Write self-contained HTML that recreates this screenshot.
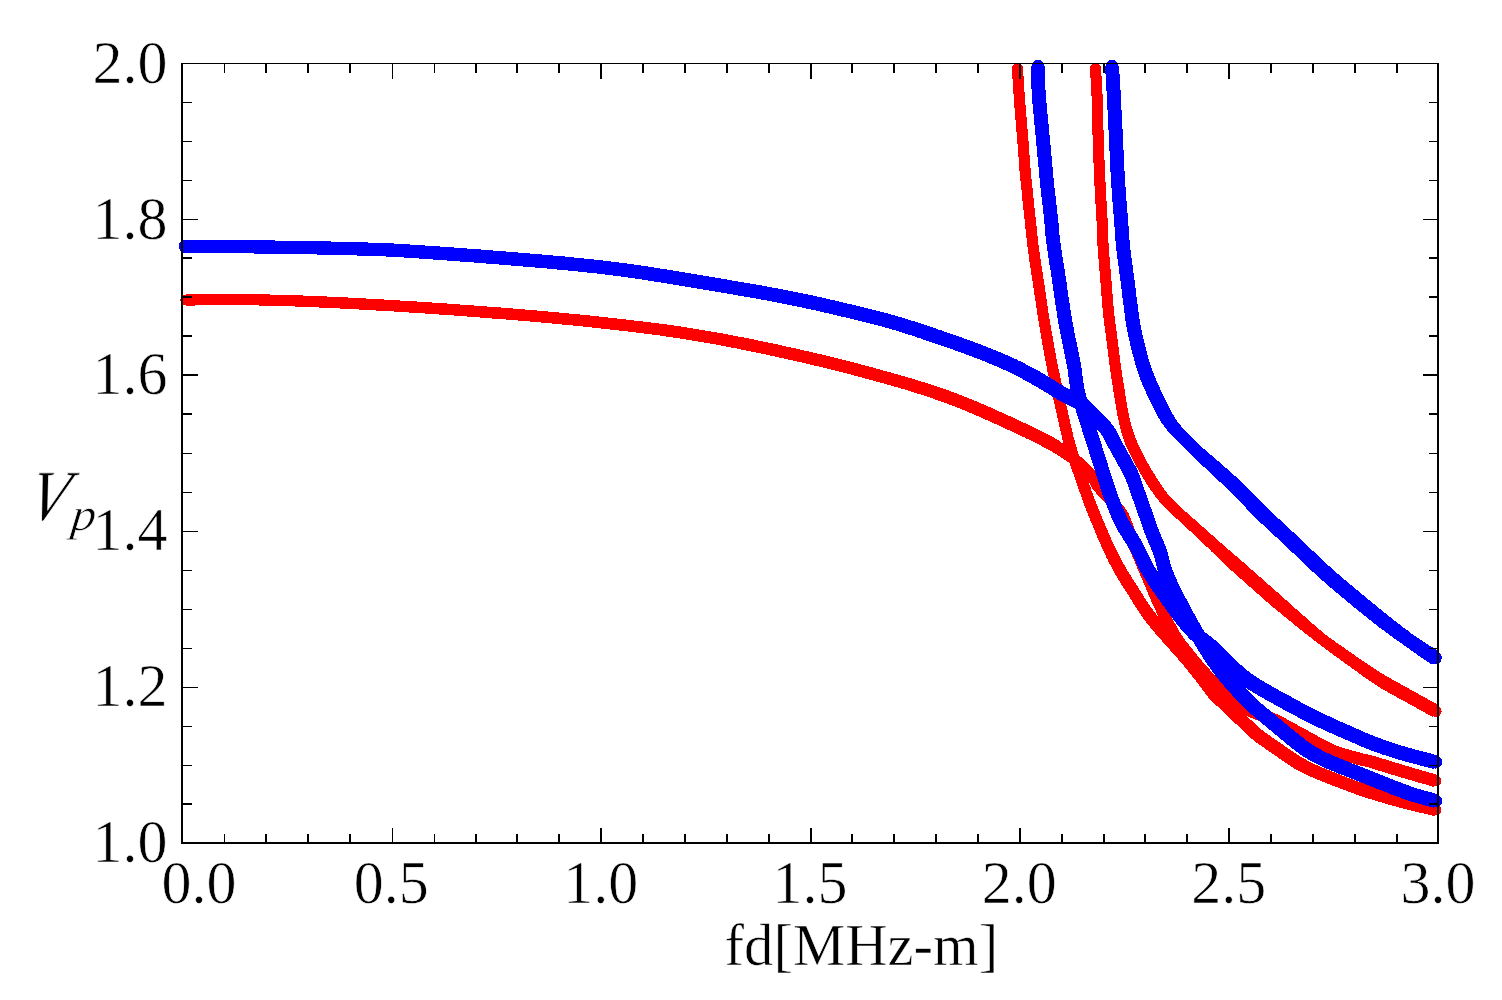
<!DOCTYPE html>
<html lang="en"><head><meta charset="utf-8"><title>Vp vs fd</title>
<style>html,body{margin:0;padding:0;background:#fff;}body{width:1502px;height:1000px;overflow:hidden;position:relative;}</style>
</head><body>
<svg width="1502" height="1000" viewBox="0 0 1502 1000" style="position:absolute;left:0;top:0">
<rect x="0" y="0" width="1502" height="1000" fill="#ffffff"/>
<g fill="#ff0000" stroke="none" fill-rule="nonzero" shape-rendering="crispEdges">
<path d="M186.1 305.6 L187.6 305.6 L189.1 305.5 L190.6 305.5 L192.1 305.5 L193.6 305.5 L195.1 305.5 L196.6 305.4 L198.1 305.4 L199.6 305.4 L201.1 305.4 L202.6 305.4 L204.0 305.4 L205.5 305.3 L207.0 305.3 L208.5 305.3 L210.0 305.3 L211.5 305.3 L213.0 305.3 L214.5 305.3 L216.0 305.3 L217.5 305.2 L219.0 305.2 L220.5 305.2 L222.0 305.2 L223.5 305.2 L225.0 305.2 L226.5 305.2 L228.0 305.2 L229.5 305.2 L231.0 305.2 L232.5 305.2 L234.0 305.2 L235.5 305.2 L236.9 305.2 L238.4 305.2 L239.9 305.2 L241.4 305.3 L242.9 305.3 L244.4 305.3 L245.9 305.3 L247.4 305.3 L248.9 305.3 L250.4 305.3 L251.9 305.4 L253.4 305.4 L254.9 305.4 L256.4 305.4 L257.9 305.4 L259.4 305.5 L260.9 305.5 L262.3 305.5 L263.8 305.6 L265.3 305.6 L266.8 305.6 L268.3 305.6 L269.8 305.7 L271.3 305.7 L272.8 305.8 L274.3 305.8 L275.8 305.8 L277.3 305.9 L278.8 305.9 L280.3 306.0 L281.8 306.0 L283.2 306.0 L284.7 306.1 L286.2 306.1 L287.7 306.2 L289.2 306.2 L290.7 306.3 L292.2 306.4 L293.7 306.4 L295.2 306.5 L296.7 306.5 L298.2 306.6 L299.7 306.7 L301.2 306.7 L302.6 306.8 L304.1 306.8 L305.6 306.9 L307.1 307.0 L308.6 307.0 L310.1 307.1 L311.6 307.2 L313.1 307.2 L314.6 307.3 L316.1 307.4 L317.6 307.4 L319.1 307.5 L320.6 307.6 L322.1 307.6 L323.6 307.7 L325.1 307.8 L326.6 307.9 L328.1 307.9 L329.6 308.0 L331.1 308.1 L332.5 308.1 L334.0 308.2 L335.5 308.3 L337.0 308.4 L338.5 308.4 L340.0 308.5 L341.5 308.6 L343.0 308.7 L344.5 308.7 L346.0 308.8 L347.5 308.9 L349.0 309.0 L350.5 309.1 L352.0 309.1 L353.5 309.2 L355.0 309.3 L356.5 309.4 L358.0 309.4 L359.5 309.5 L360.9 309.6 L362.4 309.7 L363.9 309.8 L365.4 309.9 L366.9 309.9 L368.4 310.0 L369.9 310.1 L371.4 310.2 L372.9 310.3 L374.4 310.4 L375.9 310.5 L377.4 310.5 L378.9 310.6 L380.4 310.7 L381.9 310.8 L383.4 310.9 L384.9 311.0 L386.3 311.1 L387.8 311.2 L389.3 311.2 L390.8 311.3 L392.3 311.4 L393.8 311.5 L395.3 311.6 L396.8 311.7 L398.3 311.8 L399.8 311.9 L401.3 312.0 L402.8 312.1 L404.3 312.2 L405.8 312.3 L407.3 312.4 L408.8 312.5 L410.3 312.6 L411.7 312.6 L413.2 312.7 L414.7 312.8 L416.2 312.9 L417.7 313.0 L419.2 313.1 L420.7 313.2 L422.2 313.3 L423.7 313.4 L425.2 313.5 L426.7 313.6 L428.2 313.7 L429.7 313.8 L431.2 313.9 L432.7 314.0 L434.2 314.1 L435.6 314.3 L437.1 314.4 L438.6 314.5 L440.1 314.6 L441.6 314.7 L443.1 314.8 L444.6 314.9 L446.1 315.0 L447.6 315.1 L449.1 315.2 L450.6 315.3 L452.1 315.4 L453.6 315.5 L455.1 315.6 L456.6 315.7 L458.1 315.9 L459.5 316.0 L461.0 316.1 L462.5 316.2 L464.0 316.3 L465.5 316.4 L467.0 316.5 L468.5 316.6 L470.0 316.7 L471.5 316.9 L473.0 317.0 L474.5 317.1 L476.0 317.2 L477.5 317.3 L479.0 317.4 L480.4 317.5 L481.9 317.7 L483.4 317.8 L484.9 317.9 L486.4 318.0 L487.9 318.1 L489.4 318.2 L490.9 318.4 L492.4 318.5 L493.9 318.6 L495.4 318.7 L496.9 318.8 L498.4 318.9 L499.8 319.1 L501.3 319.2 L502.8 319.3 L504.3 319.4 L505.8 319.5 L507.3 319.7 L508.8 319.8 L510.3 319.9 L511.8 320.0 L513.3 320.2 L514.8 320.3 L516.3 320.4 L517.8 320.5 L519.2 320.7 L520.7 320.8 L522.2 320.9 L523.7 321.0 L525.2 321.2 L526.7 321.3 L528.2 321.4 L529.7 321.5 L531.2 321.7 L532.7 321.8 L534.2 321.9 L535.7 322.1 L537.1 322.2 L538.6 322.3 L540.1 322.4 L541.6 322.6 L543.1 322.7 L544.6 322.8 L546.1 323.0 L547.6 323.1 L549.1 323.2 L550.6 323.4 L552.1 323.5 L553.5 323.6 L555.0 323.8 L556.5 323.9 L558.0 324.1 L559.5 324.2 L561.0 324.3 L562.5 324.5 L564.0 324.6 L565.4 324.8 L566.9 324.9 L568.4 325.1 L569.9 325.2 L571.4 325.4 L572.9 325.5 L574.4 325.6 L575.9 325.8 L577.4 325.9 L578.8 326.1 L580.3 326.3 L581.8 326.4 L583.3 326.6 L584.8 326.7 L586.3 326.9 L587.8 327.0 L589.2 327.2 L590.7 327.3 L592.2 327.5 L593.7 327.7 L595.2 327.8 L596.7 328.0 L598.2 328.1 L599.7 328.3 L601.1 328.5 L602.6 328.6 L604.1 328.8 L605.6 329.0 L607.1 329.1 L608.6 329.3 L610.1 329.5 L611.5 329.6 L613.0 329.8 L614.5 330.0 L616.0 330.1 L617.5 330.3 L619.0 330.5 L620.5 330.7 L621.9 330.8 L623.4 331.0 L624.9 331.2 L626.4 331.4 L627.9 331.5 L629.4 331.7 L630.9 331.9 L632.3 332.1 L633.8 332.2 L635.3 332.4 L636.8 332.6 L638.3 332.8 L639.8 333.0 L641.3 333.2 L642.7 333.3 L644.2 333.5 L645.7 333.7 L647.2 333.9 L648.7 334.1 L650.2 334.3 L651.6 334.5 L653.1 334.7 L654.6 334.8 L656.1 335.0 L657.6 335.2 L659.0 335.4 L660.5 335.6 L662.0 335.9 L663.5 336.1 L664.9 336.3 L666.4 336.5 L667.9 336.7 L669.4 336.9 L670.8 337.1 L672.3 337.3 L673.8 337.6 L675.3 337.8 L676.7 338.0 L678.2 338.2 L679.7 338.5 L681.2 338.7 L682.6 338.9 L684.1 339.2 L685.6 339.4 L687.0 339.6 L688.5 339.9 L690.0 340.1 L691.5 340.3 L692.9 340.6 L694.4 340.8 L695.9 341.1 L697.3 341.3 L698.8 341.6 L700.3 341.8 L701.8 342.1 L703.2 342.3 L704.7 342.6 L706.2 342.9 L707.6 343.1 L709.1 343.4 L710.6 343.6 L712.0 343.9 L713.5 344.2 L715.0 344.4 L716.5 344.7 L717.9 345.0 L719.4 345.2 L720.9 345.5 L722.3 345.8 L723.8 346.1 L725.3 346.3 L726.7 346.6 L728.2 346.9 L729.7 347.2 L731.1 347.5 L732.6 347.7 L734.1 348.0 L735.5 348.3 L737.0 348.6 L738.5 348.9 L739.9 349.2 L741.4 349.5 L742.9 349.8 L744.3 350.1 L745.8 350.4 L747.3 350.7 L748.7 351.0 L750.2 351.3 L751.6 351.6 L753.1 351.9 L754.6 352.2 L756.0 352.5 L757.5 352.8 L759.0 353.1 L760.4 353.4 L761.9 353.7 L763.3 354.0 L764.8 354.3 L766.3 354.6 L767.7 354.9 L769.2 355.2 L770.6 355.6 L772.1 355.9 L773.6 356.2 L775.0 356.5 L776.5 356.8 L777.9 357.2 L779.4 357.5 L780.8 357.8 L782.3 358.1 L783.8 358.5 L785.2 358.8 L786.7 359.1 L788.1 359.4 L789.6 359.8 L791.1 360.1 L792.5 360.4 L794.0 360.8 L795.4 361.1 L796.9 361.4 L798.3 361.8 L799.8 362.1 L801.2 362.4 L802.7 362.8 L804.2 363.1 L805.6 363.4 L807.1 363.8 L808.5 364.1 L810.0 364.5 L811.4 364.8 L812.9 365.2 L814.4 365.5 L815.8 365.8 L817.3 366.2 L818.7 366.5 L820.2 366.9 L821.6 367.2 L823.1 367.6 L824.5 367.9 L826.0 368.3 L827.4 368.7 L828.9 369.0 L830.3 369.4 L831.8 369.7 L833.2 370.1 L834.7 370.5 L836.1 370.8 L837.6 371.2 L839.0 371.6 L840.5 371.9 L841.9 372.3 L843.3 372.7 L844.8 373.0 L846.2 373.4 L847.7 373.8 L849.1 374.2 L850.6 374.5 L852.0 374.9 L853.5 375.3 L854.9 375.7 L856.3 376.1 L857.8 376.4 L859.2 376.8 L860.7 377.2 L862.1 377.6 L863.6 378.0 L865.0 378.4 L866.4 378.8 L867.9 379.2 L869.3 379.6 L870.8 379.9 L872.2 380.3 L873.6 380.7 L875.1 381.1 L876.5 381.5 L878.0 381.9 L879.4 382.3 L880.8 382.7 L882.3 383.1 L883.7 383.5 L885.2 383.9 L886.6 384.4 L888.0 384.8 L889.5 385.2 L890.9 385.6 L892.4 386.0 L893.8 386.4 L895.2 386.8 L896.7 387.2 L898.1 387.6 L899.5 388.1 L901.0 388.5 L902.4 388.9 L903.8 389.3 L905.2 389.7 L906.7 390.2 L908.1 390.6 L909.5 391.0 L910.9 391.5 L912.4 391.9 L913.8 392.3 L915.2 392.8 L916.6 393.2 L918.0 393.7 L919.5 394.1 L920.9 394.6 L922.3 395.0 L923.7 395.5 L925.1 396.0 L926.5 396.4 L927.9 396.9 L929.3 397.4 L930.7 397.8 L932.1 398.3 L933.5 398.8 L934.9 399.3 L936.3 399.8 L937.7 400.3 L939.1 400.7 L940.5 401.2 L941.9 401.7 L943.3 402.2 L944.7 402.8 L946.1 403.3 L947.5 403.8 L948.9 404.3 L950.3 404.8 L951.7 405.4 L953.1 405.9 L954.4 406.4 L955.8 407.0 L957.2 407.5 L958.6 408.0 L959.9 408.6 L961.3 409.2 L962.7 409.7 L964.1 410.3 L965.4 410.8 L966.8 411.4 L968.2 412.0 L969.5 412.6 L970.9 413.1 L972.3 413.7 L973.6 414.3 L975.0 414.9 L976.3 415.5 L977.7 416.1 L979.1 416.7 L980.4 417.3 L981.8 417.9 L983.1 418.5 L984.5 419.1 L985.9 419.7 L987.2 420.3 L988.6 420.9 L990.0 421.5 L991.3 422.2 L992.7 422.8 L994.0 423.4 L995.4 424.0 L996.8 424.6 L998.1 425.2 L999.5 425.9 L1000.9 426.5 L1002.2 427.1 L1003.6 427.7 L1004.9 428.3 L1006.3 429.0 L1007.7 429.6 L1009.0 430.2 L1010.4 430.8 L1011.7 431.4 L1013.1 432.1 L1014.4 432.7 L1015.8 433.3 L1017.1 434.0 L1018.5 434.6 L1019.8 435.2 L1021.1 435.9 L1022.5 436.5 L1023.8 437.2 L1025.2 437.8 L1026.5 438.5 L1027.8 439.1 L1029.2 439.8 L1030.5 440.4 L1031.8 441.1 L1033.2 441.7 L1034.5 442.4 L1035.8 443.1 L1037.1 443.7 L1038.5 444.4 L1039.8 445.1 L1041.1 445.8 L1042.4 446.5 L1043.7 447.1 L1045.0 447.8 L1046.3 448.5 L1047.6 449.2 L1048.8 449.8 L1050.0 450.5 L1051.3 451.2 L1052.5 451.9 L1053.7 452.7 L1054.9 453.4 L1056.1 454.2 L1057.4 455.0 L1058.6 455.8 L1059.8 456.6 L1061.1 457.4 L1062.3 458.2 L1063.6 459.1 L1064.8 459.9 L1066.1 460.7 L1067.3 461.5 L1068.5 462.4 L1069.7 463.2 L1070.9 464.0 L1072.0 464.9 L1073.2 465.7 L1074.3 466.6 L1075.5 467.5 L1076.6 468.3 L1077.7 469.2 L1078.8 470.1 L1079.9 471.1 L1081.0 472.0 L1082.0 472.9 L1083.0 473.9 L1083.9 474.8 L1084.8 475.7 L1085.5 476.7 L1086.2 477.7 L1086.9 478.8 L1087.6 479.9 L1088.3 481.2 L1089.0 482.5 L1089.7 483.8 L1090.5 485.2 L1091.3 486.6 L1092.2 488.1 L1093.1 489.5 L1094.2 490.9 L1095.2 492.1 L1096.3 493.4 L1097.4 494.6 L1098.5 495.7 L1099.5 496.8 L1100.6 497.9 L1101.6 499.0 L1102.7 500.1 L1103.7 501.1 L1104.7 502.2 L1105.7 503.2 L1106.7 504.3 L1107.6 505.4 L1108.5 506.6 L1109.5 507.7 L1110.4 508.9 L1111.3 510.1 L1112.2 511.2 L1113.1 512.3 L1113.9 513.5 L1114.8 514.6 L1115.5 515.7 L1116.3 516.7 L1116.9 517.8 L1117.6 518.9 L1118.2 520.0 L1118.8 521.2 L1119.4 522.4 L1120.0 523.6 L1120.6 524.9 L1121.1 526.2 L1121.6 527.6 L1122.1 528.9 L1122.6 530.3 L1123.1 531.7 L1123.6 533.1 L1124.0 534.5 L1124.5 535.9 L1125.0 537.3 L1125.4 538.8 L1125.9 540.2 L1126.4 541.7 L1127.0 543.2 L1127.5 544.7 L1128.1 546.1 L1128.6 547.5 L1129.2 549.0 L1129.8 550.4 L1130.4 551.7 L1131.0 553.1 L1131.6 554.5 L1132.1 555.9 L1132.7 557.3 L1133.3 558.6 L1133.9 560.0 L1134.5 561.4 L1135.1 562.8 L1135.6 564.2 L1136.2 565.6 L1136.8 566.9 L1137.4 568.3 L1138.0 569.7 L1138.6 571.1 L1139.1 572.5 L1139.7 573.8 L1140.3 575.2 L1140.9 576.6 L1141.5 578.0 L1142.1 579.4 L1142.6 580.7 L1143.2 582.1 L1143.8 583.5 L1144.4 584.9 L1145.0 586.3 L1145.6 587.6 L1146.1 589.0 L1146.7 590.4 L1147.3 591.8 L1147.9 593.2 L1148.5 594.6 L1149.1 596.0 L1149.7 597.4 L1150.3 598.7 L1150.9 600.1 L1151.5 601.5 L1152.2 602.9 L1152.8 604.2 L1153.4 605.6 L1154.0 607.0 L1154.6 608.3 L1155.2 609.7 L1155.8 611.1 L1156.4 612.5 L1157.1 613.8 L1157.7 615.2 L1158.3 616.6 L1158.9 618.0 L1159.6 619.4 L1160.2 620.7 L1160.8 622.1 L1161.5 623.5 L1162.1 624.9 L1162.8 626.3 L1163.5 627.6 L1164.2 629.0 L1164.8 630.4 L1165.5 631.8 L1166.3 633.2 L1167.0 634.6 L1167.7 635.9 L1168.5 637.3 L1169.3 638.7 L1170.1 640.1 L1170.9 641.4 L1171.8 642.7 L1172.6 644.0 L1173.5 645.3 L1174.4 646.6 L1175.2 647.9 L1176.1 649.2 L1177.0 650.4 L1178.0 651.7 L1178.9 652.9 L1179.8 654.2 L1180.8 655.4 L1181.7 656.6 L1182.7 657.8 L1183.6 659.0 L1184.6 660.2 L1185.6 661.4 L1186.5 662.5 L1187.5 663.7 L1188.5 664.9 L1189.4 666.0 L1190.4 667.2 L1191.4 668.4 L1192.4 669.5 L1193.3 670.7 L1194.3 671.9 L1195.3 673.0 L1196.3 674.2 L1197.3 675.3 L1198.3 676.5 L1199.3 677.6 L1200.4 678.7 L1201.4 679.9 L1202.4 681.0 L1203.4 682.1 L1204.4 683.2 L1205.5 684.4 L1206.5 685.5 L1207.6 686.6 L1208.6 687.7 L1209.7 688.8 L1210.7 689.9 L1211.8 691.0 L1212.8 692.1 L1213.9 693.1 L1215.0 694.2 L1216.0 695.3 L1217.1 696.4 L1218.2 697.5 L1219.3 698.6 L1220.5 699.7 L1221.7 700.8 L1222.9 701.9 L1224.1 703.0 L1225.4 704.0 L1226.7 705.1 L1228.1 706.1 L1229.5 707.0 L1230.9 707.9 L1232.4 708.7 L1233.8 709.5 L1235.2 710.3 L1236.6 711.1 L1238.0 711.8 L1239.4 712.5 L1240.8 713.2 L1242.2 713.8 L1243.6 714.5 L1245.0 715.1 L1246.4 715.7 L1247.8 716.4 L1249.2 717.0 L1250.6 717.6 L1252.0 718.2 L1253.4 718.8 L1254.9 719.4 L1256.3 720.0 L1257.7 720.5 L1259.2 721.1 L1260.6 721.6 L1262.0 722.2 L1263.4 722.7 L1264.8 723.3 L1266.1 723.8 L1267.5 724.3 L1268.8 724.9 L1270.1 725.5 L1271.4 726.0 L1272.7 726.6 L1273.9 727.2 L1275.1 727.9 L1276.4 728.5 L1277.6 729.2 L1278.9 729.9 L1280.2 730.6 L1281.5 731.4 L1282.9 732.1 L1284.2 732.8 L1285.5 733.5 L1286.8 734.2 L1288.1 734.9 L1289.4 735.7 L1290.7 736.4 L1292.1 737.1 L1293.4 737.8 L1294.7 738.5 L1296.0 739.3 L1297.3 740.0 L1298.6 740.7 L1300.0 741.4 L1301.3 742.1 L1302.6 742.8 L1303.9 743.6 L1305.2 744.3 L1306.5 745.0 L1307.8 745.7 L1309.2 746.4 L1310.5 747.1 L1311.8 747.9 L1313.1 748.6 L1314.4 749.3 L1315.7 750.0 L1317.1 750.7 L1318.4 751.5 L1319.7 752.2 L1321.1 752.9 L1322.5 753.7 L1324.0 754.4 L1325.4 755.0 L1326.9 755.7 L1328.4 756.3 L1329.9 756.9 L1331.4 757.4 L1332.9 757.9 L1334.4 758.4 L1335.9 758.9 L1337.4 759.4 L1338.9 759.8 L1340.5 760.3 L1342.0 760.7 L1343.4 761.1 L1344.9 761.5 L1346.4 761.9 L1347.9 762.3 L1349.4 762.7 L1350.9 763.0 L1352.3 763.4 L1353.8 763.8 L1355.2 764.2 L1356.7 764.6 L1358.2 764.9 L1359.7 765.3 L1361.1 765.7 L1362.6 766.0 L1364.1 766.4 L1365.5 766.7 L1366.9 767.1 L1368.3 767.4 L1369.7 767.8 L1371.0 768.3 L1372.4 768.7 L1373.8 769.1 L1375.3 769.6 L1376.7 770.0 L1378.1 770.4 L1379.5 770.9 L1381.0 771.3 L1382.4 771.8 L1383.8 772.2 L1385.3 772.6 L1386.7 773.1 L1388.1 773.5 L1389.6 774.0 L1391.0 774.4 L1392.5 774.8 L1393.9 775.3 L1395.4 775.7 L1396.8 776.1 L1398.3 776.5 L1399.7 777.0 L1401.1 777.4 L1402.6 777.8 L1404.0 778.2 L1405.4 778.7 L1406.9 779.1 L1408.3 779.5 L1409.8 779.9 L1411.2 780.3 L1412.6 780.8 L1414.1 781.2 L1415.5 781.6 L1417.0 782.0 L1418.4 782.5 L1419.8 782.9 L1421.3 783.3 L1422.7 783.7 L1424.2 784.1 L1425.6 784.5 L1427.1 785.0 L1428.5 785.4 L1429.9 785.8 L1431.4 786.2 L1432.8 786.6 L1434.3 787.0 L1437.7 775.0 L1436.3 774.6 L1434.9 774.1 L1433.4 773.7 L1432.0 773.3 L1430.5 772.9 L1429.1 772.5 L1427.7 772.1 L1426.2 771.6 L1424.8 771.2 L1423.4 770.8 L1421.9 770.4 L1420.5 770.0 L1419.1 769.5 L1417.6 769.1 L1416.2 768.7 L1414.7 768.3 L1413.3 767.9 L1411.9 767.4 L1410.4 767.0 L1409.0 766.6 L1407.6 766.2 L1406.1 765.7 L1404.7 765.3 L1403.3 764.9 L1401.8 764.5 L1400.4 764.0 L1399.0 763.6 L1397.5 763.2 L1396.1 762.8 L1394.7 762.3 L1393.3 761.9 L1391.8 761.4 L1390.4 761.0 L1389.0 760.6 L1387.5 760.1 L1386.1 759.7 L1384.7 759.2 L1383.2 758.8 L1381.8 758.4 L1380.4 757.9 L1378.9 757.5 L1377.5 757.1 L1376.0 756.6 L1374.5 756.2 L1373.0 755.8 L1371.5 755.4 L1370.0 755.0 L1368.5 754.7 L1367.0 754.3 L1365.5 754.0 L1364.1 753.7 L1362.7 753.3 L1361.3 752.9 L1359.8 752.5 L1358.4 752.1 L1356.9 751.8 L1355.5 751.4 L1354.0 751.0 L1352.6 750.6 L1351.1 750.2 L1349.7 749.8 L1348.3 749.4 L1346.8 749.0 L1345.4 748.6 L1344.1 748.2 L1342.7 747.8 L1341.3 747.3 L1340.0 746.9 L1338.6 746.4 L1337.3 745.9 L1336.0 745.4 L1334.7 744.9 L1333.4 744.3 L1332.2 743.7 L1330.9 743.2 L1329.7 742.6 L1328.5 741.9 L1327.2 741.3 L1326.0 740.6 L1324.7 739.9 L1323.4 739.1 L1322.1 738.4 L1320.8 737.7 L1319.4 737.0 L1318.1 736.3 L1316.8 735.6 L1315.5 734.8 L1314.2 734.1 L1312.9 733.4 L1311.5 732.7 L1310.2 732.0 L1308.9 731.2 L1307.6 730.5 L1306.3 729.8 L1305.0 729.1 L1303.6 728.4 L1302.3 727.7 L1301.0 726.9 L1299.7 726.2 L1298.4 725.5 L1297.1 724.8 L1295.8 724.1 L1294.4 723.4 L1293.1 722.6 L1291.8 721.9 L1290.5 721.2 L1289.2 720.5 L1287.9 719.8 L1286.5 719.0 L1285.2 718.3 L1283.9 717.6 L1282.5 716.9 L1281.1 716.1 L1279.6 715.4 L1278.2 714.8 L1276.7 714.1 L1275.2 713.5 L1273.8 712.9 L1272.3 712.3 L1270.9 711.8 L1269.5 711.2 L1268.0 710.7 L1266.6 710.2 L1265.2 709.6 L1263.9 709.1 L1262.5 708.5 L1261.1 708.0 L1259.8 707.4 L1258.5 706.9 L1257.1 706.3 L1255.8 705.7 L1254.5 705.1 L1253.1 704.5 L1251.8 703.9 L1250.5 703.2 L1249.2 702.6 L1247.9 702.0 L1246.6 701.4 L1245.3 700.7 L1244.0 700.1 L1242.8 699.4 L1241.5 698.7 L1240.3 698.0 L1239.1 697.3 L1237.9 696.6 L1236.8 695.9 L1235.7 695.2 L1234.6 694.4 L1233.6 693.6 L1232.6 692.8 L1231.5 691.9 L1230.5 691.0 L1229.5 690.1 L1228.4 689.1 L1227.4 688.1 L1226.4 687.1 L1225.3 686.0 L1224.3 685.0 L1223.2 683.9 L1222.2 682.9 L1221.1 681.8 L1220.1 680.8 L1219.1 679.7 L1218.1 678.6 L1217.0 677.6 L1216.0 676.5 L1215.0 675.4 L1214.0 674.4 L1213.0 673.3 L1212.0 672.2 L1211.0 671.1 L1210.0 670.0 L1209.0 669.0 L1208.0 667.9 L1207.1 666.8 L1206.1 665.7 L1205.1 664.5 L1204.2 663.4 L1203.2 662.3 L1202.2 661.2 L1201.3 660.0 L1200.3 658.9 L1199.3 657.7 L1198.4 656.6 L1197.4 655.5 L1196.5 654.3 L1195.5 653.2 L1194.6 652.0 L1193.6 650.9 L1192.7 649.7 L1191.8 648.6 L1190.8 647.5 L1189.9 646.3 L1189.0 645.2 L1188.2 644.0 L1187.3 642.9 L1186.4 641.7 L1185.5 640.5 L1184.7 639.4 L1183.9 638.2 L1183.1 637.0 L1182.2 635.9 L1181.5 634.7 L1180.7 633.5 L1179.9 632.3 L1179.2 631.1 L1178.4 629.9 L1177.7 628.6 L1177.0 627.4 L1176.3 626.1 L1175.7 624.8 L1175.0 623.5 L1174.3 622.2 L1173.7 620.9 L1173.0 619.6 L1172.4 618.3 L1171.7 616.9 L1171.1 615.6 L1170.5 614.3 L1169.8 612.9 L1169.2 611.6 L1168.6 610.3 L1168.0 608.9 L1167.4 607.6 L1166.8 606.2 L1166.1 604.8 L1165.5 603.5 L1164.9 602.1 L1164.3 600.7 L1163.7 599.4 L1163.1 598.0 L1162.5 596.6 L1161.9 595.3 L1161.3 593.9 L1160.7 592.5 L1160.1 591.2 L1159.5 589.8 L1158.9 588.5 L1158.3 587.1 L1157.7 585.7 L1157.1 584.4 L1156.5 583.0 L1155.9 581.6 L1155.4 580.2 L1154.8 578.9 L1154.2 577.5 L1153.6 576.1 L1153.0 574.7 L1152.4 573.3 L1151.9 572.0 L1151.3 570.6 L1150.7 569.2 L1150.1 567.8 L1149.5 566.4 L1148.9 565.1 L1148.4 563.7 L1147.8 562.3 L1147.2 560.9 L1146.6 559.5 L1146.0 558.2 L1145.4 556.8 L1144.9 555.4 L1144.3 554.0 L1143.7 552.6 L1143.1 551.3 L1142.5 549.9 L1141.9 548.5 L1141.4 547.1 L1140.8 545.7 L1140.2 544.4 L1139.6 543.0 L1139.0 541.7 L1138.5 540.4 L1138.0 539.1 L1137.5 537.7 L1137.0 536.4 L1136.5 535.0 L1136.0 533.6 L1135.5 532.2 L1135.1 530.8 L1134.6 529.3 L1134.1 527.9 L1133.6 526.4 L1133.1 525.0 L1132.6 523.5 L1132.1 522.0 L1131.5 520.5 L1131.0 519.0 L1130.4 517.5 L1129.7 516.0 L1129.0 514.4 L1128.2 512.9 L1127.3 511.4 L1126.4 510.0 L1125.4 508.6 L1124.4 507.3 L1123.3 506.0 L1122.3 504.8 L1121.2 503.6 L1120.1 502.5 L1119.1 501.4 L1118.0 500.3 L1117.0 499.2 L1115.9 498.1 L1114.9 496.9 L1113.9 495.8 L1112.8 494.6 L1111.7 493.5 L1110.7 492.4 L1109.6 491.3 L1108.6 490.2 L1107.6 489.2 L1106.6 488.1 L1105.6 487.1 L1104.7 486.0 L1103.8 485.0 L1102.9 484.0 L1102.2 483.0 L1101.5 482.0 L1100.8 480.9 L1100.1 479.7 L1099.4 478.4 L1098.7 477.1 L1098.0 475.7 L1097.2 474.3 L1096.3 472.9 L1095.4 471.4 L1094.4 470.0 L1093.3 468.6 L1092.1 467.3 L1091.0 466.1 L1089.8 464.9 L1088.6 463.8 L1087.5 462.7 L1086.3 461.6 L1085.2 460.5 L1084.0 459.5 L1082.8 458.5 L1081.6 457.5 L1080.4 456.5 L1079.2 455.5 L1077.9 454.6 L1076.7 453.6 L1075.5 452.7 L1074.3 451.8 L1073.0 450.8 L1071.8 449.9 L1070.6 449.1 L1069.3 448.2 L1068.1 447.3 L1066.9 446.4 L1065.7 445.5 L1064.5 444.6 L1063.2 443.7 L1061.9 442.8 L1060.7 441.9 L1059.4 441.0 L1058.0 440.1 L1056.7 439.3 L1055.3 438.4 L1053.9 437.6 L1052.6 436.9 L1051.2 436.2 L1049.8 435.5 L1048.5 434.8 L1047.1 434.1 L1045.8 433.4 L1044.4 432.7 L1043.1 432.0 L1041.7 431.3 L1040.4 430.6 L1039.0 430.0 L1037.6 429.3 L1036.3 428.6 L1034.9 428.0 L1033.6 427.3 L1032.2 426.7 L1030.9 426.0 L1029.5 425.3 L1028.1 424.7 L1026.8 424.0 L1025.4 423.4 L1024.0 422.8 L1022.7 422.1 L1021.3 421.5 L1019.9 420.8 L1018.6 420.2 L1017.2 419.6 L1015.8 419.0 L1014.5 418.3 L1013.1 417.7 L1011.7 417.1 L1010.4 416.4 L1009.0 415.8 L1007.6 415.2 L1006.3 414.6 L1004.9 414.0 L1003.5 413.3 L1002.1 412.7 L1000.8 412.1 L999.4 411.5 L998.0 410.9 L996.7 410.3 L995.3 409.6 L993.9 409.0 L992.6 408.4 L991.2 407.8 L989.8 407.2 L988.4 406.6 L987.0 406.0 L985.7 405.4 L984.3 404.8 L982.9 404.2 L981.5 403.6 L980.1 403.0 L978.7 402.4 L977.4 401.8 L976.0 401.2 L974.6 400.6 L973.2 400.0 L971.8 399.4 L970.4 398.9 L969.0 398.3 L967.6 397.7 L966.1 397.2 L964.7 396.6 L963.3 396.0 L961.9 395.5 L960.5 394.9 L959.1 394.4 L957.6 393.9 L956.2 393.3 L954.8 392.8 L953.4 392.3 L951.9 391.7 L950.5 391.2 L949.1 390.7 L947.7 390.2 L946.2 389.7 L944.8 389.2 L943.4 388.7 L941.9 388.2 L940.5 387.7 L939.1 387.2 L937.6 386.7 L936.2 386.2 L934.8 385.8 L933.3 385.3 L931.9 384.8 L930.5 384.3 L929.0 383.9 L927.6 383.4 L926.2 383.0 L924.7 382.5 L923.3 382.1 L921.8 381.6 L920.4 381.2 L918.9 380.7 L917.5 380.3 L916.1 379.8 L914.6 379.4 L913.2 379.0 L911.7 378.5 L910.3 378.1 L908.8 377.7 L907.4 377.2 L905.9 376.8 L904.5 376.4 L903.0 376.0 L901.6 375.6 L900.1 375.2 L898.7 374.7 L897.2 374.3 L895.8 373.9 L894.3 373.5 L892.9 373.1 L891.4 372.7 L890.0 372.3 L888.5 371.9 L887.1 371.5 L885.6 371.1 L884.2 370.7 L882.7 370.3 L881.3 369.9 L879.8 369.5 L878.4 369.1 L876.9 368.7 L875.5 368.3 L874.0 367.9 L872.6 367.5 L871.1 367.1 L869.7 366.7 L868.2 366.3 L866.8 365.9 L865.3 365.5 L863.9 365.2 L862.4 364.8 L861.0 364.4 L859.5 364.0 L858.1 363.6 L856.6 363.3 L855.2 362.9 L853.7 362.5 L852.3 362.1 L850.8 361.7 L849.3 361.4 L847.9 361.0 L846.4 360.6 L845.0 360.3 L843.5 359.9 L842.1 359.5 L840.6 359.2 L839.1 358.8 L837.7 358.4 L836.2 358.1 L834.8 357.7 L833.3 357.3 L831.8 357.0 L830.4 356.6 L828.9 356.3 L827.4 355.9 L826.0 355.6 L824.5 355.2 L823.0 354.9 L821.6 354.5 L820.1 354.2 L818.7 353.8 L817.2 353.5 L815.7 353.1 L814.3 352.8 L812.8 352.5 L811.3 352.1 L809.9 351.8 L808.4 351.4 L806.9 351.1 L805.5 350.8 L804.0 350.4 L802.6 350.1 L801.1 349.8 L799.6 349.4 L798.2 349.1 L796.7 348.8 L795.2 348.4 L793.8 348.1 L792.3 347.8 L790.8 347.4 L789.4 347.1 L787.9 346.8 L786.4 346.5 L785.0 346.1 L783.5 345.8 L782.0 345.5 L780.6 345.2 L779.1 344.9 L777.6 344.5 L776.2 344.2 L774.7 343.9 L773.2 343.6 L771.7 343.3 L770.3 343.0 L768.8 342.7 L767.3 342.3 L765.9 342.0 L764.4 341.7 L762.9 341.4 L761.4 341.1 L760.0 340.8 L758.5 340.5 L757.0 340.2 L755.6 339.9 L754.1 339.6 L752.6 339.3 L751.1 339.0 L749.7 338.7 L748.2 338.4 L746.7 338.1 L745.2 337.8 L743.8 337.5 L742.3 337.2 L740.8 337.0 L739.3 336.7 L737.9 336.4 L736.4 336.1 L734.9 335.8 L733.4 335.5 L731.9 335.3 L730.5 335.0 L729.0 334.7 L727.5 334.4 L726.0 334.2 L724.5 333.9 L723.1 333.6 L721.6 333.3 L720.1 333.1 L718.6 332.8 L717.1 332.5 L715.6 332.3 L714.2 332.0 L712.7 331.8 L711.2 331.5 L709.7 331.2 L708.2 331.0 L706.8 330.7 L705.3 330.5 L703.8 330.2 L702.3 330.0 L700.8 329.7 L699.3 329.5 L697.8 329.2 L696.4 329.0 L694.9 328.7 L693.4 328.5 L691.9 328.3 L690.4 328.0 L688.9 327.8 L687.4 327.6 L686.0 327.3 L684.5 327.1 L683.0 326.9 L681.5 326.7 L680.0 326.4 L678.5 326.2 L677.0 326.0 L675.5 325.8 L674.0 325.6 L672.5 325.3 L671.1 325.1 L669.6 324.9 L668.1 324.7 L666.6 324.5 L665.1 324.3 L663.6 324.1 L662.1 323.9 L660.6 323.7 L659.1 323.5 L657.6 323.3 L656.1 323.1 L654.6 322.9 L653.1 322.7 L651.6 322.6 L650.1 322.4 L648.7 322.2 L647.2 322.0 L645.7 321.8 L644.2 321.6 L642.7 321.5 L641.2 321.3 L639.7 321.1 L638.2 320.9 L636.7 320.7 L635.2 320.6 L633.7 320.4 L632.3 320.2 L630.8 320.0 L629.3 319.9 L627.8 319.7 L626.3 319.5 L624.8 319.3 L623.3 319.2 L621.8 319.0 L620.3 318.8 L618.8 318.6 L617.3 318.5 L615.8 318.3 L614.4 318.1 L612.9 318.0 L611.4 317.8 L609.9 317.6 L608.4 317.5 L606.9 317.3 L605.4 317.1 L603.9 317.0 L602.4 316.8 L600.9 316.7 L599.4 316.5 L597.9 316.3 L596.4 316.2 L594.9 316.0 L593.5 315.9 L592.0 315.7 L590.5 315.6 L589.0 315.4 L587.5 315.2 L586.0 315.1 L584.5 314.9 L583.0 314.8 L581.5 314.6 L580.0 314.5 L578.5 314.3 L577.0 314.2 L575.5 314.0 L574.0 313.9 L572.5 313.8 L571.0 313.6 L569.5 313.5 L568.1 313.3 L566.6 313.2 L565.1 313.0 L563.6 312.9 L562.1 312.8 L560.6 312.6 L559.1 312.5 L557.6 312.4 L556.1 312.2 L554.6 312.1 L553.1 311.9 L551.6 311.8 L550.1 311.7 L548.6 311.6 L547.1 311.4 L545.6 311.3 L544.1 311.2 L542.6 311.0 L541.1 310.9 L539.6 310.8 L538.1 310.6 L536.6 310.5 L535.2 310.4 L533.7 310.3 L532.2 310.1 L530.7 310.0 L529.2 309.9 L527.7 309.8 L526.2 309.6 L524.7 309.5 L523.2 309.4 L521.7 309.2 L520.2 309.1 L518.7 309.0 L517.2 308.9 L515.7 308.8 L514.2 308.6 L512.7 308.5 L511.2 308.4 L509.7 308.3 L508.2 308.1 L506.8 308.0 L505.3 307.9 L503.8 307.8 L502.3 307.7 L500.8 307.5 L499.3 307.4 L497.8 307.3 L496.3 307.2 L494.8 307.1 L493.3 307.0 L491.8 306.8 L490.3 306.7 L488.8 306.6 L487.3 306.5 L485.8 306.4 L484.3 306.3 L482.8 306.1 L481.3 306.0 L479.8 305.9 L478.3 305.8 L476.8 305.7 L475.3 305.6 L473.9 305.5 L472.4 305.4 L470.9 305.2 L469.4 305.1 L467.9 305.0 L466.4 304.9 L464.9 304.8 L463.4 304.7 L461.9 304.6 L460.4 304.5 L458.9 304.4 L457.4 304.3 L455.9 304.2 L454.4 304.0 L452.9 303.9 L451.4 303.8 L449.9 303.7 L448.4 303.6 L446.9 303.5 L445.4 303.4 L443.9 303.3 L442.4 303.2 L440.9 303.1 L439.4 303.0 L437.9 302.9 L436.4 302.8 L434.9 302.7 L433.4 302.6 L431.9 302.5 L430.5 302.4 L429.0 302.3 L427.5 302.2 L426.0 302.1 L424.5 302.0 L423.0 301.9 L421.5 301.8 L420.0 301.7 L418.5 301.6 L417.0 301.5 L415.5 301.4 L414.0 301.3 L412.5 301.2 L411.0 301.1 L409.5 301.0 L408.0 300.9 L406.5 300.8 L405.0 300.7 L403.5 300.6 L402.0 300.6 L400.5 300.5 L399.0 300.4 L397.5 300.3 L396.0 300.2 L394.5 300.1 L393.0 300.0 L391.5 299.9 L390.0 299.8 L388.5 299.7 L387.0 299.7 L385.5 299.6 L384.0 299.5 L382.5 299.4 L381.0 299.3 L379.5 299.2 L378.0 299.1 L376.5 299.0 L375.0 299.0 L373.5 298.9 L372.0 298.8 L370.6 298.7 L369.1 298.6 L367.6 298.5 L366.1 298.5 L364.6 298.4 L363.1 298.3 L361.6 298.2 L360.1 298.1 L358.6 298.1 L357.1 298.0 L355.6 297.9 L354.1 297.8 L352.6 297.7 L351.1 297.7 L349.6 297.6 L348.1 297.5 L346.6 297.4 L345.1 297.4 L343.6 297.3 L342.1 297.2 L340.6 297.1 L339.1 297.1 L337.6 297.0 L336.1 296.9 L334.6 296.9 L333.1 296.8 L331.6 296.7 L330.1 296.6 L328.6 296.6 L327.1 296.5 L325.6 296.4 L324.1 296.4 L322.6 296.3 L321.1 296.2 L319.6 296.2 L318.1 296.1 L316.6 296.0 L315.1 296.0 L313.6 295.9 L312.1 295.8 L310.6 295.8 L309.1 295.7 L307.6 295.6 L306.1 295.6 L304.6 295.5 L303.1 295.5 L301.6 295.4 L300.1 295.3 L298.6 295.3 L297.1 295.2 L295.6 295.2 L294.1 295.1 L292.6 295.1 L291.1 295.0 L289.6 295.0 L288.1 294.9 L286.6 294.9 L285.1 294.8 L283.6 294.8 L282.1 294.7 L280.6 294.7 L279.1 294.7 L277.6 294.6 L276.1 294.6 L274.6 294.6 L273.1 294.5 L271.6 294.5 L270.1 294.5 L268.6 294.4 L267.0 294.4 L265.5 294.4 L264.0 294.4 L262.5 294.3 L261.0 294.3 L259.5 294.3 L258.0 294.3 L256.5 294.2 L255.0 294.2 L253.5 294.2 L252.0 294.2 L250.5 294.2 L249.0 294.2 L247.5 294.2 L246.0 294.1 L244.5 294.1 L243.0 294.1 L241.5 294.1 L240.0 294.1 L238.5 294.1 L237.0 294.1 L235.5 294.1 L234.0 294.1 L232.5 294.1 L231.0 294.1 L229.5 294.1 L228.0 294.1 L226.5 294.1 L225.0 294.1 L223.5 294.1 L222.0 294.1 L220.5 294.1 L219.0 294.1 L217.5 294.1 L216.0 294.1 L214.5 294.1 L213.0 294.1 L211.5 294.1 L209.9 294.2 L208.4 294.2 L206.9 294.2 L205.4 294.2 L203.9 294.2 L202.4 294.2 L200.9 294.2 L199.4 294.2 L197.9 294.3 L196.4 294.3 L194.9 294.3 L193.4 294.3 L191.9 294.3 L190.4 294.3 L188.9 294.4 L187.4 294.4 L185.9 294.4ZM180.4 300.0a5.5 5.5 0 1 0 11.1 0a5.5 5.5 0 1 0 -11.1 0ZM1430.4 781.0a5.5 5.5 0 1 0 11.1 0a5.5 5.5 0 1 0 -11.1 0Z"/>
<path d="M1011.9 68.8 L1012.0 70.3 L1012.1 71.8 L1012.2 73.3 L1012.3 74.8 L1012.4 76.3 L1012.4 77.8 L1012.5 79.3 L1012.6 80.8 L1012.7 82.3 L1012.8 83.8 L1012.9 85.3 L1013.0 86.8 L1013.1 88.3 L1013.2 89.8 L1013.3 91.3 L1013.4 92.8 L1013.5 94.3 L1013.6 95.8 L1013.7 97.4 L1013.8 98.9 L1013.9 100.4 L1014.1 101.9 L1014.2 103.4 L1014.3 104.9 L1014.4 106.4 L1014.5 107.8 L1014.7 109.3 L1014.8 110.8 L1014.9 112.3 L1015.0 113.8 L1015.2 115.3 L1015.3 116.8 L1015.4 118.3 L1015.5 119.8 L1015.7 121.3 L1015.8 122.8 L1015.9 124.3 L1016.0 125.8 L1016.2 127.3 L1016.3 128.8 L1016.4 130.3 L1016.5 131.8 L1016.7 133.2 L1016.8 134.7 L1016.9 136.2 L1017.0 137.7 L1017.1 139.2 L1017.3 140.7 L1017.4 142.2 L1017.5 143.7 L1017.6 145.2 L1017.7 146.7 L1017.8 148.1 L1018.0 149.6 L1018.1 151.1 L1018.2 152.6 L1018.3 154.1 L1018.4 155.6 L1018.5 157.1 L1018.6 158.6 L1018.7 160.1 L1018.8 161.6 L1018.9 163.1 L1019.0 164.6 L1019.2 166.1 L1019.3 167.6 L1019.4 169.1 L1019.5 170.6 L1019.7 172.1 L1019.8 173.6 L1019.9 175.2 L1020.1 176.7 L1020.2 178.2 L1020.4 179.7 L1020.5 181.2 L1020.7 182.7 L1020.8 184.2 L1021.0 185.7 L1021.1 187.2 L1021.3 188.6 L1021.5 190.1 L1021.6 191.6 L1021.8 193.1 L1021.9 194.6 L1022.1 196.1 L1022.2 197.6 L1022.4 199.1 L1022.5 200.6 L1022.7 202.1 L1022.9 203.6 L1023.0 205.0 L1023.2 206.5 L1023.3 208.0 L1023.5 209.5 L1023.6 211.0 L1023.8 212.5 L1024.0 214.0 L1024.1 215.5 L1024.3 217.0 L1024.4 218.5 L1024.6 220.0 L1024.7 221.4 L1024.9 222.9 L1025.1 224.4 L1025.2 225.9 L1025.4 227.4 L1025.5 228.9 L1025.7 230.4 L1025.8 231.9 L1026.0 233.4 L1026.1 234.9 L1026.3 236.4 L1026.5 237.9 L1026.6 239.4 L1026.8 240.9 L1026.9 242.4 L1027.1 243.9 L1027.3 245.4 L1027.5 246.9 L1027.7 248.4 L1027.8 249.9 L1028.0 251.4 L1028.2 252.9 L1028.5 254.4 L1028.7 255.9 L1028.9 257.4 L1029.1 258.9 L1029.3 260.4 L1029.5 261.9 L1029.8 263.4 L1030.0 264.9 L1030.2 266.4 L1030.5 267.8 L1030.7 269.3 L1030.9 270.8 L1031.1 272.3 L1031.4 273.8 L1031.6 275.2 L1031.8 276.7 L1032.1 278.2 L1032.3 279.7 L1032.5 281.1 L1032.7 282.6 L1032.9 284.1 L1033.2 285.6 L1033.4 287.1 L1033.6 288.6 L1033.8 290.0 L1034.0 291.5 L1034.2 293.0 L1034.5 294.5 L1034.7 296.0 L1034.9 297.5 L1035.1 298.9 L1035.3 300.4 L1035.6 301.9 L1035.8 303.4 L1036.0 304.9 L1036.2 306.4 L1036.4 307.9 L1036.7 309.3 L1036.9 310.8 L1037.1 312.3 L1037.3 313.8 L1037.6 315.3 L1037.8 316.8 L1038.0 318.3 L1038.3 319.8 L1038.5 321.2 L1038.7 322.7 L1039.0 324.2 L1039.2 325.7 L1039.5 327.2 L1039.7 328.7 L1040.0 330.2 L1040.2 331.7 L1040.5 333.1 L1040.7 334.6 L1041.0 336.1 L1041.3 337.6 L1041.5 339.1 L1041.8 340.5 L1042.0 342.0 L1042.3 343.5 L1042.5 345.0 L1042.8 346.4 L1043.1 347.9 L1043.3 349.4 L1043.6 350.9 L1043.9 352.4 L1044.1 353.9 L1044.4 355.3 L1044.7 356.8 L1044.9 358.3 L1045.2 359.8 L1045.5 361.3 L1045.8 362.8 L1046.1 364.3 L1046.4 365.7 L1046.6 367.2 L1046.9 368.7 L1047.2 370.2 L1047.5 371.7 L1047.8 373.1 L1048.1 374.6 L1048.5 376.1 L1048.8 377.6 L1049.1 379.0 L1049.4 380.5 L1049.7 382.0 L1050.0 383.4 L1050.3 384.9 L1050.6 386.4 L1051.0 387.8 L1051.3 389.3 L1051.6 390.8 L1051.9 392.2 L1052.2 393.7 L1052.6 395.2 L1052.9 396.6 L1053.2 398.1 L1053.5 399.6 L1053.8 401.0 L1054.1 402.5 L1054.5 404.0 L1054.8 405.4 L1055.1 406.9 L1055.4 408.4 L1055.7 409.8 L1056.1 411.3 L1056.4 412.8 L1056.7 414.3 L1057.0 415.7 L1057.4 417.2 L1057.7 418.7 L1058.0 420.1 L1058.3 421.6 L1058.7 423.1 L1059.0 424.5 L1059.3 426.0 L1059.7 427.5 L1060.0 428.9 L1060.4 430.4 L1060.7 431.9 L1061.1 433.3 L1061.4 434.8 L1061.7 436.3 L1062.1 437.7 L1062.4 439.2 L1062.8 440.7 L1063.1 442.1 L1063.5 443.6 L1063.9 445.1 L1064.3 446.6 L1064.7 448.1 L1065.1 449.6 L1065.5 451.1 L1066.0 452.6 L1066.4 454.1 L1066.9 455.5 L1067.3 457.0 L1067.8 458.5 L1068.3 459.9 L1068.8 461.4 L1069.3 462.9 L1069.8 464.3 L1070.4 465.7 L1070.9 467.1 L1071.4 468.5 L1071.9 469.9 L1072.4 471.3 L1072.9 472.6 L1073.4 474.0 L1073.9 475.4 L1074.4 476.8 L1074.9 478.3 L1075.4 479.7 L1075.9 481.1 L1076.4 482.5 L1076.9 483.9 L1077.4 485.3 L1077.9 486.7 L1078.3 488.2 L1078.8 489.6 L1079.3 491.0 L1079.8 492.4 L1080.3 493.9 L1080.8 495.3 L1081.3 496.7 L1081.8 498.1 L1082.3 499.6 L1082.8 501.0 L1083.4 502.4 L1083.9 503.9 L1084.4 505.3 L1085.0 506.7 L1085.5 508.1 L1086.1 509.5 L1086.6 511.0 L1087.2 512.4 L1087.7 513.8 L1088.3 515.2 L1088.8 516.6 L1089.4 518.0 L1090.0 519.4 L1090.5 520.8 L1091.1 522.2 L1091.7 523.6 L1092.3 525.0 L1092.9 526.3 L1093.4 527.7 L1094.0 529.1 L1094.6 530.5 L1095.2 531.9 L1095.8 533.3 L1096.4 534.7 L1097.0 536.1 L1097.5 537.5 L1098.1 538.8 L1098.7 540.2 L1099.3 541.6 L1099.9 543.0 L1100.5 544.4 L1101.2 545.8 L1101.8 547.2 L1102.4 548.6 L1103.0 550.0 L1103.6 551.4 L1104.3 552.7 L1104.9 554.1 L1105.6 555.5 L1106.2 556.9 L1106.9 558.3 L1107.6 559.6 L1108.2 561.0 L1108.9 562.4 L1109.6 563.8 L1110.3 565.1 L1111.0 566.5 L1111.8 567.9 L1112.5 569.2 L1113.2 570.6 L1114.0 571.9 L1114.8 573.3 L1115.5 574.6 L1116.3 575.9 L1117.1 577.2 L1117.9 578.5 L1118.6 579.8 L1119.4 581.1 L1120.2 582.4 L1121.0 583.7 L1121.8 585.0 L1122.6 586.3 L1123.4 587.5 L1124.3 588.8 L1125.1 590.1 L1125.9 591.3 L1126.7 592.6 L1127.5 593.9 L1128.3 595.1 L1129.1 596.4 L1129.8 597.7 L1130.6 598.9 L1131.4 600.2 L1132.2 601.5 L1133.0 602.7 L1133.8 604.0 L1134.6 605.3 L1135.5 606.6 L1136.3 607.9 L1137.1 609.2 L1137.9 610.5 L1138.8 611.7 L1139.6 613.0 L1140.5 614.3 L1141.4 615.6 L1142.3 616.9 L1143.2 618.1 L1144.1 619.4 L1145.0 620.7 L1145.9 621.9 L1146.9 623.1 L1147.8 624.4 L1148.8 625.6 L1149.8 626.8 L1150.8 628.0 L1151.7 629.1 L1152.7 630.3 L1153.7 631.5 L1154.7 632.6 L1155.7 633.8 L1156.7 634.9 L1157.7 636.1 L1158.7 637.2 L1159.7 638.3 L1160.6 639.4 L1161.6 640.6 L1162.6 641.7 L1163.6 642.8 L1164.6 644.0 L1165.6 645.1 L1166.6 646.2 L1167.6 647.4 L1168.6 648.5 L1169.6 649.6 L1170.6 650.7 L1171.6 651.8 L1172.6 653.0 L1173.6 654.1 L1174.6 655.2 L1175.6 656.3 L1176.6 657.4 L1177.6 658.5 L1178.5 659.6 L1179.5 660.7 L1180.4 661.8 L1181.4 662.9 L1182.3 664.1 L1183.3 665.2 L1184.2 666.3 L1185.2 667.5 L1186.1 668.6 L1187.0 669.8 L1188.0 671.0 L1188.9 672.1 L1189.9 673.3 L1190.8 674.5 L1191.7 675.6 L1192.7 676.8 L1193.6 677.9 L1194.5 679.1 L1195.5 680.2 L1196.3 681.3 L1197.2 682.5 L1198.1 683.6 L1199.0 684.8 L1199.8 686.0 L1200.7 687.2 L1201.6 688.5 L1202.5 689.7 L1203.4 691.0 L1204.4 692.2 L1205.3 693.5 L1206.3 694.8 L1207.3 696.0 L1208.3 697.3 L1209.4 698.5 L1210.5 699.8 L1211.6 700.9 L1212.8 702.0 L1213.9 703.1 L1215.0 704.2 L1216.1 705.2 L1217.2 706.2 L1218.3 707.3 L1219.4 708.3 L1220.5 709.3 L1221.5 710.4 L1222.6 711.4 L1223.7 712.4 L1224.8 713.4 L1225.9 714.5 L1227.0 715.5 L1228.1 716.5 L1229.2 717.6 L1230.3 718.6 L1231.4 719.6 L1232.4 720.6 L1233.5 721.7 L1234.6 722.7 L1235.7 723.7 L1236.8 724.8 L1237.9 725.8 L1239.0 726.8 L1240.1 727.9 L1241.2 728.9 L1242.3 729.9 L1243.3 730.9 L1244.4 732.0 L1245.5 733.0 L1246.6 734.0 L1247.7 735.1 L1248.9 736.2 L1250.0 737.2 L1251.2 738.3 L1252.5 739.4 L1253.7 740.4 L1255.0 741.4 L1256.2 742.3 L1257.5 743.3 L1258.8 744.2 L1260.0 745.1 L1261.3 746.0 L1262.6 746.9 L1263.8 747.7 L1265.1 748.6 L1266.3 749.4 L1267.6 750.3 L1268.8 751.1 L1270.0 751.9 L1271.2 752.8 L1272.4 753.6 L1273.6 754.5 L1274.9 755.3 L1276.1 756.2 L1277.3 757.1 L1278.5 758.0 L1279.8 758.8 L1281.0 759.7 L1282.3 760.6 L1283.5 761.4 L1284.8 762.3 L1286.1 763.2 L1287.4 764.0 L1288.7 764.9 L1290.0 765.7 L1291.3 766.5 L1292.6 767.4 L1294.0 768.2 L1295.3 769.0 L1296.7 769.7 L1298.1 770.5 L1299.5 771.2 L1300.9 772.0 L1302.3 772.7 L1303.7 773.4 L1305.1 774.1 L1306.5 774.7 L1307.9 775.4 L1309.3 776.1 L1310.7 776.7 L1312.1 777.3 L1313.5 777.9 L1314.9 778.5 L1316.3 779.1 L1317.7 779.7 L1319.2 780.3 L1320.6 780.9 L1322.0 781.4 L1323.4 782.0 L1324.8 782.6 L1326.2 783.1 L1327.6 783.7 L1329.0 784.2 L1330.5 784.7 L1331.9 785.3 L1333.3 785.8 L1334.7 786.4 L1336.1 786.9 L1337.5 787.4 L1338.9 788.0 L1340.3 788.5 L1341.7 789.0 L1343.1 789.6 L1344.5 790.1 L1345.9 790.6 L1347.4 791.2 L1348.8 791.7 L1350.2 792.2 L1351.6 792.7 L1353.0 793.3 L1354.5 793.8 L1355.9 794.3 L1357.3 794.8 L1358.8 795.3 L1360.2 795.8 L1361.6 796.3 L1363.1 796.8 L1364.5 797.3 L1366.0 797.7 L1367.4 798.2 L1368.9 798.7 L1370.3 799.1 L1371.8 799.6 L1373.2 800.0 L1374.7 800.5 L1376.1 800.9 L1377.6 801.3 L1379.0 801.8 L1380.5 802.2 L1381.9 802.6 L1383.4 803.1 L1384.8 803.5 L1386.3 803.9 L1387.7 804.3 L1389.2 804.7 L1390.6 805.1 L1392.1 805.5 L1393.6 805.9 L1395.0 806.3 L1396.5 806.7 L1397.9 807.1 L1399.4 807.5 L1400.9 807.9 L1402.3 808.3 L1403.8 808.7 L1405.2 809.0 L1406.7 809.4 L1408.2 809.8 L1409.6 810.1 L1411.1 810.5 L1412.6 810.9 L1414.0 811.2 L1415.5 811.6 L1417.0 811.9 L1418.5 812.3 L1419.9 812.6 L1421.4 813.0 L1422.9 813.3 L1424.3 813.7 L1425.8 814.0 L1427.3 814.4 L1428.8 814.7 L1430.2 815.0 L1431.7 815.3 L1433.2 815.7 L1434.7 816.0 L1437.3 804.0 L1435.9 803.7 L1434.4 803.4 L1433.0 803.0 L1431.5 802.7 L1430.0 802.3 L1428.6 802.0 L1427.1 801.7 L1425.7 801.3 L1424.2 801.0 L1422.8 800.6 L1421.4 800.3 L1419.9 799.9 L1418.5 799.6 L1417.0 799.2 L1415.6 798.8 L1414.1 798.5 L1412.7 798.1 L1411.3 797.7 L1409.8 797.4 L1408.4 797.0 L1406.9 796.6 L1405.5 796.2 L1404.1 795.8 L1402.6 795.5 L1401.2 795.1 L1399.8 794.7 L1398.3 794.3 L1396.9 793.9 L1395.5 793.5 L1394.0 793.1 L1392.6 792.7 L1391.2 792.2 L1389.8 791.8 L1388.3 791.4 L1386.9 791.0 L1385.5 790.6 L1384.1 790.1 L1382.7 789.7 L1381.2 789.3 L1379.8 788.8 L1378.4 788.4 L1377.0 787.9 L1375.6 787.5 L1374.2 787.0 L1372.8 786.6 L1371.4 786.1 L1370.0 785.7 L1368.6 785.2 L1367.2 784.7 L1365.8 784.2 L1364.4 783.7 L1363.0 783.2 L1361.6 782.7 L1360.2 782.2 L1358.8 781.7 L1357.4 781.2 L1356.0 780.7 L1354.6 780.2 L1353.3 779.7 L1351.9 779.1 L1350.5 778.6 L1349.1 778.1 L1347.7 777.6 L1346.3 777.0 L1344.9 776.5 L1343.5 775.9 L1342.1 775.4 L1340.7 774.9 L1339.3 774.3 L1337.9 773.8 L1336.5 773.3 L1335.1 772.7 L1333.7 772.2 L1332.3 771.6 L1330.9 771.1 L1329.6 770.5 L1328.2 770.0 L1326.8 769.4 L1325.5 768.9 L1324.1 768.3 L1322.8 767.7 L1321.4 767.2 L1320.1 766.6 L1318.7 766.0 L1317.4 765.4 L1316.1 764.8 L1314.8 764.2 L1313.4 763.6 L1312.1 762.9 L1310.8 762.3 L1309.6 761.6 L1308.3 761.0 L1307.0 760.3 L1305.7 759.6 L1304.5 758.9 L1303.2 758.2 L1302.0 757.5 L1300.7 756.8 L1299.5 756.0 L1298.3 755.3 L1297.1 754.5 L1295.9 753.7 L1294.7 752.9 L1293.5 752.1 L1292.2 751.3 L1291.0 750.5 L1289.8 749.6 L1288.6 748.8 L1287.4 748.0 L1286.2 747.1 L1285.0 746.2 L1283.8 745.4 L1282.6 744.5 L1281.3 743.6 L1280.1 742.7 L1278.8 741.9 L1277.6 741.0 L1276.3 740.1 L1275.1 739.3 L1273.8 738.4 L1272.6 737.6 L1271.3 736.7 L1270.1 735.9 L1268.9 735.1 L1267.7 734.2 L1266.5 733.4 L1265.4 732.6 L1264.2 731.7 L1263.1 730.9 L1262.0 730.0 L1260.9 729.1 L1259.9 728.3 L1258.8 727.4 L1257.8 726.4 L1256.7 725.4 L1255.7 724.4 L1254.6 723.4 L1253.5 722.4 L1252.4 721.4 L1251.3 720.3 L1250.2 719.3 L1249.1 718.3 L1248.0 717.2 L1246.9 716.2 L1245.8 715.2 L1244.8 714.2 L1243.7 713.1 L1242.6 712.1 L1241.5 711.1 L1240.4 710.0 L1239.3 709.0 L1238.2 708.0 L1237.1 707.0 L1236.0 705.9 L1235.0 704.9 L1233.9 703.9 L1232.8 702.8 L1231.7 701.8 L1230.6 700.8 L1229.5 699.7 L1228.4 698.7 L1227.3 697.7 L1226.2 696.7 L1225.1 695.6 L1224.1 694.6 L1223.0 693.6 L1221.9 692.6 L1220.9 691.7 L1219.9 690.7 L1219.0 689.7 L1218.1 688.7 L1217.2 687.7 L1216.3 686.7 L1215.4 685.6 L1214.5 684.5 L1213.6 683.3 L1212.8 682.2 L1211.9 681.0 L1211.0 679.8 L1210.1 678.6 L1209.2 677.3 L1208.3 676.1 L1207.4 674.8 L1206.5 673.6 L1205.5 672.3 L1204.6 671.1 L1203.6 669.9 L1202.7 668.7 L1201.7 667.5 L1200.8 666.4 L1199.9 665.2 L1198.9 664.0 L1198.0 662.9 L1197.0 661.7 L1196.1 660.5 L1195.1 659.4 L1194.2 658.2 L1193.2 657.0 L1192.2 655.8 L1191.3 654.7 L1190.3 653.5 L1189.3 652.3 L1188.3 651.1 L1187.3 650.0 L1186.3 648.8 L1185.3 647.7 L1184.3 646.5 L1183.3 645.4 L1182.3 644.3 L1181.3 643.2 L1180.3 642.0 L1179.3 640.9 L1178.3 639.8 L1177.3 638.7 L1176.3 637.6 L1175.3 636.5 L1174.3 635.4 L1173.4 634.3 L1172.4 633.2 L1171.4 632.0 L1170.4 630.9 L1169.4 629.8 L1168.4 628.6 L1167.4 627.5 L1166.5 626.4 L1165.5 625.3 L1164.5 624.2 L1163.5 623.0 L1162.6 621.9 L1161.6 620.8 L1160.7 619.7 L1159.7 618.6 L1158.8 617.5 L1157.9 616.3 L1157.0 615.2 L1156.1 614.1 L1155.2 612.9 L1154.3 611.8 L1153.4 610.6 L1152.6 609.5 L1151.7 608.3 L1150.9 607.1 L1150.0 605.9 L1149.2 604.7 L1148.4 603.5 L1147.6 602.3 L1146.8 601.1 L1146.0 599.9 L1145.2 598.6 L1144.4 597.4 L1143.6 596.1 L1142.8 594.8 L1142.0 593.6 L1141.2 592.3 L1140.4 591.0 L1139.6 589.8 L1138.8 588.5 L1138.0 587.2 L1137.2 585.9 L1136.4 584.7 L1135.6 583.4 L1134.8 582.1 L1134.0 580.9 L1133.2 579.6 L1132.4 578.4 L1131.6 577.1 L1130.8 575.8 L1130.0 574.6 L1129.2 573.3 L1128.5 572.1 L1127.7 570.8 L1126.9 569.6 L1126.2 568.3 L1125.4 567.1 L1124.7 565.8 L1124.0 564.5 L1123.2 563.3 L1122.5 562.0 L1121.8 560.7 L1121.1 559.4 L1120.4 558.1 L1119.7 556.8 L1119.1 555.5 L1118.4 554.2 L1117.8 552.9 L1117.1 551.6 L1116.5 550.3 L1115.8 549.0 L1115.2 547.6 L1114.5 546.3 L1113.9 545.0 L1113.3 543.6 L1112.7 542.3 L1112.1 540.9 L1111.5 539.6 L1110.9 538.2 L1110.3 536.9 L1109.7 535.5 L1109.1 534.1 L1108.5 532.8 L1107.9 531.4 L1107.3 530.0 L1106.7 528.6 L1106.1 527.3 L1105.6 525.9 L1105.0 524.5 L1104.4 523.1 L1103.8 521.8 L1103.2 520.4 L1102.7 519.0 L1102.1 517.6 L1101.5 516.2 L1100.9 514.9 L1100.4 513.5 L1099.8 512.1 L1099.3 510.7 L1098.7 509.4 L1098.1 508.0 L1097.6 506.6 L1097.0 505.2 L1096.5 503.9 L1096.0 502.5 L1095.4 501.1 L1094.9 499.7 L1094.4 498.3 L1093.9 497.0 L1093.4 495.6 L1092.9 494.2 L1092.3 492.8 L1091.8 491.4 L1091.3 490.0 L1090.9 488.6 L1090.4 487.2 L1089.9 485.8 L1089.4 484.4 L1088.9 482.9 L1088.4 481.5 L1087.9 480.1 L1087.4 478.7 L1086.9 477.3 L1086.4 475.8 L1086.0 474.4 L1085.5 473.0 L1085.0 471.6 L1084.5 470.1 L1084.0 468.7 L1083.5 467.3 L1083.0 465.8 L1082.4 464.4 L1081.9 463.0 L1081.4 461.6 L1080.8 460.2 L1080.3 458.8 L1079.8 457.5 L1079.3 456.1 L1078.8 454.7 L1078.4 453.4 L1077.9 452.0 L1077.5 450.6 L1077.0 449.2 L1076.6 447.8 L1076.2 446.4 L1075.8 445.0 L1075.4 443.6 L1075.0 442.2 L1074.6 440.8 L1074.2 439.4 L1073.9 438.0 L1073.5 436.5 L1073.2 435.1 L1072.8 433.6 L1072.5 432.2 L1072.1 430.7 L1071.8 429.3 L1071.5 427.8 L1071.1 426.3 L1070.8 424.9 L1070.4 423.4 L1070.1 422.0 L1069.8 420.5 L1069.4 419.1 L1069.1 417.6 L1068.8 416.2 L1068.4 414.7 L1068.1 413.2 L1067.8 411.8 L1067.5 410.3 L1067.1 408.9 L1066.8 407.4 L1066.5 405.9 L1066.2 404.5 L1065.9 403.0 L1065.5 401.6 L1065.2 400.1 L1064.9 398.6 L1064.6 397.2 L1064.3 395.7 L1064.0 394.2 L1063.6 392.8 L1063.3 391.3 L1063.0 389.8 L1062.7 388.4 L1062.4 386.9 L1062.1 385.4 L1061.7 384.0 L1061.4 382.5 L1061.1 381.1 L1060.8 379.6 L1060.5 378.1 L1060.2 376.7 L1059.9 375.2 L1059.6 373.8 L1059.2 372.3 L1058.9 370.8 L1058.6 369.4 L1058.3 367.9 L1058.0 366.5 L1057.7 365.0 L1057.5 363.5 L1057.2 362.1 L1056.9 360.6 L1056.6 359.2 L1056.3 357.7 L1056.0 356.2 L1055.8 354.8 L1055.5 353.3 L1055.2 351.8 L1055.0 350.4 L1054.7 348.9 L1054.4 347.4 L1054.2 346.0 L1053.9 344.5 L1053.6 343.0 L1053.4 341.6 L1053.1 340.1 L1052.9 338.6 L1052.6 337.1 L1052.4 335.6 L1052.1 334.2 L1051.8 332.7 L1051.6 331.2 L1051.3 329.7 L1051.1 328.3 L1050.8 326.8 L1050.6 325.3 L1050.3 323.9 L1050.1 322.4 L1049.8 320.9 L1049.6 319.5 L1049.4 318.0 L1049.1 316.5 L1048.9 315.0 L1048.7 313.6 L1048.4 312.1 L1048.2 310.6 L1048.0 309.1 L1047.8 307.7 L1047.5 306.2 L1047.3 304.7 L1047.1 303.2 L1046.9 301.7 L1046.7 300.3 L1046.4 298.8 L1046.2 297.3 L1046.0 295.8 L1045.8 294.3 L1045.6 292.9 L1045.3 291.4 L1045.1 289.9 L1044.9 288.4 L1044.7 286.9 L1044.5 285.4 L1044.3 284.0 L1044.0 282.5 L1043.8 281.0 L1043.6 279.5 L1043.4 278.0 L1043.2 276.5 L1042.9 275.0 L1042.7 273.5 L1042.5 272.1 L1042.2 270.6 L1042.0 269.1 L1041.8 267.6 L1041.6 266.1 L1041.3 264.6 L1041.1 263.2 L1040.9 261.7 L1040.6 260.2 L1040.4 258.7 L1040.2 257.3 L1040.0 255.8 L1039.8 254.3 L1039.6 252.9 L1039.3 251.4 L1039.1 249.9 L1038.9 248.4 L1038.8 247.0 L1038.6 245.5 L1038.4 244.1 L1038.2 242.6 L1038.0 241.1 L1037.9 239.6 L1037.7 238.2 L1037.6 236.7 L1037.4 235.2 L1037.3 233.7 L1037.1 232.2 L1036.9 230.7 L1036.8 229.2 L1036.6 227.7 L1036.5 226.2 L1036.3 224.8 L1036.2 223.3 L1036.0 221.8 L1035.8 220.3 L1035.7 218.8 L1035.5 217.3 L1035.4 215.8 L1035.2 214.3 L1035.1 212.8 L1034.9 211.3 L1034.7 209.8 L1034.6 208.4 L1034.4 206.9 L1034.3 205.4 L1034.1 203.9 L1034.0 202.4 L1033.8 200.9 L1033.6 199.4 L1033.5 197.9 L1033.3 196.4 L1033.2 194.9 L1033.0 193.4 L1032.9 192.0 L1032.7 190.5 L1032.6 189.0 L1032.4 187.5 L1032.2 186.0 L1032.1 184.5 L1031.9 183.0 L1031.8 181.5 L1031.6 180.0 L1031.5 178.6 L1031.3 177.1 L1031.2 175.6 L1031.0 174.1 L1030.9 172.7 L1030.8 171.2 L1030.6 169.7 L1030.5 168.2 L1030.4 166.7 L1030.3 165.2 L1030.1 163.8 L1030.0 162.3 L1029.9 160.8 L1029.8 159.3 L1029.7 157.8 L1029.6 156.3 L1029.5 154.8 L1029.4 153.3 L1029.3 151.8 L1029.2 150.3 L1029.1 148.8 L1028.9 147.3 L1028.8 145.8 L1028.7 144.3 L1028.6 142.8 L1028.5 141.3 L1028.4 139.8 L1028.2 138.3 L1028.1 136.8 L1028.0 135.3 L1027.9 133.8 L1027.8 132.3 L1027.6 130.8 L1027.5 129.3 L1027.4 127.8 L1027.3 126.4 L1027.1 124.9 L1027.0 123.4 L1026.9 121.9 L1026.8 120.4 L1026.6 118.9 L1026.5 117.4 L1026.4 115.9 L1026.3 114.4 L1026.1 112.9 L1026.0 111.4 L1025.9 109.9 L1025.8 108.4 L1025.7 106.9 L1025.5 105.4 L1025.4 104.0 L1025.3 102.5 L1025.2 101.0 L1025.0 99.5 L1024.9 98.0 L1024.8 96.5 L1024.7 95.0 L1024.6 93.5 L1024.5 92.1 L1024.4 90.6 L1024.3 89.1 L1024.2 87.6 L1024.1 86.1 L1024.0 84.6 L1023.9 83.1 L1023.8 81.6 L1023.7 80.1 L1023.6 78.7 L1023.5 77.2 L1023.5 75.7 L1023.4 74.2 L1023.3 72.7 L1023.2 71.2 L1023.1 69.7 L1023.1 68.2ZM1012.0 68.5a5.5 5.5 0 1 0 11.1 0a5.5 5.5 0 1 0 -11.1 0ZM1430.5 810.0a5.5 5.5 0 1 0 11.1 0a5.5 5.5 0 1 0 -11.1 0Z"/>
<path d="M1089.8 68.9 L1090.0 70.4 L1090.1 71.9 L1090.2 73.4 L1090.3 74.9 L1090.4 76.4 L1090.5 77.8 L1090.6 79.3 L1090.7 80.8 L1090.8 82.3 L1090.9 83.8 L1090.9 85.3 L1091.0 86.8 L1091.1 88.2 L1091.2 89.7 L1091.3 91.2 L1091.3 92.7 L1091.4 94.2 L1091.5 95.7 L1091.5 97.1 L1091.6 98.6 L1091.6 100.1 L1091.7 101.6 L1091.7 103.1 L1091.8 104.6 L1091.8 106.1 L1091.9 107.6 L1091.9 109.0 L1091.9 110.5 L1092.0 112.0 L1092.0 113.5 L1092.0 115.0 L1092.1 116.5 L1092.1 118.0 L1092.1 119.5 L1092.2 121.0 L1092.2 122.5 L1092.2 124.0 L1092.3 125.5 L1092.3 127.0 L1092.3 128.5 L1092.4 130.0 L1092.4 131.5 L1092.4 133.0 L1092.5 134.5 L1092.5 136.0 L1092.6 137.6 L1092.6 139.1 L1092.7 140.6 L1092.7 142.1 L1092.8 143.6 L1092.8 145.1 L1092.9 146.6 L1092.9 148.1 L1093.0 149.6 L1093.0 151.1 L1093.1 152.6 L1093.2 154.1 L1093.2 155.6 L1093.3 157.1 L1093.3 158.6 L1093.4 160.1 L1093.4 161.6 L1093.5 163.1 L1093.6 164.6 L1093.6 166.1 L1093.7 167.6 L1093.8 169.1 L1093.8 170.6 L1093.9 172.1 L1093.9 173.6 L1094.0 175.1 L1094.1 176.6 L1094.1 178.1 L1094.2 179.6 L1094.3 181.1 L1094.4 182.6 L1094.4 184.1 L1094.5 185.6 L1094.6 187.1 L1094.7 188.6 L1094.7 190.1 L1094.8 191.6 L1094.9 193.1 L1095.0 194.6 L1095.1 196.1 L1095.2 197.6 L1095.3 199.1 L1095.3 200.6 L1095.4 202.1 L1095.5 203.6 L1095.6 205.1 L1095.7 206.6 L1095.8 208.1 L1095.9 209.6 L1096.0 211.0 L1096.0 212.5 L1096.1 214.0 L1096.2 215.5 L1096.3 217.0 L1096.4 218.5 L1096.4 220.0 L1096.5 221.4 L1096.6 222.9 L1096.6 224.4 L1096.7 225.9 L1096.7 227.3 L1096.7 228.8 L1096.8 230.3 L1096.8 231.8 L1096.9 233.4 L1096.9 234.9 L1097.0 236.4 L1097.0 237.9 L1097.1 239.5 L1097.2 241.0 L1097.3 242.5 L1097.4 244.0 L1097.5 245.5 L1097.6 247.0 L1097.7 248.5 L1097.8 250.0 L1097.9 251.6 L1098.0 253.1 L1098.1 254.6 L1098.2 256.1 L1098.4 257.6 L1098.5 259.1 L1098.6 260.6 L1098.7 262.1 L1098.8 263.5 L1099.0 265.0 L1099.1 266.5 L1099.2 268.0 L1099.3 269.5 L1099.5 271.0 L1099.6 272.5 L1099.7 274.0 L1099.8 275.5 L1100.0 277.0 L1100.1 278.5 L1100.2 280.0 L1100.3 281.5 L1100.5 283.0 L1100.6 284.5 L1100.7 285.9 L1100.8 287.4 L1100.9 288.9 L1101.1 290.4 L1101.2 291.9 L1101.3 293.4 L1101.4 294.9 L1101.5 296.4 L1101.7 297.9 L1101.8 299.4 L1101.9 300.9 L1102.0 302.4 L1102.2 303.9 L1102.3 305.4 L1102.4 306.9 L1102.6 308.4 L1102.7 309.9 L1102.9 311.4 L1103.0 312.9 L1103.2 314.4 L1103.3 316.0 L1103.5 317.5 L1103.7 319.0 L1103.8 320.5 L1104.0 322.0 L1104.2 323.5 L1104.4 325.0 L1104.6 326.5 L1104.8 328.0 L1105.0 329.5 L1105.2 331.0 L1105.4 332.5 L1105.6 333.9 L1105.8 335.4 L1106.0 336.9 L1106.1 338.4 L1106.3 339.9 L1106.5 341.3 L1106.7 342.8 L1106.9 344.3 L1107.1 345.8 L1107.3 347.3 L1107.5 348.8 L1107.6 350.2 L1107.8 351.7 L1108.0 353.2 L1108.2 354.7 L1108.4 356.2 L1108.6 357.7 L1108.8 359.2 L1108.9 360.7 L1109.1 362.2 L1109.3 363.7 L1109.5 365.2 L1109.7 366.7 L1109.9 368.2 L1110.1 369.7 L1110.3 371.2 L1110.6 372.6 L1110.8 374.1 L1111.0 375.6 L1111.2 377.1 L1111.4 378.6 L1111.7 380.1 L1111.9 381.6 L1112.1 383.1 L1112.4 384.6 L1112.6 386.0 L1112.8 387.5 L1113.1 389.0 L1113.3 390.5 L1113.5 392.0 L1113.8 393.5 L1114.0 394.9 L1114.2 396.4 L1114.5 397.9 L1114.7 399.4 L1114.9 400.9 L1115.2 402.4 L1115.4 403.9 L1115.7 405.4 L1115.9 406.8 L1116.2 408.3 L1116.4 409.8 L1116.7 411.3 L1117.0 412.9 L1117.3 414.4 L1117.5 415.9 L1117.8 417.4 L1118.1 418.9 L1118.5 420.4 L1118.8 421.9 L1119.1 423.4 L1119.5 424.9 L1119.8 426.4 L1120.2 427.9 L1120.6 429.4 L1121.0 430.9 L1121.4 432.4 L1121.8 433.9 L1122.3 435.4 L1122.8 436.9 L1123.2 438.4 L1123.7 439.9 L1124.3 441.4 L1124.8 443.0 L1125.4 444.5 L1126.1 445.9 L1126.7 447.4 L1127.4 448.8 L1128.1 450.2 L1128.8 451.5 L1129.6 452.9 L1130.2 454.2 L1130.9 455.6 L1131.6 456.9 L1132.3 458.3 L1132.9 459.6 L1133.6 460.9 L1134.3 462.3 L1135.0 463.6 L1135.7 465.0 L1136.4 466.3 L1137.1 467.7 L1137.9 469.0 L1138.6 470.4 L1139.3 471.7 L1140.1 473.1 L1140.9 474.5 L1141.7 475.8 L1142.5 477.1 L1143.3 478.4 L1144.1 479.7 L1144.9 481.0 L1145.7 482.3 L1146.5 483.6 L1147.4 484.8 L1148.2 486.1 L1149.0 487.4 L1149.9 488.6 L1150.7 489.9 L1151.6 491.2 L1152.5 492.4 L1153.3 493.7 L1154.2 495.0 L1155.2 496.2 L1156.1 497.5 L1157.1 498.8 L1158.1 500.0 L1159.1 501.2 L1160.1 502.4 L1161.1 503.6 L1162.2 504.8 L1163.3 506.0 L1164.4 507.1 L1165.5 508.2 L1166.6 509.3 L1167.7 510.4 L1168.8 511.5 L1170.0 512.5 L1171.1 513.6 L1172.3 514.6 L1173.4 515.6 L1174.5 516.6 L1175.6 517.7 L1176.7 518.7 L1177.8 519.7 L1178.9 520.7 L1180.0 521.7 L1181.1 522.8 L1182.2 523.8 L1183.3 524.8 L1184.4 525.8 L1185.5 526.8 L1186.6 527.8 L1187.7 528.8 L1188.8 529.9 L1189.9 530.9 L1191.0 531.9 L1192.1 532.9 L1193.1 534.0 L1194.2 535.0 L1195.3 536.0 L1196.4 537.0 L1197.5 538.1 L1198.6 539.1 L1199.7 540.1 L1200.8 541.1 L1201.9 542.2 L1203.0 543.2 L1204.1 544.2 L1205.2 545.2 L1206.2 546.3 L1207.3 547.3 L1208.3 548.3 L1209.4 549.4 L1210.5 550.4 L1211.5 551.5 L1212.6 552.5 L1213.6 553.6 L1214.7 554.7 L1215.8 555.7 L1216.8 556.8 L1217.9 557.9 L1219.0 558.9 L1220.0 560.0 L1221.1 561.1 L1222.2 562.1 L1223.3 563.2 L1224.4 564.2 L1225.5 565.3 L1226.7 566.3 L1227.8 567.3 L1228.9 568.3 L1230.0 569.3 L1231.2 570.3 L1232.3 571.3 L1233.4 572.3 L1234.5 573.3 L1235.7 574.3 L1236.8 575.3 L1237.9 576.3 L1239.0 577.3 L1240.1 578.2 L1241.3 579.2 L1242.4 580.2 L1243.5 581.2 L1244.6 582.2 L1245.8 583.2 L1246.9 584.2 L1248.0 585.2 L1249.1 586.2 L1250.2 587.2 L1251.4 588.2 L1252.5 589.1 L1253.6 590.1 L1254.7 591.1 L1255.9 592.1 L1257.0 593.1 L1258.1 594.1 L1259.2 595.1 L1260.3 596.1 L1261.5 597.1 L1262.6 598.1 L1263.7 599.1 L1264.8 600.1 L1266.0 601.1 L1267.1 602.1 L1268.2 603.0 L1269.4 604.0 L1270.5 605.0 L1271.6 606.0 L1272.8 607.0 L1274.0 608.0 L1275.1 608.9 L1276.3 609.9 L1277.5 610.8 L1278.6 611.8 L1279.8 612.7 L1281.0 613.7 L1282.1 614.6 L1283.3 615.6 L1284.5 616.5 L1285.6 617.5 L1286.8 618.4 L1287.9 619.4 L1289.1 620.3 L1290.3 621.3 L1291.4 622.2 L1292.6 623.2 L1293.8 624.1 L1294.9 625.0 L1296.1 626.0 L1297.3 626.9 L1298.5 627.9 L1299.6 628.8 L1300.8 629.8 L1302.0 630.7 L1303.2 631.6 L1304.3 632.6 L1305.5 633.5 L1306.7 634.5 L1307.9 635.4 L1309.1 636.3 L1310.3 637.3 L1311.5 638.2 L1312.6 639.1 L1313.8 640.0 L1315.0 641.0 L1316.3 641.9 L1317.5 642.8 L1318.7 643.8 L1319.9 644.7 L1321.1 645.7 L1322.4 646.6 L1323.6 647.5 L1324.8 648.4 L1326.0 649.2 L1327.2 650.1 L1328.4 651.0 L1329.7 651.9 L1330.9 652.8 L1332.1 653.7 L1333.3 654.6 L1334.5 655.5 L1335.7 656.4 L1336.9 657.3 L1338.1 658.2 L1339.3 659.1 L1340.6 659.9 L1341.8 660.8 L1343.0 661.7 L1344.2 662.6 L1345.4 663.5 L1346.6 664.4 L1347.9 665.2 L1349.1 666.1 L1350.3 667.0 L1351.5 667.9 L1352.7 668.7 L1354.0 669.6 L1355.2 670.5 L1356.4 671.4 L1357.6 672.3 L1358.8 673.1 L1360.0 674.0 L1361.3 674.9 L1362.5 675.8 L1363.7 676.7 L1365.0 677.6 L1366.2 678.4 L1367.4 679.3 L1368.7 680.2 L1369.9 681.1 L1371.2 681.9 L1372.5 682.8 L1373.8 683.6 L1375.0 684.5 L1376.3 685.3 L1377.6 686.2 L1378.9 687.0 L1380.3 687.8 L1381.6 688.6 L1382.9 689.4 L1384.3 690.2 L1385.6 690.9 L1386.9 691.6 L1388.2 692.4 L1389.5 693.1 L1390.9 693.8 L1392.2 694.6 L1393.5 695.3 L1394.8 696.0 L1396.1 696.7 L1397.4 697.5 L1398.7 698.2 L1400.0 698.9 L1401.4 699.6 L1402.7 700.4 L1404.0 701.1 L1405.3 701.8 L1406.6 702.5 L1407.9 703.3 L1409.2 704.0 L1410.5 704.7 L1411.8 705.4 L1413.1 706.2 L1414.5 706.9 L1415.8 707.6 L1417.1 708.3 L1418.4 709.1 L1419.7 709.8 L1421.0 710.5 L1422.3 711.2 L1423.6 712.0 L1424.9 712.7 L1426.2 713.4 L1427.5 714.2 L1428.9 714.9 L1430.2 715.6 L1431.5 716.3 L1432.8 717.1 L1439.2 705.5 L1437.9 704.8 L1436.6 704.1 L1435.3 703.3 L1434.0 702.6 L1432.7 701.9 L1431.4 701.1 L1430.0 700.4 L1428.7 699.7 L1427.4 699.0 L1426.1 698.2 L1424.8 697.5 L1423.5 696.8 L1422.2 696.1 L1420.9 695.3 L1419.6 694.6 L1418.2 693.9 L1416.9 693.1 L1415.6 692.4 L1414.3 691.7 L1413.0 691.0 L1411.7 690.2 L1410.4 689.5 L1409.1 688.8 L1407.7 688.1 L1406.4 687.3 L1405.1 686.6 L1403.8 685.9 L1402.5 685.2 L1401.2 684.4 L1399.9 683.7 L1398.6 683.0 L1397.3 682.3 L1396.0 681.5 L1394.6 680.8 L1393.3 680.1 L1392.1 679.4 L1390.8 678.6 L1389.5 677.9 L1388.2 677.2 L1387.0 676.5 L1385.7 675.8 L1384.5 675.1 L1383.2 674.3 L1382.0 673.5 L1380.7 672.8 L1379.5 672.0 L1378.3 671.2 L1377.0 670.4 L1375.8 669.6 L1374.6 668.8 L1373.3 668.0 L1372.1 667.2 L1370.9 666.4 L1369.6 665.5 L1368.4 664.7 L1367.2 663.9 L1365.9 663.0 L1364.7 662.2 L1363.4 661.3 L1362.2 660.5 L1361.0 659.6 L1359.7 658.8 L1358.5 657.9 L1357.3 657.1 L1356.0 656.2 L1354.8 655.4 L1353.6 654.5 L1352.4 653.7 L1351.1 652.8 L1349.9 652.0 L1348.7 651.1 L1347.5 650.3 L1346.2 649.4 L1345.0 648.6 L1343.8 647.7 L1342.6 646.8 L1341.3 646.0 L1340.1 645.1 L1338.9 644.3 L1337.7 643.4 L1336.5 642.5 L1335.3 641.7 L1334.0 640.8 L1332.8 639.9 L1331.6 639.0 L1330.4 638.2 L1329.2 637.3 L1328.0 636.4 L1326.9 635.5 L1325.7 634.7 L1324.6 633.8 L1323.4 632.9 L1322.3 631.9 L1321.2 631.0 L1320.0 630.0 L1318.9 629.0 L1317.8 628.1 L1316.6 627.1 L1315.5 626.1 L1314.4 625.1 L1313.3 624.2 L1312.1 623.2 L1311.0 622.2 L1309.9 621.2 L1308.8 620.3 L1307.6 619.3 L1306.5 618.3 L1305.4 617.3 L1304.3 616.3 L1303.2 615.3 L1302.0 614.3 L1300.9 613.3 L1299.8 612.4 L1298.7 611.4 L1297.6 610.4 L1296.4 609.4 L1295.3 608.4 L1294.2 607.4 L1293.1 606.4 L1292.0 605.4 L1290.9 604.4 L1289.7 603.4 L1288.6 602.4 L1287.5 601.4 L1286.4 600.4 L1285.3 599.4 L1284.2 598.4 L1283.1 597.4 L1282.0 596.4 L1280.9 595.4 L1279.8 594.4 L1278.6 593.5 L1277.5 592.5 L1276.4 591.5 L1275.3 590.5 L1274.2 589.5 L1273.0 588.5 L1271.9 587.5 L1270.8 586.5 L1269.7 585.5 L1268.5 584.6 L1267.4 583.6 L1266.3 582.6 L1265.2 581.6 L1264.1 580.6 L1262.9 579.6 L1261.8 578.6 L1260.7 577.6 L1259.6 576.6 L1258.4 575.6 L1257.3 574.6 L1256.2 573.6 L1255.1 572.6 L1253.9 571.7 L1252.8 570.7 L1251.7 569.7 L1250.6 568.7 L1249.4 567.7 L1248.3 566.7 L1247.2 565.7 L1246.1 564.7 L1244.9 563.7 L1243.8 562.7 L1242.6 561.7 L1241.5 560.8 L1240.4 559.8 L1239.2 558.8 L1238.1 557.9 L1237.0 556.9 L1235.9 555.9 L1234.7 555.0 L1233.6 554.0 L1232.5 553.1 L1231.4 552.1 L1230.3 551.1 L1229.1 550.2 L1228.0 549.2 L1226.9 548.2 L1225.8 547.2 L1224.7 546.2 L1223.6 545.2 L1222.4 544.2 L1221.3 543.3 L1220.2 542.3 L1219.1 541.3 L1217.9 540.3 L1216.8 539.3 L1215.7 538.3 L1214.5 537.3 L1213.4 536.3 L1212.3 535.3 L1211.1 534.3 L1210.0 533.3 L1208.9 532.3 L1207.8 531.3 L1206.6 530.3 L1205.5 529.3 L1204.4 528.3 L1203.3 527.3 L1202.2 526.3 L1201.0 525.3 L1199.9 524.3 L1198.8 523.3 L1197.7 522.3 L1196.5 521.3 L1195.4 520.3 L1194.3 519.3 L1193.2 518.3 L1192.1 517.3 L1190.9 516.3 L1189.8 515.3 L1188.7 514.3 L1187.6 513.4 L1186.5 512.4 L1185.3 511.4 L1184.2 510.4 L1183.1 509.4 L1182.0 508.4 L1180.9 507.4 L1179.8 506.4 L1178.7 505.4 L1177.6 504.4 L1176.6 503.4 L1175.6 502.4 L1174.5 501.4 L1173.6 500.3 L1172.6 499.3 L1171.6 498.3 L1170.7 497.2 L1169.7 496.1 L1168.8 495.1 L1167.9 494.0 L1167.0 492.9 L1166.1 491.7 L1165.3 490.6 L1164.4 489.4 L1163.6 488.3 L1162.8 487.1 L1162.0 485.9 L1161.2 484.7 L1160.3 483.5 L1159.5 482.2 L1158.7 481.0 L1157.9 479.8 L1157.1 478.5 L1156.3 477.3 L1155.5 476.0 L1154.7 474.8 L1153.9 473.5 L1153.2 472.3 L1152.4 471.0 L1151.6 469.8 L1150.9 468.6 L1150.2 467.3 L1149.4 466.1 L1148.7 464.8 L1148.0 463.5 L1147.3 462.2 L1146.7 460.9 L1146.0 459.6 L1145.3 458.3 L1144.6 457.0 L1143.9 455.7 L1143.3 454.4 L1142.6 453.0 L1141.9 451.7 L1141.3 450.4 L1140.6 449.0 L1139.9 447.7 L1139.3 446.3 L1138.7 445.0 L1138.0 443.7 L1137.4 442.4 L1136.9 441.2 L1136.3 439.9 L1135.8 438.6 L1135.3 437.3 L1134.8 436.0 L1134.3 434.6 L1133.8 433.3 L1133.3 431.9 L1132.9 430.5 L1132.5 429.2 L1132.1 427.8 L1131.7 426.4 L1131.3 425.0 L1130.9 423.6 L1130.6 422.2 L1130.2 420.8 L1129.9 419.4 L1129.6 417.9 L1129.2 416.5 L1128.9 415.1 L1128.6 413.6 L1128.4 412.2 L1128.1 410.8 L1127.8 409.3 L1127.5 407.9 L1127.3 406.4 L1127.0 405.0 L1126.8 403.5 L1126.5 402.0 L1126.3 400.6 L1126.0 399.1 L1125.8 397.6 L1125.6 396.1 L1125.3 394.7 L1125.1 393.2 L1124.9 391.7 L1124.6 390.2 L1124.4 388.7 L1124.2 387.3 L1123.9 385.8 L1123.7 384.3 L1123.5 382.8 L1123.2 381.4 L1123.0 379.9 L1122.8 378.4 L1122.5 376.9 L1122.3 375.5 L1122.1 374.0 L1121.9 372.5 L1121.7 371.0 L1121.5 369.6 L1121.2 368.1 L1121.0 366.6 L1120.8 365.2 L1120.6 363.7 L1120.4 362.2 L1120.2 360.7 L1120.0 359.3 L1119.9 357.8 L1119.7 356.3 L1119.5 354.8 L1119.3 353.3 L1119.1 351.8 L1118.9 350.4 L1118.7 348.9 L1118.6 347.4 L1118.4 345.9 L1118.2 344.4 L1118.0 342.9 L1117.8 341.4 L1117.6 339.9 L1117.4 338.4 L1117.2 336.9 L1117.1 335.4 L1116.9 334.0 L1116.7 332.5 L1116.5 331.0 L1116.3 329.5 L1116.1 328.0 L1115.9 326.5 L1115.7 325.1 L1115.5 323.6 L1115.3 322.1 L1115.1 320.6 L1114.9 319.2 L1114.8 317.7 L1114.6 316.2 L1114.4 314.8 L1114.3 313.3 L1114.1 311.8 L1114.0 310.3 L1113.8 308.9 L1113.7 307.4 L1113.5 305.9 L1113.4 304.4 L1113.3 302.9 L1113.1 301.5 L1113.0 300.0 L1112.9 298.5 L1112.8 297.0 L1112.6 295.5 L1112.5 294.0 L1112.4 292.5 L1112.3 291.0 L1112.2 289.5 L1112.0 288.0 L1111.9 286.5 L1111.8 285.1 L1111.7 283.6 L1111.6 282.1 L1111.4 280.6 L1111.3 279.1 L1111.2 277.6 L1111.1 276.1 L1110.9 274.6 L1110.8 273.1 L1110.7 271.6 L1110.6 270.1 L1110.4 268.6 L1110.3 267.1 L1110.2 265.6 L1110.1 264.1 L1109.9 262.6 L1109.8 261.2 L1109.7 259.7 L1109.6 258.2 L1109.5 256.7 L1109.3 255.2 L1109.2 253.7 L1109.1 252.2 L1109.0 250.7 L1108.9 249.2 L1108.8 247.8 L1108.7 246.3 L1108.6 244.8 L1108.5 243.3 L1108.4 241.8 L1108.3 240.4 L1108.2 238.9 L1108.1 237.4 L1108.1 236.0 L1108.0 234.5 L1108.0 233.0 L1107.9 231.5 L1107.9 230.0 L1107.8 228.6 L1107.8 227.0 L1107.8 225.5 L1107.7 224.0 L1107.7 222.5 L1107.6 221.0 L1107.5 219.4 L1107.5 217.9 L1107.4 216.4 L1107.3 214.9 L1107.2 213.4 L1107.1 211.9 L1107.1 210.4 L1107.0 208.9 L1106.9 207.4 L1106.8 205.9 L1106.7 204.4 L1106.6 202.9 L1106.5 201.4 L1106.4 199.9 L1106.4 198.4 L1106.3 196.9 L1106.2 195.4 L1106.1 194.0 L1106.0 192.5 L1105.9 191.0 L1105.8 189.5 L1105.8 188.0 L1105.7 186.5 L1105.6 185.0 L1105.5 183.5 L1105.5 182.0 L1105.4 180.5 L1105.3 179.0 L1105.2 177.6 L1105.2 176.1 L1105.1 174.6 L1105.0 173.1 L1105.0 171.6 L1104.9 170.1 L1104.9 168.6 L1104.8 167.1 L1104.7 165.6 L1104.7 164.1 L1104.6 162.6 L1104.5 161.1 L1104.5 159.6 L1104.4 158.1 L1104.4 156.6 L1104.3 155.1 L1104.3 153.6 L1104.2 152.1 L1104.1 150.6 L1104.1 149.2 L1104.0 147.7 L1104.0 146.2 L1103.9 144.7 L1103.9 143.2 L1103.8 141.7 L1103.8 140.2 L1103.7 138.7 L1103.7 137.2 L1103.6 135.7 L1103.6 134.2 L1103.5 132.7 L1103.5 131.2 L1103.5 129.8 L1103.4 128.3 L1103.4 126.8 L1103.4 125.3 L1103.3 123.8 L1103.3 122.3 L1103.3 120.8 L1103.2 119.3 L1103.2 117.8 L1103.2 116.3 L1103.1 114.8 L1103.1 113.3 L1103.1 111.8 L1103.0 110.3 L1103.0 108.8 L1103.0 107.3 L1102.9 105.8 L1102.9 104.3 L1102.8 102.7 L1102.8 101.2 L1102.7 99.7 L1102.7 98.2 L1102.6 96.7 L1102.6 95.2 L1102.5 93.7 L1102.4 92.2 L1102.4 90.7 L1102.3 89.2 L1102.2 87.6 L1102.1 86.1 L1102.0 84.6 L1102.0 83.1 L1101.9 81.6 L1101.8 80.1 L1101.7 78.6 L1101.6 77.1 L1101.5 75.6 L1101.4 74.1 L1101.3 72.6 L1101.2 71.1 L1101.1 69.6 L1101.0 68.1ZM1089.9 68.5a5.5 5.5 0 1 0 11.1 0a5.5 5.5 0 1 0 -11.1 0ZM1430.5 711.3a5.5 5.5 0 1 0 11.1 0a5.5 5.5 0 1 0 -11.1 0Z"/>
</g>

<g fill="#0000ff" stroke="none" fill-rule="nonzero" shape-rendering="crispEdges">
<path d="M185.3 253.1 L186.8 253.1 L188.3 253.1 L189.8 253.1 L191.3 253.1 L192.8 253.1 L194.3 253.1 L195.8 253.1 L197.3 253.1 L198.8 253.1 L200.3 253.1 L201.8 253.1 L203.3 253.1 L204.8 253.1 L206.3 253.1 L207.8 253.1 L209.3 253.1 L210.8 253.2 L212.3 253.2 L213.8 253.2 L215.3 253.2 L216.8 253.2 L218.3 253.2 L219.7 253.2 L221.2 253.2 L222.7 253.2 L224.2 253.2 L225.7 253.2 L227.2 253.2 L228.7 253.2 L230.2 253.3 L231.7 253.3 L233.2 253.3 L234.7 253.3 L236.2 253.3 L237.7 253.3 L239.2 253.3 L240.7 253.3 L242.2 253.3 L243.7 253.4 L245.2 253.4 L246.7 253.4 L248.2 253.4 L249.7 253.4 L251.2 253.4 L252.7 253.4 L254.2 253.5 L255.7 253.5 L257.2 253.5 L258.7 253.5 L260.2 253.5 L261.7 253.5 L263.2 253.6 L264.7 253.6 L266.2 253.6 L267.7 253.6 L269.2 253.6 L270.7 253.6 L272.2 253.7 L273.7 253.7 L275.2 253.7 L276.7 253.7 L278.2 253.7 L279.7 253.8 L281.2 253.8 L282.7 253.8 L284.1 253.8 L285.6 253.9 L287.1 253.9 L288.6 253.9 L290.1 253.9 L291.6 253.9 L293.1 254.0 L294.6 254.0 L296.1 254.0 L297.6 254.1 L299.1 254.1 L300.6 254.1 L302.1 254.1 L303.6 254.2 L305.1 254.2 L306.6 254.2 L308.1 254.3 L309.6 254.3 L311.1 254.3 L312.6 254.4 L314.1 254.4 L315.6 254.4 L317.1 254.5 L318.6 254.5 L320.1 254.5 L321.6 254.6 L323.1 254.6 L324.6 254.6 L326.1 254.7 L327.6 254.7 L329.1 254.7 L330.5 254.8 L332.0 254.8 L333.5 254.8 L335.0 254.9 L336.5 254.9 L338.0 254.9 L339.5 255.0 L341.0 255.0 L342.5 255.1 L344.0 255.1 L345.5 255.1 L347.0 255.2 L348.5 255.2 L350.0 255.3 L351.5 255.3 L353.0 255.3 L354.5 255.4 L356.0 255.4 L357.5 255.5 L359.0 255.5 L360.5 255.5 L362.0 255.6 L363.5 255.6 L365.0 255.7 L366.5 255.7 L368.0 255.8 L369.5 255.8 L370.9 255.9 L372.4 255.9 L373.9 256.0 L375.4 256.0 L376.9 256.1 L378.4 256.2 L379.9 256.2 L381.4 256.3 L382.9 256.4 L384.4 256.4 L385.8 256.5 L387.3 256.6 L388.8 256.6 L390.3 256.7 L391.8 256.8 L393.3 256.9 L394.8 257.0 L396.3 257.0 L397.7 257.1 L399.2 257.2 L400.7 257.3 L402.2 257.4 L403.7 257.5 L405.2 257.6 L406.7 257.7 L408.2 257.8 L409.7 257.9 L411.2 258.0 L412.6 258.1 L414.1 258.2 L415.6 258.3 L417.1 258.4 L418.6 258.5 L420.1 258.6 L421.6 258.7 L423.1 258.8 L424.6 258.9 L426.1 259.0 L427.6 259.1 L429.1 259.2 L430.6 259.3 L432.0 259.4 L433.5 259.5 L435.0 259.7 L436.5 259.8 L438.0 259.9 L439.5 260.0 L441.0 260.1 L442.5 260.2 L444.0 260.3 L445.5 260.4 L447.0 260.5 L448.5 260.6 L450.0 260.8 L451.5 260.9 L453.0 261.0 L454.5 261.1 L456.0 261.2 L457.5 261.3 L459.0 261.4 L460.4 261.5 L461.9 261.6 L463.4 261.7 L464.9 261.9 L466.4 262.0 L467.9 262.1 L469.4 262.2 L470.9 262.3 L472.4 262.4 L473.9 262.5 L475.4 262.6 L476.9 262.8 L478.4 262.9 L479.9 263.0 L481.4 263.1 L482.8 263.2 L484.3 263.3 L485.8 263.5 L487.3 263.6 L488.8 263.7 L490.3 263.8 L491.8 263.9 L493.3 264.0 L494.8 264.2 L496.3 264.3 L497.8 264.4 L499.3 264.5 L500.8 264.6 L502.3 264.8 L503.7 264.9 L505.2 265.0 L506.7 265.1 L508.2 265.2 L509.7 265.4 L511.2 265.5 L512.7 265.6 L514.2 265.7 L515.7 265.8 L517.2 266.0 L518.7 266.1 L520.2 266.2 L521.7 266.3 L523.2 266.5 L524.6 266.6 L526.1 266.7 L527.6 266.8 L529.1 267.0 L530.6 267.1 L532.1 267.2 L533.6 267.4 L535.1 267.5 L536.6 267.6 L538.1 267.7 L539.6 267.9 L541.1 268.0 L542.5 268.1 L544.0 268.3 L545.5 268.4 L547.0 268.5 L548.5 268.7 L550.0 268.8 L551.5 268.9 L553.0 269.1 L554.5 269.2 L556.0 269.3 L557.4 269.5 L558.9 269.6 L560.4 269.7 L561.9 269.9 L563.4 270.0 L564.9 270.2 L566.4 270.3 L567.9 270.5 L569.4 270.6 L570.8 270.8 L572.3 270.9 L573.8 271.1 L575.3 271.2 L576.8 271.4 L578.3 271.5 L579.8 271.7 L581.2 271.8 L582.7 272.0 L584.2 272.1 L585.7 272.3 L587.2 272.5 L588.7 272.6 L590.2 272.8 L591.6 272.9 L593.1 273.1 L594.6 273.3 L596.1 273.4 L597.6 273.6 L599.1 273.8 L600.5 274.0 L602.0 274.1 L603.5 274.3 L605.0 274.5 L606.5 274.7 L607.9 274.9 L609.4 275.0 L610.9 275.2 L612.4 275.4 L613.9 275.6 L615.3 275.8 L616.8 276.0 L618.3 276.2 L619.8 276.4 L621.3 276.6 L622.7 276.8 L624.2 277.0 L625.7 277.2 L627.2 277.4 L628.6 277.6 L630.1 277.8 L631.6 278.0 L633.1 278.2 L634.5 278.4 L636.0 278.6 L637.5 278.8 L639.0 279.1 L640.4 279.3 L641.9 279.5 L643.4 279.7 L644.9 280.0 L646.3 280.2 L647.8 280.4 L649.3 280.7 L650.8 280.9 L652.2 281.1 L653.7 281.4 L655.2 281.6 L656.7 281.8 L658.1 282.1 L659.6 282.3 L661.1 282.5 L662.6 282.8 L664.0 283.0 L665.5 283.3 L667.0 283.5 L668.5 283.8 L670.0 284.0 L671.4 284.2 L672.9 284.5 L674.4 284.7 L675.9 285.0 L677.3 285.2 L678.8 285.5 L680.3 285.7 L681.8 286.0 L683.2 286.2 L684.7 286.4 L686.2 286.7 L687.7 286.9 L689.2 287.2 L690.6 287.4 L692.1 287.7 L693.6 287.9 L695.1 288.2 L696.5 288.4 L698.0 288.7 L699.5 288.9 L701.0 289.2 L702.5 289.4 L703.9 289.7 L705.4 289.9 L706.9 290.2 L708.4 290.4 L709.8 290.7 L711.3 290.9 L712.8 291.2 L714.3 291.4 L715.8 291.7 L717.2 291.9 L718.7 292.2 L720.2 292.4 L721.7 292.7 L723.1 292.9 L724.6 293.2 L726.1 293.4 L727.6 293.7 L729.1 293.9 L730.5 294.2 L732.0 294.4 L733.5 294.7 L735.0 294.9 L736.4 295.2 L737.9 295.4 L739.4 295.7 L740.9 295.9 L742.3 296.2 L743.8 296.4 L745.3 296.7 L746.8 297.0 L748.2 297.2 L749.7 297.5 L751.2 297.7 L752.7 298.0 L754.1 298.2 L755.6 298.5 L757.1 298.8 L758.5 299.0 L760.0 299.3 L761.5 299.6 L762.9 299.8 L764.4 300.1 L765.9 300.4 L767.3 300.6 L768.8 300.9 L770.3 301.2 L771.7 301.5 L773.2 301.8 L774.7 302.0 L776.1 302.3 L777.6 302.6 L779.1 302.9 L780.5 303.2 L782.0 303.5 L783.5 303.7 L784.9 304.0 L786.4 304.3 L787.9 304.6 L789.3 304.9 L790.8 305.2 L792.2 305.5 L793.7 305.8 L795.2 306.1 L796.6 306.4 L798.1 306.7 L799.6 307.0 L801.0 307.3 L802.5 307.6 L803.9 307.9 L805.4 308.2 L806.8 308.6 L808.3 308.9 L809.8 309.2 L811.2 309.5 L812.7 309.8 L814.1 310.2 L815.6 310.5 L817.0 310.8 L818.5 311.1 L819.9 311.5 L821.4 311.8 L822.8 312.1 L824.3 312.5 L825.8 312.8 L827.2 313.1 L828.7 313.5 L830.1 313.8 L831.6 314.2 L833.0 314.5 L834.5 314.8 L835.9 315.2 L837.4 315.5 L838.9 315.9 L840.3 316.2 L841.8 316.6 L843.2 316.9 L844.7 317.3 L846.1 317.6 L847.6 317.9 L849.1 318.3 L850.5 318.6 L852.0 319.0 L853.4 319.3 L854.9 319.7 L856.3 320.0 L857.8 320.4 L859.2 320.7 L860.7 321.1 L862.1 321.5 L863.6 321.8 L865.0 322.2 L866.5 322.5 L867.9 322.9 L869.3 323.3 L870.8 323.6 L872.2 324.0 L873.7 324.4 L875.1 324.8 L876.5 325.1 L878.0 325.5 L879.4 325.9 L880.8 326.3 L882.3 326.7 L883.7 327.1 L885.1 327.5 L886.6 327.9 L888.0 328.3 L889.4 328.7 L890.8 329.1 L892.3 329.5 L893.7 329.9 L895.1 330.3 L896.5 330.8 L897.9 331.2 L899.3 331.6 L900.8 332.1 L902.2 332.5 L903.6 333.0 L905.0 333.4 L906.4 333.9 L907.8 334.3 L909.2 334.8 L910.7 335.2 L912.1 335.7 L913.5 336.2 L914.9 336.6 L916.3 337.1 L917.7 337.6 L919.1 338.0 L920.5 338.5 L922.0 339.0 L923.4 339.5 L924.8 339.9 L926.2 340.4 L927.6 340.9 L929.0 341.4 L930.4 341.9 L931.9 342.3 L933.3 342.8 L934.7 343.3 L936.1 343.8 L937.5 344.3 L938.9 344.8 L940.4 345.3 L941.8 345.8 L943.2 346.3 L944.6 346.7 L946.0 347.2 L947.4 347.7 L948.8 348.2 L950.3 348.7 L951.7 349.2 L953.1 349.7 L954.5 350.2 L955.9 350.7 L957.3 351.2 L958.7 351.7 L960.1 352.2 L961.5 352.7 L962.9 353.2 L964.3 353.7 L965.7 354.2 L967.1 354.8 L968.4 355.3 L969.8 355.8 L971.2 356.3 L972.6 356.8 L974.0 357.4 L975.4 357.9 L976.8 358.4 L978.1 359.0 L979.5 359.5 L980.9 360.1 L982.3 360.6 L983.7 361.2 L985.0 361.7 L986.4 362.3 L987.8 362.8 L989.2 363.4 L990.5 364.0 L991.9 364.5 L993.3 365.1 L994.6 365.7 L996.0 366.3 L997.3 366.8 L998.7 367.4 L1000.0 368.0 L1001.4 368.6 L1002.7 369.2 L1004.1 369.8 L1005.4 370.4 L1006.7 371.1 L1008.0 371.7 L1009.4 372.3 L1010.7 373.0 L1012.0 373.6 L1013.3 374.3 L1014.6 374.9 L1015.9 375.6 L1017.3 376.3 L1018.6 376.9 L1019.9 377.6 L1021.2 378.3 L1022.5 379.0 L1023.8 379.7 L1025.1 380.4 L1026.4 381.1 L1027.6 381.8 L1028.9 382.5 L1030.2 383.2 L1031.5 383.9 L1032.8 384.7 L1034.1 385.4 L1035.3 386.1 L1036.6 386.9 L1037.9 387.6 L1039.1 388.4 L1040.4 389.1 L1041.6 389.9 L1042.9 390.7 L1044.2 391.4 L1045.4 392.2 L1046.7 393.0 L1048.0 393.8 L1049.2 394.6 L1050.5 395.4 L1051.8 396.2 L1053.1 397.0 L1054.4 397.8 L1055.8 398.6 L1057.2 399.4 L1058.6 400.2 L1060.0 400.9 L1061.5 401.6 L1062.9 402.3 L1064.3 403.0 L1065.6 403.7 L1067.0 404.3 L1068.3 404.9 L1069.6 405.6 L1070.8 406.2 L1072.1 406.9 L1073.2 407.5 L1074.4 408.2 L1075.5 408.9 L1076.5 409.6 L1077.5 410.3 L1078.5 411.1 L1079.5 411.9 L1080.5 412.8 L1081.5 413.7 L1082.4 414.6 L1083.4 415.6 L1084.4 416.6 L1085.3 417.6 L1086.3 418.6 L1087.3 419.7 L1088.3 420.8 L1089.3 422.0 L1090.4 423.1 L1091.5 424.3 L1092.6 425.4 L1093.7 426.5 L1094.8 427.6 L1095.8 428.7 L1096.9 429.7 L1097.9 430.6 L1098.8 431.6 L1099.7 432.5 L1100.5 433.5 L1101.2 434.4 L1101.9 435.4 L1102.6 436.4 L1103.3 437.4 L1103.9 438.6 L1104.5 439.8 L1105.2 441.0 L1105.8 442.4 L1106.5 443.8 L1107.2 445.2 L1107.9 446.6 L1108.7 448.0 L1109.4 449.3 L1110.2 450.7 L1110.9 452.0 L1111.6 453.3 L1112.4 454.6 L1113.1 455.9 L1113.8 457.2 L1114.6 458.5 L1115.3 459.8 L1116.0 461.1 L1116.8 462.4 L1117.5 463.8 L1118.2 465.1 L1119.0 466.4 L1119.7 467.7 L1120.4 468.9 L1121.1 470.2 L1121.8 471.5 L1122.5 472.7 L1123.1 474.0 L1123.8 475.2 L1124.4 476.5 L1124.9 477.7 L1125.5 479.0 L1126.0 480.2 L1126.5 481.5 L1127.0 482.8 L1127.5 484.2 L1128.0 485.6 L1128.5 487.0 L1129.0 488.4 L1129.5 489.8 L1130.0 491.2 L1130.5 492.6 L1131.0 494.1 L1131.4 495.5 L1131.9 496.9 L1132.4 498.3 L1132.9 499.7 L1133.4 501.1 L1133.9 502.5 L1134.4 504.0 L1134.9 505.4 L1135.4 506.8 L1135.9 508.2 L1136.4 509.6 L1136.9 511.0 L1137.4 512.5 L1137.9 513.9 L1138.4 515.3 L1138.9 516.7 L1139.4 518.1 L1139.9 519.5 L1140.4 520.9 L1140.9 522.4 L1141.4 523.8 L1141.8 525.2 L1142.3 526.6 L1142.8 528.0 L1143.3 529.5 L1143.8 530.9 L1144.4 532.4 L1144.9 533.8 L1145.5 535.3 L1146.0 536.7 L1146.6 538.2 L1147.2 539.6 L1147.8 541.0 L1148.4 542.4 L1148.9 543.8 L1149.5 545.2 L1150.1 546.5 L1150.7 547.9 L1151.2 549.3 L1151.8 550.6 L1152.3 551.9 L1152.8 553.2 L1153.3 554.5 L1153.8 555.8 L1154.2 557.0 L1154.5 558.3 L1154.9 559.6 L1155.2 561.0 L1155.6 562.5 L1155.9 563.9 L1156.3 565.5 L1156.7 567.0 L1157.1 568.6 L1157.6 570.2 L1158.1 571.8 L1158.6 573.3 L1159.2 574.8 L1159.7 576.3 L1160.3 577.8 L1160.9 579.2 L1161.4 580.6 L1162.0 582.1 L1162.6 583.5 L1163.2 584.9 L1163.9 586.3 L1164.5 587.7 L1165.1 589.1 L1165.8 590.5 L1166.4 591.9 L1167.1 593.3 L1167.8 594.7 L1168.4 596.1 L1169.1 597.5 L1169.8 598.9 L1170.5 600.2 L1171.2 601.6 L1171.9 602.9 L1172.6 604.3 L1173.3 605.6 L1174.0 606.9 L1174.7 608.3 L1175.4 609.6 L1176.1 610.9 L1176.8 612.3 L1177.5 613.6 L1178.3 614.9 L1179.0 616.3 L1179.7 617.6 L1180.4 618.9 L1181.1 620.3 L1181.8 621.6 L1182.6 622.9 L1183.3 624.2 L1184.0 625.6 L1184.8 626.9 L1185.5 628.2 L1186.2 629.5 L1187.0 630.8 L1187.7 632.2 L1188.5 633.5 L1189.2 634.8 L1190.0 636.1 L1190.7 637.4 L1191.5 638.7 L1192.2 640.1 L1193.0 641.4 L1193.8 642.7 L1194.5 644.0 L1195.3 645.3 L1196.1 646.6 L1196.9 647.9 L1197.7 649.2 L1198.4 650.5 L1199.2 651.8 L1200.0 653.1 L1200.8 654.4 L1201.7 655.7 L1202.5 657.0 L1203.3 658.3 L1204.2 659.6 L1205.0 660.9 L1205.9 662.2 L1206.7 663.4 L1207.6 664.7 L1208.5 666.0 L1209.4 667.2 L1210.3 668.5 L1211.2 669.7 L1212.1 671.0 L1213.0 672.2 L1213.9 673.5 L1214.8 674.7 L1215.8 675.9 L1216.7 677.2 L1217.7 678.4 L1218.7 679.6 L1219.7 680.8 L1220.6 682.0 L1221.6 683.2 L1222.6 684.3 L1223.6 685.5 L1224.6 686.7 L1225.6 687.8 L1226.6 688.9 L1227.6 690.1 L1228.6 691.2 L1229.6 692.3 L1230.6 693.5 L1231.6 694.6 L1232.6 695.7 L1233.7 696.9 L1234.7 698.0 L1235.7 699.1 L1236.8 700.3 L1237.8 701.4 L1238.9 702.6 L1239.9 703.7 L1241.0 704.8 L1242.1 705.9 L1243.2 707.0 L1244.3 708.1 L1245.5 709.2 L1246.6 710.3 L1247.8 711.4 L1249.0 712.4 L1250.2 713.5 L1251.3 714.5 L1252.5 715.5 L1253.7 716.4 L1254.8 717.4 L1256.0 718.4 L1257.1 719.4 L1258.3 720.3 L1259.4 721.3 L1260.6 722.3 L1261.8 723.2 L1262.9 724.2 L1264.1 725.1 L1265.2 726.1 L1266.4 727.1 L1267.5 728.0 L1268.7 729.0 L1269.9 729.9 L1271.0 730.9 L1272.2 731.8 L1273.3 732.8 L1274.5 733.7 L1275.6 734.7 L1276.8 735.7 L1277.9 736.6 L1279.1 737.6 L1280.2 738.5 L1281.4 739.5 L1282.6 740.4 L1283.7 741.4 L1284.9 742.4 L1286.0 743.3 L1287.2 744.3 L1288.4 745.2 L1289.6 746.2 L1290.7 747.1 L1291.9 748.1 L1293.1 749.0 L1294.3 750.0 L1295.6 751.0 L1296.8 751.9 L1298.1 752.9 L1299.4 753.8 L1300.7 754.8 L1302.0 755.7 L1303.4 756.5 L1304.7 757.4 L1306.1 758.2 L1307.5 759.1 L1308.9 759.9 L1310.2 760.6 L1311.6 761.4 L1313.0 762.1 L1314.4 762.9 L1315.8 763.6 L1317.2 764.3 L1318.7 765.0 L1320.1 765.7 L1321.5 766.3 L1322.9 767.0 L1324.3 767.6 L1325.8 768.2 L1327.2 768.9 L1328.6 769.5 L1330.0 770.1 L1331.4 770.7 L1332.9 771.2 L1334.3 771.8 L1335.7 772.4 L1337.1 772.9 L1338.5 773.5 L1339.9 774.1 L1341.3 774.6 L1342.7 775.2 L1344.1 775.7 L1345.5 776.3 L1346.9 776.8 L1348.3 777.4 L1349.7 777.9 L1351.1 778.5 L1352.5 779.0 L1353.9 779.6 L1355.3 780.2 L1356.6 780.7 L1358.0 781.3 L1359.4 781.8 L1360.8 782.4 L1362.2 782.9 L1363.6 783.5 L1365.0 784.0 L1366.4 784.6 L1367.8 785.1 L1369.2 785.7 L1370.6 786.2 L1372.0 786.8 L1373.4 787.3 L1374.8 787.9 L1376.2 788.4 L1377.6 789.0 L1379.0 789.5 L1380.4 790.1 L1381.8 790.6 L1383.2 791.2 L1384.6 791.7 L1386.0 792.3 L1387.4 792.8 L1388.8 793.4 L1390.2 793.9 L1391.5 794.5 L1392.9 795.0 L1394.4 795.6 L1395.8 796.1 L1397.2 796.6 L1398.6 797.2 L1400.1 797.7 L1401.5 798.3 L1403.0 798.8 L1404.5 799.3 L1405.9 799.8 L1407.4 800.2 L1408.9 800.7 L1410.3 801.2 L1411.8 801.6 L1413.3 802.1 L1414.7 802.5 L1416.2 802.9 L1417.7 803.4 L1419.2 803.8 L1420.6 804.2 L1422.1 804.6 L1423.6 805.0 L1425.0 805.4 L1426.5 805.8 L1428.0 806.2 L1429.4 806.6 L1430.9 807.0 L1432.3 807.3 L1433.8 807.7 L1437.4 794.1 L1436.0 793.7 L1434.5 793.3 L1433.1 792.9 L1431.6 792.5 L1430.2 792.1 L1428.8 791.7 L1427.3 791.4 L1425.9 791.0 L1424.5 790.5 L1423.1 790.1 L1421.6 789.7 L1420.2 789.3 L1418.8 788.9 L1417.4 788.5 L1416.0 788.0 L1414.6 787.6 L1413.3 787.1 L1411.9 786.7 L1410.5 786.2 L1409.1 785.7 L1407.8 785.2 L1406.4 784.7 L1405.1 784.2 L1403.7 783.7 L1402.4 783.2 L1401.0 782.6 L1399.6 782.1 L1398.2 781.5 L1396.8 781.0 L1395.4 780.5 L1394.0 779.9 L1392.6 779.4 L1391.2 778.8 L1389.8 778.3 L1388.5 777.7 L1387.1 777.2 L1385.7 776.6 L1384.3 776.1 L1382.9 775.5 L1381.5 775.0 L1380.1 774.4 L1378.7 773.9 L1377.3 773.3 L1375.9 772.8 L1374.5 772.2 L1373.1 771.7 L1371.7 771.1 L1370.3 770.6 L1368.9 770.0 L1367.6 769.5 L1366.2 768.9 L1364.8 768.4 L1363.4 767.8 L1362.0 767.3 L1360.6 766.7 L1359.2 766.2 L1357.8 765.6 L1356.4 765.0 L1355.0 764.5 L1353.6 763.9 L1352.2 763.4 L1350.8 762.8 L1349.5 762.3 L1348.1 761.7 L1346.7 761.2 L1345.3 760.6 L1343.9 760.1 L1342.5 759.5 L1341.1 759.0 L1339.8 758.4 L1338.4 757.8 L1337.0 757.3 L1335.7 756.7 L1334.3 756.1 L1333.0 755.5 L1331.7 754.9 L1330.3 754.3 L1329.0 753.7 L1327.7 753.1 L1326.4 752.5 L1325.1 751.8 L1323.8 751.2 L1322.5 750.5 L1321.2 749.9 L1320.0 749.2 L1318.7 748.5 L1317.5 747.8 L1316.3 747.1 L1315.1 746.4 L1313.8 745.6 L1312.7 744.9 L1311.5 744.1 L1310.3 743.3 L1309.2 742.5 L1308.0 741.7 L1306.9 740.9 L1305.8 740.1 L1304.7 739.2 L1303.5 738.3 L1302.4 737.4 L1301.2 736.5 L1300.1 735.5 L1298.9 734.6 L1297.8 733.7 L1296.6 732.7 L1295.5 731.8 L1294.3 730.8 L1293.2 729.9 L1292.0 729.0 L1290.9 728.0 L1289.7 727.1 L1288.6 726.1 L1287.4 725.1 L1286.3 724.2 L1285.1 723.2 L1284.0 722.3 L1282.8 721.3 L1281.7 720.4 L1280.5 719.4 L1279.3 718.4 L1278.2 717.5 L1277.0 716.5 L1275.9 715.6 L1274.7 714.6 L1273.6 713.7 L1272.4 712.7 L1271.3 711.8 L1270.1 710.8 L1269.0 709.9 L1267.8 708.9 L1266.7 707.9 L1265.6 707.0 L1264.4 706.0 L1263.3 705.1 L1262.2 704.1 L1261.0 703.2 L1259.9 702.2 L1258.9 701.3 L1257.8 700.3 L1256.8 699.4 L1255.7 698.4 L1254.7 697.4 L1253.7 696.4 L1252.7 695.4 L1251.7 694.4 L1250.7 693.4 L1249.7 692.3 L1248.7 691.3 L1247.7 690.2 L1246.7 689.1 L1245.7 688.0 L1244.7 686.9 L1243.7 685.8 L1242.7 684.7 L1241.7 683.6 L1240.8 682.5 L1239.8 681.4 L1238.8 680.3 L1237.8 679.1 L1236.8 678.0 L1235.8 676.9 L1234.9 675.8 L1233.9 674.7 L1232.9 673.6 L1232.0 672.5 L1231.1 671.4 L1230.2 670.3 L1229.2 669.1 L1228.3 668.0 L1227.5 666.9 L1226.6 665.7 L1225.7 664.6 L1224.8 663.4 L1223.9 662.2 L1223.1 661.1 L1222.2 659.9 L1221.4 658.7 L1220.5 657.5 L1219.7 656.3 L1218.9 655.1 L1218.0 653.9 L1217.2 652.7 L1216.4 651.5 L1215.6 650.3 L1214.8 649.1 L1214.0 647.8 L1213.2 646.6 L1212.5 645.3 L1211.7 644.1 L1210.9 642.8 L1210.1 641.6 L1209.4 640.3 L1208.6 639.1 L1207.8 637.8 L1207.1 636.5 L1206.3 635.3 L1205.6 634.0 L1204.8 632.7 L1204.1 631.4 L1203.3 630.1 L1202.6 628.9 L1201.9 627.6 L1201.1 626.3 L1200.4 625.0 L1199.7 623.7 L1198.9 622.4 L1198.2 621.1 L1197.5 619.8 L1196.8 618.5 L1196.0 617.2 L1195.3 615.9 L1194.6 614.6 L1193.9 613.3 L1193.2 612.0 L1192.5 610.7 L1191.8 609.4 L1191.1 608.1 L1190.4 606.8 L1189.7 605.4 L1189.0 604.1 L1188.3 602.8 L1187.6 601.5 L1186.9 600.2 L1186.2 598.9 L1185.5 597.5 L1184.8 596.2 L1184.1 594.9 L1183.4 593.6 L1182.7 592.3 L1182.1 591.0 L1181.4 589.7 L1180.8 588.4 L1180.1 587.1 L1179.5 585.7 L1178.9 584.4 L1178.2 583.1 L1177.6 581.8 L1177.0 580.5 L1176.4 579.1 L1175.9 577.8 L1175.3 576.5 L1174.7 575.1 L1174.2 573.8 L1173.6 572.4 L1173.1 571.1 L1172.6 569.8 L1172.1 568.5 L1171.6 567.2 L1171.1 565.9 L1170.7 564.6 L1170.4 563.3 L1170.0 562.0 L1169.7 560.6 L1169.3 559.2 L1169.0 557.7 L1168.6 556.1 L1168.2 554.6 L1167.8 553.0 L1167.3 551.4 L1166.8 549.8 L1166.2 548.2 L1165.7 546.8 L1165.1 545.3 L1164.5 543.9 L1163.9 542.4 L1163.4 541.0 L1162.8 539.6 L1162.2 538.2 L1161.6 536.9 L1161.0 535.5 L1160.5 534.1 L1159.9 532.8 L1159.4 531.4 L1158.8 530.1 L1158.3 528.8 L1157.8 527.4 L1157.3 526.1 L1156.8 524.7 L1156.3 523.3 L1155.8 521.9 L1155.3 520.5 L1154.8 519.1 L1154.3 517.6 L1153.8 516.2 L1153.4 514.8 L1152.9 513.4 L1152.4 512.0 L1151.9 510.6 L1151.4 509.1 L1150.9 507.7 L1150.4 506.3 L1149.9 504.9 L1149.4 503.5 L1148.9 502.1 L1148.4 500.7 L1147.9 499.2 L1147.4 497.8 L1146.9 496.4 L1146.4 495.0 L1145.9 493.6 L1145.4 492.2 L1144.9 490.8 L1144.4 489.3 L1143.9 487.9 L1143.4 486.5 L1143.0 485.1 L1142.5 483.7 L1142.0 482.3 L1141.5 480.8 L1141.0 479.4 L1140.5 477.9 L1139.9 476.4 L1139.4 474.9 L1138.8 473.4 L1138.1 471.9 L1137.5 470.4 L1136.8 469.0 L1136.1 467.5 L1135.4 466.1 L1134.6 464.7 L1133.9 463.3 L1133.2 461.9 L1132.4 460.6 L1131.7 459.2 L1130.9 457.9 L1130.2 456.6 L1129.5 455.3 L1128.7 454.0 L1128.0 452.7 L1127.3 451.4 L1126.5 450.1 L1125.8 448.8 L1125.1 447.5 L1124.3 446.1 L1123.6 444.8 L1122.9 443.5 L1122.1 442.2 L1121.4 441.0 L1120.7 439.8 L1120.1 438.5 L1119.4 437.2 L1118.8 435.9 L1118.1 434.6 L1117.4 433.2 L1116.7 431.7 L1115.9 430.2 L1115.1 428.7 L1114.1 427.1 L1113.1 425.6 L1112.0 424.2 L1110.9 422.8 L1109.7 421.6 L1108.6 420.3 L1107.5 419.2 L1106.3 418.1 L1105.3 417.0 L1104.2 416.0 L1103.2 415.0 L1102.2 414.0 L1101.2 412.9 L1100.3 411.9 L1099.3 410.8 L1098.2 409.7 L1097.2 408.5 L1096.2 407.4 L1095.1 406.3 L1094.0 405.1 L1092.8 403.9 L1091.6 402.8 L1090.4 401.6 L1089.1 400.5 L1087.7 399.4 L1086.3 398.4 L1084.9 397.4 L1083.5 396.4 L1082.0 395.5 L1080.5 394.7 L1079.1 393.9 L1077.6 393.2 L1076.2 392.5 L1074.8 391.8 L1073.4 391.1 L1072.0 390.5 L1070.7 389.8 L1069.4 389.2 L1068.1 388.6 L1066.9 387.9 L1065.7 387.2 L1064.5 386.6 L1063.3 385.8 L1062.0 385.1 L1060.8 384.3 L1059.6 383.6 L1058.3 382.8 L1057.0 382.0 L1055.8 381.2 L1054.5 380.4 L1053.2 379.6 L1051.9 378.8 L1050.6 378.0 L1049.3 377.2 L1048.0 376.5 L1046.7 375.7 L1045.4 374.9 L1044.0 374.1 L1042.7 373.3 L1041.4 372.6 L1040.1 371.8 L1038.7 371.1 L1037.4 370.3 L1036.1 369.6 L1034.7 368.9 L1033.4 368.1 L1032.0 367.4 L1030.7 366.7 L1029.3 366.0 L1028.0 365.3 L1026.6 364.6 L1025.3 363.9 L1023.9 363.2 L1022.6 362.5 L1021.2 361.8 L1019.8 361.1 L1018.4 360.5 L1017.1 359.8 L1015.7 359.1 L1014.3 358.5 L1012.9 357.8 L1011.5 357.2 L1010.1 356.6 L1008.7 355.9 L1007.3 355.3 L1005.9 354.7 L1004.5 354.1 L1003.1 353.5 L1001.7 352.9 L1000.3 352.3 L998.9 351.7 L997.5 351.1 L996.1 350.5 L994.7 350.0 L993.2 349.4 L991.8 348.8 L990.4 348.3 L989.0 347.7 L987.6 347.2 L986.2 346.6 L984.8 346.1 L983.4 345.5 L982.0 345.0 L980.5 344.4 L979.1 343.9 L977.7 343.3 L976.3 342.8 L974.9 342.3 L973.5 341.8 L972.0 341.2 L970.6 340.7 L969.2 340.2 L967.8 339.7 L966.4 339.2 L964.9 338.7 L963.5 338.2 L962.1 337.6 L960.7 337.1 L959.3 336.6 L957.8 336.1 L956.4 335.6 L955.0 335.2 L953.6 334.7 L952.1 334.2 L950.7 333.7 L949.3 333.2 L947.9 332.7 L946.4 332.2 L945.0 331.7 L943.6 331.2 L942.2 330.7 L940.8 330.2 L939.3 329.8 L937.9 329.3 L936.5 328.8 L935.1 328.3 L933.7 327.8 L932.2 327.3 L930.8 326.8 L929.4 326.4 L928.0 325.9 L926.5 325.4 L925.1 324.9 L923.7 324.4 L922.2 324.0 L920.8 323.5 L919.4 323.0 L917.9 322.6 L916.5 322.1 L915.1 321.6 L913.6 321.2 L912.2 320.7 L910.7 320.3 L909.3 319.8 L907.8 319.4 L906.4 318.9 L904.9 318.5 L903.5 318.0 L902.0 317.6 L900.6 317.1 L899.1 316.7 L897.7 316.3 L896.2 315.9 L894.8 315.5 L893.3 315.0 L891.8 314.6 L890.4 314.2 L888.9 313.8 L887.4 313.4 L886.0 313.0 L884.5 312.6 L883.0 312.3 L881.6 311.9 L880.1 311.5 L878.7 311.1 L877.2 310.7 L875.7 310.4 L874.3 310.0 L872.8 309.6 L871.3 309.2 L869.9 308.9 L868.4 308.5 L866.9 308.2 L865.5 307.8 L864.0 307.4 L862.6 307.1 L861.1 306.7 L859.6 306.4 L858.2 306.0 L856.7 305.7 L855.2 305.3 L853.8 305.0 L852.3 304.6 L850.8 304.3 L849.4 303.9 L847.9 303.6 L846.5 303.3 L845.0 302.9 L843.5 302.6 L842.1 302.2 L840.6 301.9 L839.2 301.5 L837.7 301.2 L836.2 300.8 L834.8 300.5 L833.3 300.2 L831.8 299.8 L830.4 299.5 L828.9 299.2 L827.4 298.8 L826.0 298.5 L824.5 298.1 L823.0 297.8 L821.6 297.5 L820.1 297.2 L818.6 296.8 L817.1 296.5 L815.7 296.2 L814.2 295.9 L812.7 295.5 L811.3 295.2 L809.8 294.9 L808.3 294.6 L806.8 294.3 L805.3 294.0 L803.9 293.7 L802.4 293.4 L800.9 293.1 L799.4 292.8 L798.0 292.5 L796.5 292.2 L795.0 291.9 L793.5 291.6 L792.1 291.3 L790.6 291.0 L789.1 290.7 L787.6 290.4 L786.1 290.1 L784.7 289.8 L783.2 289.5 L781.7 289.2 L780.2 289.0 L778.8 288.7 L777.3 288.4 L775.8 288.1 L774.3 287.8 L772.8 287.6 L771.4 287.3 L769.9 287.0 L768.4 286.7 L766.9 286.5 L765.4 286.2 L763.9 285.9 L762.5 285.7 L761.0 285.4 L759.5 285.1 L758.0 284.9 L756.5 284.6 L755.0 284.4 L753.6 284.1 L752.1 283.8 L750.6 283.6 L749.1 283.3 L747.6 283.1 L746.2 282.8 L744.7 282.6 L743.2 282.3 L741.7 282.1 L740.2 281.8 L738.8 281.6 L737.3 281.3 L735.8 281.1 L734.3 280.8 L732.8 280.6 L731.4 280.3 L729.9 280.1 L728.4 279.8 L726.9 279.5 L725.5 279.3 L724.0 279.0 L722.5 278.8 L721.0 278.5 L719.5 278.3 L718.1 278.0 L716.6 277.8 L715.1 277.5 L713.6 277.3 L712.1 277.1 L710.7 276.8 L709.2 276.6 L707.7 276.3 L706.2 276.1 L704.7 275.8 L703.3 275.6 L701.8 275.3 L700.3 275.1 L698.8 274.8 L697.4 274.6 L695.9 274.3 L694.4 274.1 L692.9 273.8 L691.4 273.6 L690.0 273.3 L688.5 273.1 L687.0 272.8 L685.5 272.6 L684.0 272.3 L682.6 272.1 L681.1 271.8 L679.6 271.6 L678.1 271.4 L676.6 271.1 L675.2 270.9 L673.7 270.6 L672.2 270.4 L670.7 270.1 L669.2 269.9 L667.7 269.7 L666.3 269.4 L664.8 269.2 L663.3 268.9 L661.8 268.7 L660.3 268.5 L658.8 268.2 L657.4 268.0 L655.9 267.8 L654.4 267.5 L652.9 267.3 L651.4 267.1 L649.9 266.8 L648.4 266.6 L646.9 266.4 L645.5 266.1 L644.0 265.9 L642.5 265.7 L641.0 265.5 L639.5 265.3 L638.0 265.0 L636.5 264.8 L635.0 264.6 L633.5 264.4 L632.0 264.2 L630.5 264.0 L629.0 263.8 L627.5 263.6 L626.0 263.4 L624.5 263.2 L623.1 263.0 L621.6 262.8 L620.1 262.6 L618.6 262.4 L617.1 262.2 L615.6 262.0 L614.1 261.9 L612.6 261.7 L611.1 261.5 L609.6 261.3 L608.1 261.1 L606.6 261.0 L605.1 260.8 L603.6 260.6 L602.1 260.4 L600.6 260.3 L599.1 260.1 L597.6 259.9 L596.1 259.8 L594.6 259.6 L593.1 259.4 L591.6 259.3 L590.1 259.1 L588.6 258.9 L587.1 258.8 L585.6 258.6 L584.1 258.5 L582.7 258.3 L581.2 258.2 L579.7 258.0 L578.2 257.9 L576.7 257.7 L575.2 257.6 L573.7 257.4 L572.2 257.3 L570.7 257.1 L569.2 257.0 L567.7 256.8 L566.2 256.7 L564.7 256.5 L563.2 256.4 L561.7 256.3 L560.2 256.1 L558.7 256.0 L557.2 255.9 L555.7 255.7 L554.2 255.6 L552.7 255.4 L551.2 255.3 L549.7 255.2 L548.2 255.1 L546.7 254.9 L545.2 254.8 L543.7 254.7 L542.2 254.5 L540.7 254.4 L539.2 254.3 L537.7 254.1 L536.2 254.0 L534.7 253.9 L533.3 253.8 L531.8 253.6 L530.3 253.5 L528.8 253.4 L527.3 253.3 L525.8 253.1 L524.3 253.0 L522.8 252.9 L521.3 252.8 L519.8 252.6 L518.3 252.5 L516.8 252.4 L515.3 252.3 L513.8 252.1 L512.3 252.0 L510.8 251.9 L509.3 251.8 L507.8 251.7 L506.3 251.5 L504.8 251.4 L503.3 251.3 L501.8 251.2 L500.3 251.1 L498.8 250.9 L497.4 250.8 L495.9 250.7 L494.4 250.6 L492.9 250.5 L491.4 250.4 L489.9 250.2 L488.4 250.1 L486.9 250.0 L485.4 249.9 L483.9 249.8 L482.4 249.7 L480.9 249.5 L479.4 249.4 L477.9 249.3 L476.4 249.2 L474.9 249.1 L473.4 249.0 L471.9 248.9 L470.4 248.8 L468.9 248.6 L467.4 248.5 L465.9 248.4 L464.4 248.3 L462.9 248.2 L461.4 248.1 L459.9 248.0 L458.4 247.9 L457.0 247.8 L455.5 247.6 L454.0 247.5 L452.5 247.4 L451.0 247.3 L449.5 247.2 L448.0 247.1 L446.5 247.0 L445.0 246.9 L443.5 246.8 L442.0 246.7 L440.5 246.6 L439.0 246.4 L437.5 246.3 L436.0 246.2 L434.5 246.1 L433.0 246.0 L431.5 245.9 L430.0 245.8 L428.5 245.7 L427.0 245.6 L425.5 245.5 L424.0 245.4 L422.5 245.3 L421.0 245.2 L419.5 245.1 L418.0 245.0 L416.5 244.9 L415.0 244.8 L413.5 244.7 L412.0 244.6 L410.5 244.5 L409.0 244.4 L407.5 244.3 L406.0 244.2 L404.5 244.1 L403.0 244.0 L401.5 243.9 L400.0 243.8 L398.5 243.7 L397.0 243.7 L395.5 243.6 L394.0 243.5 L392.5 243.4 L391.0 243.3 L389.5 243.3 L388.0 243.2 L386.5 243.1 L385.0 243.1 L383.4 243.0 L381.9 242.9 L380.4 242.9 L378.9 242.8 L377.4 242.8 L375.9 242.7 L374.4 242.7 L372.9 242.6 L371.4 242.6 L369.9 242.5 L368.4 242.5 L366.9 242.4 L365.4 242.4 L363.9 242.3 L362.4 242.3 L360.9 242.2 L359.4 242.2 L357.9 242.2 L356.4 242.1 L354.9 242.1 L353.4 242.0 L351.9 242.0 L350.4 242.0 L348.9 241.9 L347.4 241.9 L345.9 241.8 L344.4 241.8 L342.9 241.8 L341.4 241.7 L339.9 241.7 L338.4 241.7 L336.9 241.6 L335.4 241.6 L333.9 241.6 L332.4 241.5 L330.9 241.5 L329.4 241.4 L327.9 241.4 L326.4 241.4 L324.9 241.3 L323.4 241.3 L321.9 241.3 L320.4 241.2 L318.9 241.2 L317.4 241.2 L315.9 241.1 L314.4 241.1 L312.9 241.1 L311.4 241.0 L309.9 241.0 L308.4 241.0 L306.9 241.0 L305.4 240.9 L303.9 240.9 L302.4 240.9 L300.9 240.8 L299.4 240.8 L297.9 240.8 L296.4 240.8 L294.9 240.7 L293.3 240.7 L291.8 240.7 L290.3 240.7 L288.8 240.6 L287.3 240.6 L285.8 240.6 L284.3 240.6 L282.8 240.6 L281.3 240.5 L279.8 240.5 L278.3 240.5 L276.8 240.5 L275.3 240.5 L273.8 240.4 L272.3 240.4 L270.8 240.4 L269.3 240.4 L267.8 240.4 L266.3 240.4 L264.8 240.3 L263.3 240.3 L261.8 240.3 L260.3 240.3 L258.8 240.3 L257.3 240.3 L255.8 240.2 L254.3 240.2 L252.8 240.2 L251.3 240.2 L249.8 240.2 L248.3 240.2 L246.8 240.2 L245.3 240.1 L243.8 240.1 L242.3 240.1 L240.8 240.1 L239.3 240.1 L237.8 240.1 L236.3 240.1 L234.8 240.1 L233.3 240.1 L231.8 240.0 L230.3 240.0 L228.8 240.0 L227.3 240.0 L225.8 240.0 L224.3 240.0 L222.8 240.0 L221.3 240.0 L219.8 240.0 L218.3 240.0 L216.8 240.0 L215.3 240.0 L213.8 240.0 L212.3 239.9 L210.8 239.9 L209.3 239.9 L207.8 239.9 L206.3 239.9 L204.8 239.9 L203.3 239.9 L201.8 239.9 L200.3 239.9 L198.8 239.9 L197.3 239.9 L195.8 239.9 L194.3 239.9 L192.8 239.9 L191.3 239.9 L189.8 239.9 L188.3 239.9 L186.8 239.9 L185.3 239.9ZM178.7 246.5a6.6 6.6 0 1 0 13.2 0a6.6 6.6 0 1 0 -13.2 0ZM1429.0 800.9a6.6 6.6 0 1 0 13.2 0a6.6 6.6 0 1 0 -13.2 0Z"/>
<path d="M1031.0 66.5 L1031.0 68.1 L1031.0 69.6 L1031.0 71.1 L1031.0 72.6 L1031.1 74.1 L1031.1 75.6 L1031.1 77.1 L1031.1 78.6 L1031.2 80.2 L1031.2 81.7 L1031.2 83.2 L1031.3 84.7 L1031.3 86.3 L1031.4 87.8 L1031.5 89.3 L1031.5 90.9 L1031.6 92.4 L1031.7 93.9 L1031.8 95.5 L1031.9 97.0 L1032.0 98.5 L1032.2 100.1 L1032.3 101.6 L1032.4 103.1 L1032.6 104.6 L1032.7 106.1 L1032.9 107.6 L1033.0 109.1 L1033.2 110.6 L1033.3 112.1 L1033.4 113.6 L1033.6 115.1 L1033.7 116.6 L1033.9 118.0 L1034.0 119.5 L1034.2 121.0 L1034.3 122.5 L1034.4 124.0 L1034.6 125.5 L1034.7 127.0 L1034.9 128.5 L1035.0 130.0 L1035.2 131.5 L1035.3 133.0 L1035.4 134.5 L1035.6 135.9 L1035.7 137.4 L1035.9 138.9 L1036.0 140.4 L1036.1 141.9 L1036.3 143.4 L1036.4 144.9 L1036.5 146.4 L1036.7 147.9 L1036.8 149.4 L1037.0 150.9 L1037.1 152.4 L1037.2 153.8 L1037.4 155.3 L1037.5 156.8 L1037.6 158.3 L1037.8 159.8 L1037.9 161.3 L1038.1 162.8 L1038.2 164.3 L1038.3 165.8 L1038.5 167.3 L1038.6 168.8 L1038.7 170.3 L1038.9 171.8 L1039.0 173.3 L1039.2 174.8 L1039.3 176.3 L1039.4 177.7 L1039.6 179.2 L1039.7 180.8 L1039.9 182.3 L1040.0 183.8 L1040.2 185.3 L1040.3 186.8 L1040.5 188.3 L1040.7 189.8 L1040.8 191.3 L1041.0 192.8 L1041.2 194.3 L1041.3 195.8 L1041.5 197.3 L1041.7 198.8 L1041.9 200.3 L1042.0 201.8 L1042.2 203.3 L1042.4 204.7 L1042.6 206.2 L1042.7 207.7 L1042.9 209.2 L1043.1 210.7 L1043.3 212.2 L1043.4 213.7 L1043.6 215.1 L1043.8 216.6 L1043.9 218.1 L1044.1 219.6 L1044.3 221.0 L1044.4 222.5 L1044.5 223.9 L1044.6 225.4 L1044.8 226.8 L1044.9 228.3 L1045.0 229.8 L1045.1 231.3 L1045.2 232.8 L1045.3 234.4 L1045.5 235.9 L1045.6 237.5 L1045.8 239.1 L1046.0 240.6 L1046.2 242.2 L1046.4 243.7 L1046.6 245.2 L1046.9 246.7 L1047.1 248.2 L1047.3 249.7 L1047.5 251.1 L1047.7 252.6 L1048.0 254.1 L1048.2 255.6 L1048.4 257.1 L1048.6 258.6 L1048.9 260.1 L1049.1 261.6 L1049.3 263.0 L1049.5 264.5 L1049.8 266.0 L1050.0 267.5 L1050.2 269.0 L1050.5 270.4 L1050.7 271.9 L1050.9 273.4 L1051.1 274.9 L1051.4 276.3 L1051.6 277.8 L1051.8 279.3 L1052.0 280.8 L1052.2 282.3 L1052.4 283.7 L1052.7 285.2 L1052.9 286.7 L1053.1 288.2 L1053.3 289.7 L1053.5 291.2 L1053.7 292.6 L1053.9 294.1 L1054.2 295.6 L1054.4 297.1 L1054.6 298.6 L1054.8 300.1 L1055.0 301.6 L1055.2 303.0 L1055.5 304.5 L1055.7 306.0 L1055.9 307.5 L1056.1 309.0 L1056.4 310.5 L1056.6 312.0 L1056.8 313.5 L1057.1 315.0 L1057.3 316.5 L1057.5 318.0 L1057.8 319.5 L1058.0 321.0 L1058.3 322.5 L1058.5 324.0 L1058.8 325.5 L1059.1 327.0 L1059.4 328.5 L1059.6 330.0 L1059.9 331.5 L1060.2 332.9 L1060.5 334.4 L1060.8 335.9 L1061.1 337.4 L1061.4 338.9 L1061.7 340.3 L1062.0 341.8 L1062.3 343.3 L1062.6 344.8 L1062.9 346.3 L1063.2 347.7 L1063.5 349.2 L1063.8 350.7 L1064.1 352.2 L1064.4 353.6 L1064.8 355.1 L1065.1 356.5 L1065.4 358.0 L1065.7 359.4 L1066.0 360.9 L1066.3 362.3 L1066.5 363.7 L1066.8 365.1 L1067.0 366.5 L1067.3 367.9 L1067.5 369.4 L1067.7 370.8 L1067.9 372.3 L1068.1 373.8 L1068.3 375.2 L1068.5 376.7 L1068.7 378.2 L1068.9 379.7 L1069.1 381.2 L1069.3 382.8 L1069.5 384.3 L1069.7 385.8 L1069.9 387.4 L1070.2 388.9 L1070.5 390.5 L1070.8 392.0 L1071.1 393.6 L1071.4 395.2 L1071.8 396.7 L1072.1 398.3 L1072.6 399.9 L1073.0 401.4 L1073.5 402.9 L1073.9 404.4 L1074.4 405.8 L1074.8 407.2 L1075.3 408.7 L1075.7 410.1 L1076.2 411.5 L1076.6 413.0 L1077.1 414.4 L1077.5 415.8 L1078.0 417.3 L1078.4 418.7 L1078.9 420.1 L1079.3 421.6 L1079.8 423.0 L1080.2 424.4 L1080.7 425.8 L1081.1 427.3 L1081.6 428.7 L1082.0 430.1 L1082.5 431.6 L1082.9 433.0 L1083.4 434.4 L1083.8 435.9 L1084.3 437.3 L1084.8 438.7 L1085.2 440.1 L1085.7 441.6 L1086.1 443.0 L1086.6 444.4 L1087.0 445.9 L1087.5 447.3 L1087.9 448.7 L1088.4 450.1 L1088.8 451.6 L1089.3 453.0 L1089.7 454.4 L1090.2 455.9 L1090.6 457.3 L1091.1 458.7 L1091.5 460.1 L1092.0 461.6 L1092.4 463.0 L1092.9 464.4 L1093.4 465.9 L1093.8 467.3 L1094.3 468.7 L1094.7 470.2 L1095.2 471.6 L1095.6 473.0 L1096.1 474.4 L1096.5 475.9 L1097.0 477.3 L1097.4 478.7 L1097.9 480.2 L1098.3 481.6 L1098.8 483.0 L1099.2 484.4 L1099.7 485.9 L1100.1 487.3 L1100.6 488.8 L1101.1 490.2 L1101.5 491.7 L1102.0 493.1 L1102.5 494.6 L1103.0 496.1 L1103.5 497.5 L1104.0 499.0 L1104.6 500.4 L1105.1 501.9 L1105.6 503.3 L1106.2 504.7 L1106.8 506.2 L1107.3 507.6 L1107.9 509.0 L1108.5 510.5 L1109.1 511.9 L1109.7 513.3 L1110.3 514.7 L1110.9 516.1 L1111.5 517.6 L1112.2 519.0 L1112.8 520.4 L1113.5 521.8 L1114.1 523.2 L1114.8 524.6 L1115.5 526.1 L1116.3 527.5 L1117.0 528.9 L1117.8 530.3 L1118.6 531.7 L1119.4 533.1 L1120.2 534.4 L1121.0 535.7 L1121.9 537.0 L1122.7 538.3 L1123.5 539.6 L1124.3 540.8 L1125.1 542.1 L1125.9 543.3 L1126.7 544.5 L1127.4 545.7 L1128.1 546.9 L1128.8 548.1 L1129.5 549.3 L1130.2 550.6 L1130.9 551.8 L1131.5 553.1 L1132.2 554.4 L1132.8 555.7 L1133.4 557.0 L1134.1 558.3 L1134.7 559.7 L1135.3 561.0 L1136.0 562.4 L1136.6 563.8 L1137.3 565.2 L1138.0 566.6 L1138.7 568.0 L1139.4 569.4 L1140.1 570.8 L1140.9 572.2 L1141.7 573.6 L1142.5 575.0 L1143.3 576.3 L1144.1 577.7 L1144.9 579.0 L1145.7 580.3 L1146.6 581.6 L1147.4 582.9 L1148.2 584.2 L1149.1 585.5 L1149.9 586.8 L1150.8 588.0 L1151.7 589.3 L1152.5 590.5 L1153.4 591.8 L1154.3 593.0 L1155.1 594.3 L1156.0 595.5 L1156.9 596.7 L1157.8 598.0 L1158.6 599.2 L1159.5 600.4 L1160.4 601.6 L1161.2 602.9 L1162.1 604.1 L1163.0 605.3 L1163.9 606.6 L1164.8 607.8 L1165.6 609.0 L1166.5 610.3 L1167.4 611.5 L1168.3 612.7 L1169.2 613.9 L1170.1 615.2 L1171.0 616.4 L1171.9 617.6 L1172.9 618.8 L1173.8 620.1 L1174.7 621.3 L1175.7 622.5 L1176.6 623.7 L1177.6 624.9 L1178.5 626.1 L1179.5 627.3 L1180.5 628.5 L1181.5 629.7 L1182.5 630.9 L1183.5 632.1 L1184.6 633.2 L1185.6 634.4 L1186.7 635.6 L1187.8 636.8 L1188.9 638.0 L1190.1 639.2 L1191.3 640.3 L1192.6 641.4 L1193.9 642.5 L1195.1 643.5 L1196.4 644.5 L1197.6 645.4 L1198.9 646.4 L1200.1 647.3 L1201.3 648.2 L1202.4 649.1 L1203.6 650.0 L1204.7 650.8 L1205.8 651.7 L1206.8 652.6 L1207.8 653.4 L1208.8 654.4 L1209.8 655.3 L1210.8 656.3 L1211.8 657.3 L1212.8 658.3 L1213.9 659.4 L1214.9 660.4 L1215.9 661.5 L1217.0 662.6 L1218.0 663.7 L1219.1 664.8 L1220.2 665.9 L1221.3 667.0 L1222.4 668.1 L1223.5 669.2 L1224.7 670.3 L1225.8 671.3 L1226.9 672.4 L1228.0 673.4 L1229.2 674.4 L1230.3 675.5 L1231.5 676.5 L1232.6 677.5 L1233.8 678.5 L1235.0 679.6 L1236.2 680.6 L1237.4 681.6 L1238.7 682.6 L1239.9 683.6 L1241.2 684.5 L1242.5 685.5 L1243.8 686.4 L1245.1 687.3 L1246.4 688.2 L1247.8 689.1 L1249.1 689.9 L1250.4 690.8 L1251.8 691.6 L1253.1 692.4 L1254.4 693.2 L1255.7 693.9 L1257.0 694.7 L1258.3 695.5 L1259.6 696.3 L1261.0 697.0 L1262.3 697.8 L1263.6 698.5 L1264.9 699.3 L1266.3 700.0 L1267.6 700.8 L1268.9 701.5 L1270.2 702.2 L1271.5 703.0 L1272.9 703.7 L1274.2 704.4 L1275.5 705.1 L1276.8 705.9 L1278.1 706.6 L1279.5 707.3 L1280.8 708.0 L1282.1 708.7 L1283.4 709.5 L1284.7 710.2 L1286.1 710.9 L1287.4 711.6 L1288.7 712.3 L1290.0 713.0 L1291.4 713.8 L1292.7 714.5 L1294.1 715.2 L1295.4 715.9 L1296.7 716.6 L1298.1 717.3 L1299.4 718.0 L1300.8 718.7 L1302.1 719.4 L1303.5 720.1 L1304.8 720.8 L1306.2 721.4 L1307.5 722.1 L1308.9 722.8 L1310.2 723.5 L1311.6 724.2 L1313.0 724.8 L1314.3 725.5 L1315.7 726.2 L1317.1 726.8 L1318.4 727.5 L1319.8 728.1 L1321.2 728.8 L1322.6 729.4 L1324.0 730.0 L1325.3 730.7 L1326.7 731.3 L1328.1 731.9 L1329.5 732.5 L1330.8 733.2 L1332.2 733.8 L1333.6 734.4 L1335.0 735.0 L1336.4 735.6 L1337.7 736.2 L1339.1 736.8 L1340.5 737.4 L1341.9 738.0 L1343.3 738.6 L1344.6 739.2 L1346.0 739.8 L1347.4 740.4 L1348.8 741.0 L1350.1 741.6 L1351.5 742.2 L1352.9 742.8 L1354.3 743.4 L1355.6 744.0 L1357.0 744.6 L1358.4 745.2 L1359.8 745.8 L1361.2 746.4 L1362.6 747.0 L1364.0 747.6 L1365.5 748.2 L1366.9 748.8 L1368.3 749.3 L1369.7 749.9 L1371.2 750.4 L1372.6 751.0 L1374.0 751.5 L1375.5 752.0 L1376.9 752.6 L1378.4 753.1 L1379.8 753.6 L1381.3 754.1 L1382.7 754.6 L1384.2 755.1 L1385.6 755.5 L1387.1 756.0 L1388.5 756.5 L1390.0 756.9 L1391.4 757.4 L1392.9 757.9 L1394.3 758.3 L1395.8 758.7 L1397.3 759.2 L1398.7 759.6 L1400.2 760.0 L1401.6 760.5 L1403.1 760.9 L1404.6 761.3 L1406.0 761.7 L1407.5 762.1 L1409.0 762.5 L1410.4 762.9 L1411.9 763.3 L1413.4 763.7 L1414.8 764.1 L1416.3 764.4 L1417.8 764.8 L1419.2 765.2 L1420.7 765.6 L1422.2 765.9 L1423.7 766.3 L1425.1 766.7 L1426.6 767.0 L1428.1 767.4 L1429.5 767.8 L1431.0 768.1 L1432.5 768.5 L1433.9 768.8 L1437.3 755.2 L1435.8 754.8 L1434.3 754.5 L1432.9 754.1 L1431.4 753.7 L1430.0 753.4 L1428.5 753.0 L1427.1 752.6 L1425.6 752.3 L1424.2 751.9 L1422.8 751.5 L1421.3 751.2 L1419.9 750.8 L1418.4 750.4 L1417.0 750.0 L1415.6 749.6 L1414.1 749.2 L1412.7 748.8 L1411.3 748.4 L1409.9 748.0 L1408.4 747.6 L1407.0 747.2 L1405.6 746.8 L1404.2 746.4 L1402.8 746.0 L1401.3 745.6 L1399.9 745.1 L1398.5 744.7 L1397.1 744.2 L1395.7 743.8 L1394.3 743.3 L1392.9 742.9 L1391.5 742.4 L1390.1 742.0 L1388.8 741.5 L1387.4 741.0 L1386.0 740.5 L1384.6 740.0 L1383.2 739.5 L1381.8 739.0 L1380.5 738.5 L1379.1 738.0 L1377.7 737.5 L1376.4 737.0 L1375.0 736.4 L1373.7 735.9 L1372.3 735.3 L1370.9 734.8 L1369.6 734.2 L1368.2 733.6 L1366.9 733.1 L1365.5 732.5 L1364.2 731.9 L1362.8 731.3 L1361.4 730.7 L1360.1 730.1 L1358.7 729.5 L1357.3 728.9 L1355.9 728.3 L1354.6 727.7 L1353.2 727.1 L1351.8 726.5 L1350.5 725.9 L1349.1 725.3 L1347.7 724.7 L1346.4 724.1 L1345.0 723.5 L1343.6 722.9 L1342.3 722.3 L1340.9 721.7 L1339.5 721.1 L1338.2 720.5 L1336.8 719.9 L1335.5 719.2 L1334.1 718.6 L1332.8 718.0 L1331.4 717.4 L1330.1 716.8 L1328.7 716.1 L1327.4 715.5 L1326.1 714.9 L1324.7 714.3 L1323.4 713.6 L1322.1 713.0 L1320.7 712.3 L1319.4 711.7 L1318.1 711.0 L1316.8 710.4 L1315.4 709.7 L1314.1 709.0 L1312.8 708.4 L1311.5 707.7 L1310.2 707.0 L1308.8 706.3 L1307.5 705.6 L1306.2 705.0 L1304.9 704.3 L1303.6 703.6 L1302.2 702.9 L1300.9 702.2 L1299.6 701.5 L1298.3 700.8 L1297.0 700.1 L1295.7 699.4 L1294.4 698.7 L1293.1 698.0 L1291.8 697.2 L1290.5 696.5 L1289.1 695.8 L1287.8 695.1 L1286.5 694.4 L1285.2 693.7 L1283.9 692.9 L1282.6 692.2 L1281.3 691.5 L1280.0 690.8 L1278.7 690.1 L1277.4 689.3 L1276.1 688.6 L1274.8 687.9 L1273.5 687.2 L1272.2 686.4 L1270.9 685.7 L1269.6 685.0 L1268.3 684.2 L1267.1 683.5 L1265.8 682.8 L1264.5 682.0 L1263.3 681.3 L1262.0 680.5 L1260.8 679.7 L1259.5 679.0 L1258.3 678.2 L1257.0 677.4 L1255.8 676.7 L1254.7 675.9 L1253.5 675.1 L1252.4 674.3 L1251.3 673.5 L1250.1 672.6 L1249.0 671.8 L1247.9 670.9 L1246.8 670.0 L1245.7 669.1 L1244.6 668.2 L1243.5 667.3 L1242.4 666.3 L1241.4 665.3 L1240.3 664.4 L1239.2 663.4 L1238.1 662.4 L1237.0 661.4 L1235.9 660.4 L1234.9 659.4 L1233.8 658.4 L1232.8 657.4 L1231.7 656.4 L1230.7 655.4 L1229.7 654.4 L1228.7 653.3 L1227.7 652.3 L1226.6 651.2 L1225.6 650.1 L1224.5 649.0 L1223.5 647.9 L1222.4 646.8 L1221.3 645.7 L1220.1 644.6 L1219.0 643.4 L1217.7 642.3 L1216.5 641.2 L1215.3 640.2 L1214.0 639.2 L1212.7 638.2 L1211.5 637.3 L1210.3 636.3 L1209.1 635.4 L1207.9 634.5 L1206.7 633.6 L1205.6 632.8 L1204.5 631.9 L1203.4 631.0 L1202.4 630.2 L1201.4 629.3 L1200.4 628.4 L1199.5 627.5 L1198.5 626.5 L1197.6 625.5 L1196.6 624.4 L1195.7 623.4 L1194.7 622.3 L1193.8 621.2 L1192.8 620.1 L1191.9 619.0 L1190.9 617.9 L1190.0 616.8 L1189.1 615.6 L1188.2 614.5 L1187.3 613.4 L1186.4 612.2 L1185.5 611.1 L1184.6 609.9 L1183.7 608.7 L1182.8 607.6 L1182.0 606.4 L1181.1 605.2 L1180.2 604.0 L1179.3 602.8 L1178.5 601.6 L1177.6 600.4 L1176.7 599.2 L1175.9 598.0 L1175.0 596.8 L1174.1 595.6 L1173.2 594.3 L1172.4 593.1 L1171.5 591.9 L1170.6 590.7 L1169.8 589.4 L1168.9 588.2 L1168.0 587.0 L1167.2 585.8 L1166.3 584.6 L1165.5 583.4 L1164.6 582.1 L1163.8 580.9 L1162.9 579.7 L1162.1 578.5 L1161.3 577.3 L1160.5 576.1 L1159.7 574.9 L1158.9 573.7 L1158.1 572.4 L1157.3 571.2 L1156.5 570.0 L1155.8 568.8 L1155.0 567.6 L1154.3 566.3 L1153.6 565.1 L1152.9 563.9 L1152.2 562.7 L1151.6 561.4 L1150.9 560.1 L1150.3 558.8 L1149.7 557.5 L1149.0 556.2 L1148.4 554.9 L1147.8 553.5 L1147.1 552.1 L1146.5 550.8 L1145.8 549.4 L1145.1 548.0 L1144.5 546.6 L1143.8 545.2 L1143.0 543.8 L1142.3 542.4 L1141.5 541.0 L1140.7 539.6 L1139.9 538.2 L1139.1 536.8 L1138.3 535.5 L1137.5 534.2 L1136.7 532.9 L1135.8 531.7 L1135.0 530.4 L1134.2 529.2 L1133.4 527.9 L1132.7 526.7 L1131.9 525.5 L1131.2 524.3 L1130.4 523.1 L1129.8 521.9 L1129.1 520.7 L1128.4 519.4 L1127.8 518.2 L1127.2 516.9 L1126.5 515.6 L1125.9 514.3 L1125.3 512.9 L1124.7 511.6 L1124.1 510.3 L1123.5 509.0 L1122.9 507.6 L1122.3 506.3 L1121.8 504.9 L1121.2 503.6 L1120.6 502.2 L1120.1 500.9 L1119.6 499.5 L1119.0 498.2 L1118.5 496.8 L1118.0 495.5 L1117.5 494.1 L1117.0 492.7 L1116.5 491.3 L1116.0 490.0 L1115.6 488.6 L1115.1 487.2 L1114.6 485.8 L1114.2 484.4 L1113.7 483.0 L1113.3 481.6 L1112.8 480.1 L1112.4 478.7 L1111.9 477.3 L1111.5 475.9 L1111.0 474.4 L1110.6 473.0 L1110.1 471.6 L1109.6 470.1 L1109.2 468.7 L1108.7 467.3 L1108.3 465.9 L1107.8 464.4 L1107.4 463.0 L1106.9 461.6 L1106.5 460.1 L1106.0 458.7 L1105.6 457.3 L1105.1 455.8 L1104.7 454.4 L1104.2 453.0 L1103.8 451.6 L1103.3 450.1 L1102.9 448.7 L1102.4 447.3 L1102.0 445.8 L1101.5 444.4 L1101.0 443.0 L1100.6 441.6 L1100.1 440.1 L1099.7 438.7 L1099.2 437.3 L1098.8 435.8 L1098.3 434.4 L1097.9 433.0 L1097.4 431.5 L1097.0 430.1 L1096.5 428.7 L1096.1 427.3 L1095.6 425.8 L1095.2 424.4 L1094.7 423.0 L1094.3 421.5 L1093.8 420.1 L1093.4 418.7 L1092.9 417.3 L1092.4 415.8 L1092.0 414.4 L1091.5 413.0 L1091.1 411.5 L1090.6 410.1 L1090.2 408.7 L1089.7 407.3 L1089.3 405.8 L1088.8 404.4 L1088.4 403.0 L1087.9 401.5 L1087.5 400.1 L1087.1 398.7 L1086.6 397.4 L1086.2 396.0 L1085.9 394.7 L1085.5 393.4 L1085.2 392.0 L1084.9 390.7 L1084.6 389.3 L1084.3 387.9 L1084.1 386.5 L1083.8 385.1 L1083.6 383.7 L1083.4 382.2 L1083.2 380.8 L1083.0 379.3 L1082.8 377.9 L1082.6 376.4 L1082.4 374.9 L1082.2 373.4 L1082.0 371.9 L1081.8 370.4 L1081.6 368.9 L1081.4 367.3 L1081.2 365.8 L1080.9 364.3 L1080.7 362.7 L1080.4 361.2 L1080.1 359.6 L1079.8 358.1 L1079.5 356.6 L1079.2 355.1 L1078.9 353.6 L1078.6 352.2 L1078.3 350.7 L1077.9 349.2 L1077.6 347.8 L1077.3 346.3 L1077.0 344.8 L1076.7 343.4 L1076.4 341.9 L1076.1 340.5 L1075.8 339.0 L1075.5 337.6 L1075.2 336.1 L1074.9 334.6 L1074.6 333.2 L1074.3 331.7 L1074.0 330.2 L1073.8 328.8 L1073.5 327.3 L1073.2 325.9 L1072.9 324.4 L1072.7 323.0 L1072.4 321.5 L1072.2 320.1 L1071.9 318.6 L1071.7 317.2 L1071.4 315.7 L1071.2 314.2 L1071.0 312.8 L1070.7 311.3 L1070.5 309.8 L1070.3 308.4 L1070.0 306.9 L1069.8 305.4 L1069.6 303.9 L1069.4 302.5 L1069.2 301.0 L1068.9 299.5 L1068.7 298.0 L1068.5 296.6 L1068.3 295.1 L1068.1 293.6 L1067.9 292.1 L1067.6 290.6 L1067.4 289.1 L1067.2 287.7 L1067.0 286.2 L1066.8 284.7 L1066.6 283.2 L1066.4 281.7 L1066.1 280.2 L1065.9 278.7 L1065.7 277.2 L1065.5 275.8 L1065.3 274.3 L1065.0 272.8 L1064.8 271.3 L1064.6 269.8 L1064.4 268.3 L1064.1 266.8 L1063.9 265.3 L1063.7 263.9 L1063.4 262.4 L1063.2 260.9 L1063.0 259.4 L1062.8 257.9 L1062.5 256.5 L1062.3 255.0 L1062.1 253.5 L1061.9 252.0 L1061.6 250.5 L1061.4 249.1 L1061.2 247.6 L1061.0 246.1 L1060.8 244.6 L1060.5 243.2 L1060.3 241.7 L1060.1 240.3 L1059.9 238.8 L1059.7 237.4 L1059.6 236.0 L1059.4 234.6 L1059.3 233.1 L1059.2 231.7 L1059.1 230.2 L1059.0 228.7 L1058.8 227.3 L1058.7 225.7 L1058.6 224.2 L1058.5 222.7 L1058.4 221.1 L1058.2 219.6 L1058.0 218.1 L1057.9 216.6 L1057.7 215.1 L1057.5 213.6 L1057.4 212.1 L1057.2 210.6 L1057.0 209.1 L1056.9 207.6 L1056.7 206.1 L1056.5 204.6 L1056.3 203.1 L1056.1 201.6 L1056.0 200.1 L1055.8 198.6 L1055.6 197.1 L1055.4 195.7 L1055.3 194.2 L1055.1 192.7 L1054.9 191.2 L1054.8 189.7 L1054.6 188.3 L1054.4 186.8 L1054.3 185.3 L1054.1 183.8 L1054.0 182.4 L1053.8 180.9 L1053.7 179.4 L1053.5 177.9 L1053.4 176.4 L1053.3 174.9 L1053.1 173.5 L1053.0 172.0 L1052.9 170.5 L1052.7 169.0 L1052.6 167.5 L1052.4 166.0 L1052.3 164.5 L1052.2 163.0 L1052.0 161.5 L1051.9 160.0 L1051.7 158.5 L1051.6 157.0 L1051.5 155.5 L1051.3 154.1 L1051.2 152.6 L1051.1 151.1 L1050.9 149.6 L1050.8 148.1 L1050.7 146.6 L1050.5 145.1 L1050.4 143.6 L1050.2 142.1 L1050.1 140.6 L1050.0 139.1 L1049.8 137.6 L1049.7 136.1 L1049.5 134.6 L1049.4 133.1 L1049.3 131.6 L1049.1 130.1 L1049.0 128.7 L1048.8 127.2 L1048.7 125.7 L1048.5 124.2 L1048.4 122.7 L1048.3 121.2 L1048.1 119.7 L1048.0 118.2 L1047.8 116.7 L1047.7 115.2 L1047.5 113.7 L1047.4 112.2 L1047.3 110.7 L1047.1 109.3 L1047.0 107.8 L1046.8 106.3 L1046.7 104.8 L1046.5 103.3 L1046.4 101.8 L1046.3 100.3 L1046.1 98.9 L1046.0 97.4 L1045.9 95.9 L1045.8 94.5 L1045.7 93.0 L1045.6 91.6 L1045.5 90.1 L1045.4 88.7 L1045.4 87.2 L1045.3 85.7 L1045.3 84.3 L1045.2 82.8 L1045.2 81.3 L1045.2 79.9 L1045.1 78.4 L1045.1 76.9 L1045.1 75.4 L1045.1 73.9 L1045.0 72.4 L1045.0 70.9 L1045.0 69.4 L1045.0 68.0 L1045.0 66.5ZM1031.4 66.5a6.6 6.6 0 1 0 13.2 0a6.6 6.6 0 1 0 -13.2 0ZM1429.0 762.0a6.6 6.6 0 1 0 13.2 0a6.6 6.6 0 1 0 -13.2 0Z"/>
<path d="M1105.0 67.0 L1105.1 68.4 L1105.2 69.9 L1105.3 71.4 L1105.4 72.9 L1105.5 74.4 L1105.6 75.9 L1105.7 77.4 L1105.8 78.9 L1105.9 80.4 L1106.0 81.9 L1106.1 83.4 L1106.1 84.9 L1106.2 86.4 L1106.3 87.9 L1106.4 89.4 L1106.5 90.8 L1106.6 92.3 L1106.7 93.8 L1106.7 95.3 L1106.8 96.8 L1106.9 98.3 L1107.0 99.8 L1107.1 101.3 L1107.1 102.8 L1107.2 104.3 L1107.3 105.8 L1107.4 107.3 L1107.4 108.8 L1107.5 110.3 L1107.6 111.8 L1107.7 113.3 L1107.7 114.8 L1107.8 116.2 L1107.9 117.7 L1107.9 119.2 L1108.0 120.7 L1108.1 122.2 L1108.2 123.7 L1108.2 125.2 L1108.3 126.7 L1108.4 128.2 L1108.5 129.7 L1108.5 131.2 L1108.6 132.7 L1108.7 134.2 L1108.8 135.7 L1108.8 137.2 L1108.9 138.7 L1109.0 140.2 L1109.1 141.7 L1109.1 143.2 L1109.2 144.7 L1109.3 146.2 L1109.4 147.7 L1109.4 149.2 L1109.5 150.7 L1109.6 152.2 L1109.6 153.7 L1109.7 155.2 L1109.8 156.7 L1109.8 158.2 L1109.9 159.7 L1110.0 161.2 L1110.1 162.7 L1110.1 164.2 L1110.2 165.7 L1110.3 167.2 L1110.3 168.7 L1110.4 170.2 L1110.5 171.7 L1110.6 173.2 L1110.7 174.7 L1110.8 176.2 L1110.8 177.7 L1110.9 179.2 L1111.0 180.7 L1111.1 182.2 L1111.2 183.7 L1111.3 185.3 L1111.4 186.8 L1111.5 188.3 L1111.6 189.8 L1111.7 191.3 L1111.9 192.8 L1112.0 194.3 L1112.1 195.8 L1112.2 197.3 L1112.3 198.8 L1112.4 200.3 L1112.5 201.8 L1112.7 203.3 L1112.8 204.8 L1112.9 206.3 L1113.0 207.8 L1113.1 209.3 L1113.3 210.7 L1113.4 212.2 L1113.5 213.7 L1113.6 215.2 L1113.7 216.7 L1113.8 218.2 L1113.9 219.7 L1114.1 221.2 L1114.2 222.7 L1114.3 224.2 L1114.4 225.7 L1114.5 227.2 L1114.6 228.7 L1114.7 230.2 L1114.8 231.7 L1115.0 233.1 L1115.1 234.6 L1115.2 236.1 L1115.3 237.6 L1115.4 239.1 L1115.5 240.7 L1115.6 242.2 L1115.8 243.7 L1115.9 245.2 L1116.1 246.8 L1116.2 248.3 L1116.4 249.8 L1116.5 251.3 L1116.7 252.9 L1116.9 254.4 L1117.1 255.9 L1117.3 257.4 L1117.5 258.9 L1117.7 260.4 L1117.9 261.9 L1118.1 263.4 L1118.3 264.9 L1118.5 266.4 L1118.7 267.9 L1118.9 269.3 L1119.1 270.8 L1119.3 272.3 L1119.5 273.8 L1119.7 275.3 L1119.9 276.7 L1120.1 278.2 L1120.3 279.7 L1120.5 281.2 L1120.7 282.6 L1120.8 284.1 L1121.0 285.6 L1121.2 287.1 L1121.4 288.6 L1121.6 290.1 L1121.8 291.6 L1122.0 293.1 L1122.1 294.5 L1122.3 296.0 L1122.5 297.5 L1122.7 299.0 L1122.9 300.5 L1123.1 302.0 L1123.3 303.5 L1123.5 305.0 L1123.7 306.5 L1123.8 308.0 L1124.0 309.4 L1124.2 310.9 L1124.4 312.4 L1124.6 313.9 L1124.8 315.4 L1125.0 316.9 L1125.2 318.4 L1125.4 319.9 L1125.6 321.4 L1125.8 323.0 L1126.1 324.5 L1126.3 326.1 L1126.6 327.7 L1126.9 329.2 L1127.2 330.7 L1127.5 332.2 L1127.8 333.7 L1128.2 335.2 L1128.5 336.7 L1128.8 338.2 L1129.2 339.6 L1129.5 341.1 L1129.8 342.6 L1130.2 344.1 L1130.5 345.5 L1130.9 347.0 L1131.2 348.5 L1131.6 350.0 L1131.9 351.5 L1132.3 353.0 L1132.7 354.4 L1133.1 355.9 L1133.5 357.4 L1133.8 358.9 L1134.3 360.4 L1134.7 361.8 L1135.1 363.3 L1135.5 364.8 L1136.0 366.3 L1136.4 367.8 L1136.9 369.3 L1137.4 370.8 L1137.9 372.3 L1138.4 373.7 L1138.9 375.2 L1139.4 376.7 L1140.0 378.1 L1140.5 379.6 L1141.1 381.0 L1141.6 382.5 L1142.2 383.9 L1142.8 385.3 L1143.4 386.8 L1144.0 388.2 L1144.6 389.6 L1145.3 391.0 L1145.9 392.4 L1146.5 393.8 L1147.2 395.2 L1147.8 396.6 L1148.5 398.0 L1149.1 399.3 L1149.8 400.7 L1150.5 402.1 L1151.1 403.4 L1151.8 404.8 L1152.5 406.1 L1153.1 407.5 L1153.8 408.8 L1154.5 410.2 L1155.3 411.5 L1156.0 412.9 L1156.7 414.3 L1157.4 415.6 L1158.2 417.0 L1159.0 418.4 L1159.8 419.7 L1160.6 421.1 L1161.5 422.5 L1162.4 423.8 L1163.3 425.2 L1164.3 426.5 L1165.3 427.8 L1166.3 429.1 L1167.4 430.4 L1168.4 431.6 L1169.5 432.8 L1170.6 434.0 L1171.7 435.1 L1172.8 436.2 L1173.9 437.3 L1175.0 438.4 L1176.0 439.5 L1177.1 440.5 L1178.1 441.6 L1179.2 442.7 L1180.2 443.8 L1181.2 444.9 L1182.3 446.0 L1183.3 447.1 L1184.4 448.2 L1185.5 449.3 L1186.5 450.4 L1187.6 451.5 L1188.7 452.6 L1189.9 453.7 L1191.0 454.8 L1192.1 455.8 L1193.2 456.9 L1194.3 457.9 L1195.4 458.9 L1196.5 460.0 L1197.6 461.0 L1198.7 462.0 L1199.8 463.1 L1200.9 464.1 L1202.0 465.1 L1203.1 466.2 L1204.2 467.2 L1205.3 468.2 L1206.3 469.2 L1207.4 470.3 L1208.5 471.3 L1209.6 472.3 L1210.7 473.4 L1211.8 474.4 L1212.9 475.4 L1214.0 476.4 L1215.0 477.4 L1216.1 478.5 L1217.2 479.5 L1218.3 480.5 L1219.4 481.5 L1220.5 482.5 L1221.6 483.6 L1222.7 484.6 L1223.8 485.6 L1224.9 486.6 L1226.0 487.7 L1227.0 488.7 L1228.1 489.7 L1229.2 490.7 L1230.2 491.7 L1231.3 492.7 L1232.3 493.7 L1233.3 494.7 L1234.4 495.8 L1235.4 496.8 L1236.4 497.8 L1237.4 498.9 L1238.4 500.0 L1239.5 501.0 L1240.5 502.1 L1241.5 503.2 L1242.5 504.3 L1243.5 505.4 L1244.6 506.5 L1245.6 507.6 L1246.6 508.7 L1247.7 509.8 L1248.7 510.9 L1249.8 512.0 L1250.8 513.1 L1251.9 514.2 L1253.0 515.3 L1254.1 516.4 L1255.2 517.5 L1256.3 518.6 L1257.4 519.6 L1258.5 520.7 L1259.6 521.7 L1260.7 522.8 L1261.8 523.8 L1262.9 524.8 L1264.0 525.8 L1265.1 526.9 L1266.2 527.9 L1267.3 528.9 L1268.4 529.9 L1269.5 531.0 L1270.6 532.0 L1271.7 533.0 L1272.8 534.0 L1273.9 535.1 L1275.0 536.1 L1276.1 537.1 L1277.2 538.1 L1278.3 539.2 L1279.4 540.2 L1280.5 541.2 L1281.6 542.2 L1282.7 543.2 L1283.7 544.3 L1284.8 545.3 L1285.9 546.3 L1287.0 547.3 L1288.1 548.4 L1289.2 549.4 L1290.3 550.4 L1291.3 551.4 L1292.4 552.5 L1293.5 553.5 L1294.6 554.5 L1295.7 555.5 L1296.8 556.6 L1297.8 557.6 L1298.9 558.6 L1300.0 559.7 L1301.1 560.7 L1302.2 561.8 L1303.3 562.8 L1304.4 563.8 L1305.4 564.9 L1306.5 565.9 L1307.6 566.9 L1308.7 568.0 L1309.8 569.0 L1310.9 570.0 L1312.0 571.1 L1313.1 572.1 L1314.2 573.1 L1315.3 574.2 L1316.5 575.2 L1317.6 576.2 L1318.7 577.3 L1319.8 578.3 L1321.0 579.3 L1322.1 580.3 L1323.3 581.3 L1324.4 582.3 L1325.6 583.3 L1326.7 584.3 L1327.9 585.3 L1329.0 586.3 L1330.2 587.3 L1331.3 588.3 L1332.5 589.3 L1333.6 590.2 L1334.8 591.2 L1336.0 592.2 L1337.1 593.1 L1338.3 594.1 L1339.4 595.1 L1340.6 596.0 L1341.7 597.0 L1342.9 597.9 L1344.0 598.9 L1345.2 599.9 L1346.3 600.8 L1347.5 601.8 L1348.7 602.7 L1349.8 603.7 L1351.0 604.7 L1352.1 605.6 L1353.3 606.6 L1354.5 607.5 L1355.6 608.5 L1356.8 609.4 L1358.0 610.4 L1359.1 611.3 L1360.3 612.3 L1361.5 613.2 L1362.7 614.2 L1363.8 615.1 L1365.0 616.1 L1366.2 617.0 L1367.4 618.0 L1368.5 618.9 L1369.7 619.8 L1370.9 620.8 L1372.1 621.7 L1373.2 622.7 L1374.4 623.6 L1375.6 624.5 L1376.8 625.5 L1378.0 626.4 L1379.2 627.3 L1380.5 628.2 L1381.7 629.1 L1382.9 630.0 L1384.1 630.9 L1385.3 631.8 L1386.5 632.7 L1387.8 633.6 L1389.0 634.5 L1390.2 635.4 L1391.4 636.3 L1392.7 637.2 L1393.9 638.1 L1395.1 639.0 L1396.3 639.8 L1397.6 640.7 L1398.8 641.6 L1400.1 642.4 L1401.3 643.3 L1402.5 644.2 L1403.8 645.0 L1405.0 645.9 L1406.3 646.8 L1407.5 647.7 L1408.7 648.6 L1409.9 649.5 L1411.2 650.4 L1412.4 651.3 L1413.7 652.1 L1414.9 653.0 L1416.1 653.9 L1417.4 654.8 L1418.6 655.6 L1419.9 656.5 L1421.1 657.3 L1422.4 658.2 L1423.7 659.0 L1424.9 659.9 L1426.2 660.7 L1427.5 661.6 L1428.7 662.4 L1430.0 663.2 L1431.2 664.1 L1439.2 651.5 L1437.9 650.8 L1436.6 650.0 L1435.3 649.2 L1434.1 648.4 L1432.8 647.7 L1431.6 646.9 L1430.3 646.1 L1429.0 645.3 L1427.8 644.5 L1426.6 643.7 L1425.3 642.9 L1424.1 642.1 L1422.8 641.3 L1421.6 640.5 L1420.4 639.7 L1419.1 638.9 L1417.9 638.1 L1416.7 637.2 L1415.5 636.4 L1414.2 635.6 L1413.0 634.7 L1411.8 633.8 L1410.6 632.9 L1409.5 632.0 L1408.3 631.1 L1407.1 630.2 L1405.9 629.4 L1404.7 628.5 L1403.5 627.6 L1402.3 626.7 L1401.2 625.8 L1400.0 624.8 L1398.8 623.9 L1397.6 623.0 L1396.5 622.1 L1395.3 621.2 L1394.1 620.3 L1393.0 619.4 L1391.8 618.4 L1390.6 617.5 L1389.5 616.6 L1388.3 615.7 L1387.2 614.7 L1386.0 613.8 L1384.9 612.9 L1383.7 611.9 L1382.6 611.0 L1381.4 610.1 L1380.2 609.1 L1379.1 608.2 L1377.9 607.2 L1376.8 606.3 L1375.6 605.4 L1374.4 604.4 L1373.3 603.5 L1372.1 602.5 L1371.0 601.6 L1369.8 600.6 L1368.7 599.7 L1367.5 598.7 L1366.4 597.8 L1365.2 596.8 L1364.1 595.9 L1362.9 594.9 L1361.8 594.0 L1360.6 593.0 L1359.5 592.1 L1358.3 591.1 L1357.2 590.1 L1356.1 589.2 L1354.9 588.2 L1353.8 587.3 L1352.6 586.3 L1351.5 585.3 L1350.3 584.4 L1349.2 583.4 L1348.0 582.4 L1346.9 581.5 L1345.7 580.5 L1344.6 579.6 L1343.5 578.6 L1342.3 577.6 L1341.2 576.7 L1340.1 575.7 L1338.9 574.7 L1337.8 573.8 L1336.7 572.8 L1335.6 571.8 L1334.5 570.9 L1333.4 569.9 L1332.3 568.9 L1331.2 567.9 L1330.1 566.9 L1329.0 566.0 L1327.9 565.0 L1326.8 564.0 L1325.7 563.0 L1324.7 562.0 L1323.6 560.9 L1322.5 559.9 L1321.4 558.9 L1320.3 557.9 L1319.2 556.9 L1318.1 555.8 L1317.1 554.8 L1316.0 553.8 L1314.9 552.7 L1313.8 551.7 L1312.7 550.7 L1311.6 549.7 L1310.6 548.6 L1309.5 547.6 L1308.4 546.5 L1307.3 545.5 L1306.2 544.5 L1305.1 543.4 L1304.0 542.4 L1303.0 541.4 L1301.9 540.3 L1300.8 539.3 L1299.7 538.3 L1298.6 537.2 L1297.5 536.2 L1296.4 535.2 L1295.3 534.1 L1294.2 533.1 L1293.1 532.1 L1292.0 531.1 L1290.9 530.0 L1289.8 529.0 L1288.7 528.0 L1287.6 527.0 L1286.5 525.9 L1285.4 524.9 L1284.3 523.9 L1283.2 522.9 L1282.1 521.9 L1281.0 520.8 L1279.9 519.8 L1278.8 518.8 L1277.7 517.8 L1276.6 516.8 L1275.5 515.8 L1274.4 514.7 L1273.3 513.7 L1272.2 512.7 L1271.1 511.7 L1270.0 510.7 L1268.9 509.7 L1267.9 508.6 L1266.8 507.6 L1265.8 506.6 L1264.7 505.6 L1263.7 504.6 L1262.7 503.6 L1261.6 502.6 L1260.6 501.5 L1259.6 500.5 L1258.6 499.4 L1257.5 498.3 L1256.5 497.2 L1255.5 496.2 L1254.5 495.1 L1253.4 494.0 L1252.4 492.9 L1251.3 491.8 L1250.3 490.7 L1249.2 489.6 L1248.2 488.5 L1247.1 487.4 L1246.0 486.3 L1244.9 485.2 L1243.8 484.1 L1242.7 483.0 L1241.6 481.9 L1240.5 480.9 L1239.3 479.8 L1238.2 478.8 L1237.1 477.8 L1236.0 476.8 L1234.8 475.8 L1233.7 474.8 L1232.6 473.8 L1231.5 472.8 L1230.3 471.8 L1229.2 470.8 L1228.1 469.8 L1227.0 468.8 L1225.8 467.8 L1224.7 466.8 L1223.6 465.8 L1222.5 464.8 L1221.3 463.8 L1220.2 462.8 L1219.1 461.8 L1217.9 460.9 L1216.8 459.9 L1215.6 458.9 L1214.5 457.9 L1213.3 457.0 L1212.2 456.0 L1211.1 455.0 L1209.9 454.0 L1208.8 453.1 L1207.6 452.1 L1206.5 451.1 L1205.4 450.1 L1204.2 449.2 L1203.1 448.2 L1202.0 447.2 L1200.9 446.3 L1199.8 445.3 L1198.7 444.3 L1197.6 443.3 L1196.6 442.3 L1195.6 441.3 L1194.5 440.3 L1193.5 439.3 L1192.5 438.2 L1191.4 437.2 L1190.4 436.1 L1189.4 435.0 L1188.3 434.0 L1187.3 432.9 L1186.2 431.8 L1185.2 430.7 L1184.2 429.6 L1183.2 428.5 L1182.3 427.4 L1181.3 426.4 L1180.4 425.3 L1179.5 424.2 L1178.7 423.1 L1177.9 422.0 L1177.0 420.9 L1176.3 419.8 L1175.5 418.6 L1174.8 417.5 L1174.1 416.3 L1173.3 415.1 L1172.7 413.9 L1172.0 412.7 L1171.3 411.5 L1170.6 410.2 L1170.0 408.9 L1169.3 407.6 L1168.7 406.3 L1168.0 405.0 L1167.4 403.7 L1166.8 402.4 L1166.1 401.0 L1165.4 399.7 L1164.8 398.4 L1164.1 397.0 L1163.5 395.7 L1162.8 394.4 L1162.2 393.0 L1161.5 391.7 L1160.9 390.4 L1160.3 389.1 L1159.6 387.7 L1159.0 386.4 L1158.4 385.1 L1157.8 383.8 L1157.2 382.4 L1156.6 381.1 L1156.1 379.7 L1155.5 378.4 L1154.9 377.1 L1154.4 375.7 L1153.9 374.4 L1153.3 373.0 L1152.8 371.7 L1152.3 370.3 L1151.8 369.0 L1151.4 367.6 L1150.9 366.3 L1150.4 364.9 L1150.0 363.5 L1149.6 362.2 L1149.1 360.8 L1148.7 359.4 L1148.3 358.0 L1147.9 356.6 L1147.5 355.1 L1147.1 353.7 L1146.8 352.3 L1146.4 350.9 L1146.0 349.5 L1145.7 348.1 L1145.3 346.6 L1145.0 345.2 L1144.6 343.8 L1144.3 342.3 L1143.9 340.9 L1143.6 339.4 L1143.3 338.0 L1143.0 336.5 L1142.6 335.1 L1142.3 333.6 L1142.0 332.2 L1141.7 330.7 L1141.3 329.3 L1141.0 327.9 L1140.7 326.5 L1140.5 325.0 L1140.2 323.6 L1140.0 322.3 L1139.7 320.8 L1139.5 319.4 L1139.3 318.0 L1139.1 316.5 L1138.9 315.1 L1138.7 313.6 L1138.5 312.1 L1138.3 310.6 L1138.2 309.1 L1138.0 307.6 L1137.8 306.2 L1137.6 304.7 L1137.4 303.2 L1137.2 301.7 L1137.0 300.2 L1136.8 298.7 L1136.6 297.3 L1136.4 295.8 L1136.3 294.3 L1136.1 292.8 L1135.9 291.3 L1135.7 289.8 L1135.5 288.3 L1135.3 286.8 L1135.1 285.4 L1135.0 283.9 L1134.8 282.4 L1134.6 280.9 L1134.4 279.4 L1134.2 277.9 L1134.0 276.4 L1133.8 274.9 L1133.6 273.4 L1133.4 271.9 L1133.2 270.4 L1133.0 268.9 L1132.8 267.4 L1132.6 265.9 L1132.4 264.5 L1132.2 263.0 L1132.0 261.5 L1131.8 260.0 L1131.6 258.5 L1131.4 257.1 L1131.2 255.6 L1131.0 254.1 L1130.8 252.7 L1130.7 251.2 L1130.5 249.7 L1130.3 248.3 L1130.2 246.8 L1130.0 245.4 L1129.9 243.9 L1129.7 242.5 L1129.6 241.0 L1129.5 239.5 L1129.4 238.1 L1129.3 236.6 L1129.2 235.1 L1129.0 233.6 L1128.9 232.1 L1128.8 230.6 L1128.7 229.1 L1128.6 227.6 L1128.5 226.1 L1128.4 224.6 L1128.3 223.1 L1128.1 221.6 L1128.0 220.1 L1127.9 218.6 L1127.8 217.1 L1127.7 215.6 L1127.6 214.1 L1127.5 212.6 L1127.3 211.1 L1127.2 209.6 L1127.1 208.1 L1127.0 206.7 L1126.9 205.2 L1126.8 203.7 L1126.6 202.2 L1126.5 200.7 L1126.4 199.2 L1126.3 197.7 L1126.2 196.2 L1126.1 194.7 L1125.9 193.2 L1125.8 191.7 L1125.7 190.3 L1125.6 188.8 L1125.5 187.3 L1125.4 185.8 L1125.3 184.3 L1125.2 182.8 L1125.1 181.3 L1125.0 179.9 L1124.9 178.4 L1124.8 176.9 L1124.7 175.4 L1124.7 173.9 L1124.6 172.4 L1124.5 170.9 L1124.4 169.4 L1124.3 168.0 L1124.3 166.5 L1124.2 165.0 L1124.1 163.5 L1124.0 162.0 L1124.0 160.5 L1123.9 159.0 L1123.8 157.5 L1123.8 156.0 L1123.7 154.5 L1123.6 153.0 L1123.6 151.5 L1123.5 150.0 L1123.4 148.5 L1123.3 147.0 L1123.3 145.5 L1123.2 144.0 L1123.1 142.5 L1123.1 141.0 L1123.0 139.5 L1122.9 138.0 L1122.8 136.5 L1122.8 135.0 L1122.7 133.5 L1122.6 132.0 L1122.5 130.5 L1122.5 129.0 L1122.4 127.5 L1122.3 126.0 L1122.2 124.5 L1122.2 123.0 L1122.1 121.5 L1122.0 120.0 L1121.9 118.5 L1121.9 117.0 L1121.8 115.5 L1121.7 114.1 L1121.6 112.6 L1121.6 111.1 L1121.5 109.6 L1121.4 108.1 L1121.3 106.6 L1121.3 105.1 L1121.2 103.6 L1121.1 102.1 L1121.0 100.6 L1121.0 99.1 L1120.9 97.6 L1120.8 96.1 L1120.7 94.6 L1120.6 93.1 L1120.6 91.5 L1120.5 90.0 L1120.4 88.5 L1120.3 87.0 L1120.2 85.5 L1120.1 84.0 L1120.0 82.5 L1119.9 81.0 L1119.9 79.5 L1119.8 78.0 L1119.7 76.5 L1119.6 75.0 L1119.5 73.5 L1119.4 72.0 L1119.3 70.5 L1119.2 69.0 L1119.1 67.5 L1119.0 66.0ZM1105.4 66.5a6.6 6.6 0 1 0 13.2 0a6.6 6.6 0 1 0 -13.2 0ZM1428.6 657.8a6.6 6.6 0 1 0 13.2 0a6.6 6.6 0 1 0 -13.2 0Z"/>
</g>
<g fill="#000000" shape-rendering="crispEdges"><rect x="181" y="63" width="2" height="781"/><rect x="1437" y="63" width="2" height="781"/><rect x="181" y="63" width="1258" height="1"/><rect x="181" y="842" width="1258" height="2"/><rect x="224" y="64" width="1" height="9"/><rect x="224" y="834" width="1" height="8"/><rect x="265" y="64" width="2" height="9"/><rect x="265" y="834" width="2" height="8"/><rect x="307" y="64" width="2" height="9"/><rect x="307" y="834" width="2" height="8"/><rect x="349" y="64" width="2" height="9"/><rect x="349" y="834" width="2" height="8"/><rect x="392" y="64" width="1" height="15"/><rect x="392" y="828" width="1" height="14"/><rect x="434" y="64" width="1" height="9"/><rect x="434" y="834" width="1" height="8"/><rect x="475" y="64" width="2" height="9"/><rect x="475" y="834" width="2" height="8"/><rect x="516" y="64" width="2" height="9"/><rect x="516" y="834" width="2" height="8"/><rect x="558" y="64" width="2" height="9"/><rect x="558" y="834" width="2" height="8"/><rect x="600" y="64" width="2" height="15"/><rect x="600" y="828" width="2" height="14"/><rect x="642" y="64" width="2" height="9"/><rect x="642" y="834" width="2" height="8"/><rect x="684" y="64" width="2" height="9"/><rect x="684" y="834" width="2" height="8"/><rect x="726" y="64" width="2" height="9"/><rect x="726" y="834" width="2" height="8"/><rect x="768" y="64" width="2" height="9"/><rect x="768" y="834" width="2" height="8"/><rect x="810" y="64" width="2" height="15"/><rect x="810" y="828" width="2" height="14"/><rect x="851" y="64" width="2" height="9"/><rect x="851" y="834" width="2" height="8"/><rect x="893" y="64" width="2" height="9"/><rect x="893" y="834" width="2" height="8"/><rect x="935" y="64" width="2" height="9"/><rect x="935" y="834" width="2" height="8"/><rect x="977" y="64" width="2" height="9"/><rect x="977" y="834" width="2" height="8"/><rect x="1019" y="64" width="2" height="15"/><rect x="1019" y="828" width="2" height="14"/><rect x="1061" y="64" width="2" height="9"/><rect x="1061" y="834" width="2" height="8"/><rect x="1103" y="64" width="2" height="9"/><rect x="1103" y="834" width="2" height="8"/><rect x="1144" y="64" width="2" height="9"/><rect x="1144" y="834" width="2" height="8"/><rect x="1186" y="64" width="2" height="9"/><rect x="1186" y="834" width="2" height="8"/><rect x="1228" y="64" width="2" height="15"/><rect x="1228" y="828" width="2" height="14"/><rect x="1270" y="64" width="2" height="9"/><rect x="1270" y="834" width="2" height="8"/><rect x="1312" y="64" width="2" height="9"/><rect x="1312" y="834" width="2" height="8"/><rect x="1354" y="64" width="2" height="9"/><rect x="1354" y="834" width="2" height="8"/><rect x="1396" y="64" width="2" height="9"/><rect x="1396" y="834" width="2" height="8"/><rect x="183" y="803" width="9" height="2"/><rect x="1429" y="803" width="8" height="2"/><rect x="183" y="765" width="9" height="1"/><rect x="1429" y="765" width="8" height="1"/><rect x="183" y="726" width="9" height="1"/><rect x="1429" y="726" width="8" height="1"/><rect x="183" y="687" width="15" height="1"/><rect x="1423" y="687" width="14" height="1"/><rect x="183" y="648" width="9" height="1"/><rect x="1429" y="648" width="8" height="1"/><rect x="183" y="609" width="9" height="1"/><rect x="1429" y="609" width="8" height="1"/><rect x="183" y="570" width="9" height="1"/><rect x="1429" y="570" width="8" height="1"/><rect x="183" y="531" width="15" height="1"/><rect x="1423" y="531" width="14" height="1"/><rect x="183" y="492" width="9" height="1"/><rect x="1429" y="492" width="8" height="1"/><rect x="183" y="453" width="9" height="1"/><rect x="1429" y="453" width="8" height="1"/><rect x="183" y="413" width="9" height="2"/><rect x="1429" y="413" width="8" height="2"/><rect x="183" y="374" width="15" height="2"/><rect x="1423" y="374" width="14" height="2"/><rect x="183" y="335" width="9" height="2"/><rect x="1429" y="335" width="8" height="2"/><rect x="183" y="296" width="9" height="2"/><rect x="1429" y="296" width="8" height="2"/><rect x="183" y="257" width="9" height="2"/><rect x="1429" y="257" width="8" height="2"/><rect x="183" y="219" width="15" height="1"/><rect x="1423" y="219" width="14" height="1"/><rect x="183" y="180" width="9" height="1"/><rect x="1429" y="180" width="8" height="1"/><rect x="183" y="141" width="9" height="1"/><rect x="1429" y="141" width="8" height="1"/><rect x="183" y="102" width="9" height="1"/><rect x="1429" y="102" width="8" height="1"/></g>
<g font-family="'Liberation Serif', serif" fill="#000000" stroke="#ffffff" stroke-width="0.6" paint-order="fill stroke">
<text transform="translate(167.6 862.0) scale(1.0 1.03)" text-anchor="end" font-size="60">1.0</text>
<text transform="translate(167.6 706.1) scale(1.0 1.03)" text-anchor="end" font-size="60">1.2</text>
<text transform="translate(167.6 550.2) scale(1.0 1.03)" text-anchor="end" font-size="60">1.4</text>
<text transform="translate(167.6 394.4) scale(1.0 1.03)" text-anchor="end" font-size="60">1.6</text>
<text transform="translate(167.6 238.5) scale(1.0 1.03)" text-anchor="end" font-size="60">1.8</text>
<text transform="translate(167.6 82.6) scale(1.0 1.03)" text-anchor="end" font-size="60">2.0</text>
<text transform="translate(199.0 902.8) scale(1.0 1.03)" text-anchor="middle" font-size="60">0.0</text>
<text transform="translate(391.3 902.8) scale(1.0 1.03)" text-anchor="middle" font-size="60">0.5</text>
<text transform="translate(600.7 902.8) scale(1.0 1.03)" text-anchor="middle" font-size="60">1.0</text>
<text transform="translate(810.0 902.8) scale(1.0 1.03)" text-anchor="middle" font-size="60">1.5</text>
<text transform="translate(1019.3 902.8) scale(1.0 1.03)" text-anchor="middle" font-size="60">2.0</text>
<text transform="translate(1228.7 902.8) scale(1.0 1.03)" text-anchor="middle" font-size="60">2.5</text>
<text transform="translate(1438.0 902.8) scale(1.0 1.03)" text-anchor="middle" font-size="60">3.0</text>
<text x="724.6" y="965.2" font-size="60" textLength="273.6" lengthAdjust="spacingAndGlyphs">fd[MHz-m]</text>
<text transform="translate(25.8 519.5) skewX(-12) scale(0.87 1)" font-size="72" font-style="italic">V</text><text transform="translate(70 529.6) skewX(-6) scale(1.08 1)" font-size="46" font-style="italic">p</text>
</g>
</svg>
</body></html>
